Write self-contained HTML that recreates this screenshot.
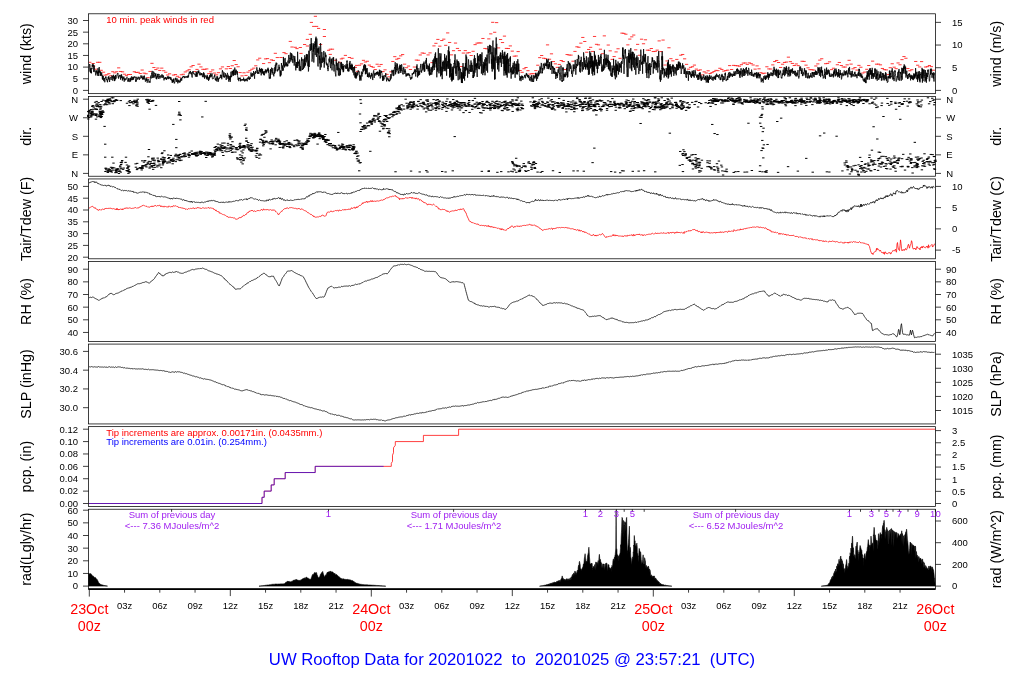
<!DOCTYPE html>
<html><head><meta charset="utf-8"><title>UW Rooftop Data</title><style>html,body{margin:0;padding:0;background:#fff;overflow:hidden}svg{display:block}text{white-space:pre}</style></head><body>
<svg width="1024" height="700" viewBox="0 0 1024 700" font-family="'Liberation Sans', Arial, Helvetica, sans-serif" style="white-space:pre">
<rect width="1024" height="700" fill="#fff"/>
<path d="M103.37,75.14H106.57M105.32,74.74H108.52M107.28,73.68H110.48M109.24,75.79H112.44M111.2,71.72H114.4M113.16,72.86H116.36M115.12,71.75H118.32M117.07,67.86H120.27M119.03,71.48H122.23M120.99,71.84H124.19M122.95,74.21H126.15M124.91,75.66H128.11M126.87,74.49H130.07M128.82,74.49H132.02M132.74,71.75H135.94M134.7,72.49H137.9M136.66,72.31H139.86M138.62,73.54H141.82M140.57,70.04H143.77M142.53,73.13H145.73M144.49,73.76H147.69M146.45,77.63H149.65M148.41,71.43H151.61M150.37,63.33H153.57M152.32,67.54H155.52M154.28,69.59H157.48M156.24,68.07H159.44M158.2,70.44H161.4M160.16,68.14H163.36M162.12,70.73H165.32M164.07,72.24H167.27M166.03,74.99H169.23M167.99,73.82H171.19M171.91,75.09H175.11M173.87,74.56H177.07M175.82,76.27H179.02M177.78,77.32H180.98M179.74,74.79H182.94M181.7,74.26H184.9M183.66,71.96H186.86M185.62,70.87H188.82M187.57,69.69H190.77M189.53,66.83H192.73M191.49,65.51H194.69M193.45,71.6H196.65M195.41,69.41H198.61M197.37,64.17H200.57M199.32,66.91H202.52M201.28,69.31H204.48M203.24,69.37H206.44M205.2,68.91H208.4M207.16,73.64H210.36M209.12,71.82H212.32M211.07,69.93H214.27M213.03,73.06H216.23M214.99,74.86H218.19M216.95,72.68H220.15M218.91,68.85H222.11M220.87,66.93H224.07M224.78,68.84H227.98M226.74,66.53H229.94M228.7,68.51H231.9M230.66,65.76H233.86M232.62,60.54H235.82M234.57,64.55H237.77M236.53,66.77H239.73M238.49,72.58H241.69M240.45,75.86H243.65M242.41,72.8H245.61M244.37,75.43H247.57M246.32,72.2H249.52M248.28,70.71H251.48M250.24,69.28H253.44M252.2,68.13H255.4M254.16,65.81H257.36M256.12,59.91H259.32M258.07,58.21H261.27M261.99,63.57H265.19M263.95,58.89H267.15M265.91,58.62H269.11M267.87,62.68H271.07M269.82,59.89H273.02M271.78,60.45H274.98M273.74,53.3H276.94M275.7,57.55H278.9M357.95,65.24H361.15M359.91,63.86H363.11M361.87,60.34H365.07M363.82,62H367.02M365.78,61.24H368.98M367.74,65.1H370.94M369.7,66.49H372.9M371.66,67.25H374.86M373.62,69.55H376.82M375.57,64.22H378.77M377.53,66.3H380.73M379.49,64.46H382.69M381.45,71.62H384.65M383.41,69.83H386.61M385.37,74.36H388.57M387.32,76.83H390.52M389.28,71.82H392.48M391.24,61.46H394.44M393.2,56.65H396.4M395.16,59.2H398.36M397.12,58.36H400.32M399.07,55.87H402.27M401.03,54.57H404.23M402.99,64.16H406.19M404.95,67.71H408.15M406.91,66.07H410.11M408.87,69.47H412.07M412.78,67.04H415.98M414.74,60.05H417.94M416.7,60.25H419.9M418.66,54.96H421.86M420.62,52.98H423.82M422.57,53.3H425.77M426.49,54.92H429.69M428.45,52.9H431.65M430.41,62.61H433.61M432.37,45.9H435.57M434.32,43.32H437.52M436.28,39.42H439.48M438.24,46.16H441.44M440.2,40.53H443.4M442.16,39.16H445.36M444.12,45.33H447.32M446.07,32.92H449.27M448.03,42.48H451.23M449.99,54.87H453.19M451.95,50.7H455.15M453.91,43.07H457.11M455.87,48.44H459.07M457.82,50.6H461.02M459.78,66.52H462.98M461.74,53.05H464.94M463.7,50.61H466.9M465.66,53.02H468.86M467.62,52.62H470.82M469.57,55.5H472.77M471.53,51.3H474.73M473.49,44.63H476.69M475.45,43.14H478.65M477.41,42.9H480.61M479.37,42.97H482.57M481.32,38.48H484.52M483.28,48.44H486.48M485.24,48.84H488.44M487.2,38.88H490.4M489.16,33.86H492.36M491.12,22.32H494.32M493.07,32.28H496.27M495.03,22.61H498.23M496.99,47.92H500.19M498.95,39.53H502.15M500.91,42.55H504.11M502.87,36.11H506.07M504.82,48.42H508.02M506.78,48.53H509.98M508.74,45.91H511.94M510.7,51.13H513.9M512.66,56.2H515.86M514.62,55.99H517.82M516.57,51.57H519.77M518.53,70.48H521.73M520.49,72.3H523.69M522.45,68.76H525.65M524.41,67.51H527.61M526.37,70.7H529.57M528.32,74.06H531.52M530.28,73.63H533.48M532.24,73.76H535.44M534.2,70.63H537.4M536.16,65.22H539.36M538.12,57.65H541.32M540.07,55.52H543.27M542.03,58.23H545.23M543.99,58.63H547.19M545.95,44.88H549.15M547.91,59.22H551.11M549.87,53.84H553.07M551.82,61.54H555.02M553.78,63.86H556.98M555.74,67.36H558.94M557.7,64.44H560.9M559.66,60.5H562.86M561.62,61.55H564.82M563.57,69.49H566.77M565.53,54.54H568.73M567.49,55.02H570.69M569.45,55.11H572.65M571.41,61.2H574.61M573.37,51.41H576.57M575.32,46.8H578.52M577.28,47.28H580.48M579.24,43.17H582.44M581.2,37.44H584.4M583.16,41.49H586.36M585.12,52.22H588.32M587.07,49.48H590.27M589.03,47.32H592.23M590.99,51.43H594.19M592.95,36.46H596.15M594.91,44.32H598.11M596.87,44.87H600.07M598.82,49.21H602.02M600.78,53.7H603.98M602.74,35.86H605.94M606.66,45.04H609.86M608.62,50.85H611.82M610.57,59.39H613.77M612.53,56.56H615.73M614.49,51.92H617.69M616.45,48.77H619.65M618.41,58.33H621.61M620.37,33.13H623.57M622.32,33.38H625.52M624.28,34.2H627.48M626.24,44.86H629.44M628.2,39.09H631.4M630.16,36.84H633.36M632.12,35.05H635.32M634.07,49.82H637.27M636.03,44.37H639.23M637.99,55.27H641.19M639.95,39.19H643.15M641.91,43.75H645.11M643.87,39.79H647.07M645.82,50.16H649.02M647.78,50.25H650.98M649.74,48.5H652.94M651.7,51.54H654.9M653.66,51.39H656.86M655.62,50.13H658.82M657.57,40.9H660.77M659.53,51.56H662.73M661.49,40.07H664.69M663.45,65.02H666.65M665.41,60.94H668.61M667.37,47.78H670.57M669.32,58.68H672.52M671.28,60.83H674.48M675.2,59.42H678.4M679.12,55.19H682.32M681.07,54.47H684.27M683.03,58.83H686.23M684.99,64.37H688.19M686.95,69.16H690.15M688.91,67.37H692.11M690.87,66.72H694.07M692.82,65.08H696.02M694.78,69.11H697.98M696.74,70.46H699.94M698.7,69.86H701.9M700.66,74.86H703.86M702.62,71.87H705.82M704.57,72.97H707.77M706.53,70.8H709.73M708.49,73.53H711.69M710.45,72.62H713.65M712.41,71.56H715.61M714.37,70.36H717.57M716.32,70.68H719.52M718.28,68.27H721.48M720.24,69.43H723.44M722.2,71.12H725.4M724.16,70.56H727.36M726.12,70.11H729.32M728.07,65.6H731.27M730.03,69.49H733.23M731.99,65.36H735.19M733.95,65.61H737.15M735.91,65.77H739.11M737.87,66.18H741.07M739.82,64.66H743.02M741.78,63.1H744.98M743.74,62.97H746.94M745.7,64.37H748.9M747.66,62.85H750.86M749.62,63.67H752.82M751.57,64.99H754.77M753.53,69.14H756.73M755.49,65.89H758.69M757.45,68.82H760.65M759.41,72.69H762.61M761.37,73.6H764.57M763.32,73.15H766.52M765.28,66.78H768.48M767.24,68.91H770.44M769.2,69.03H772.4M771.16,64.89H774.36M773.12,61.55H776.32M775.07,60.47H778.27M777.03,62.5H780.23M778.99,67.46H782.19M780.95,64.23H784.15M782.91,62.45H786.11M784.87,62.06H788.07M786.82,57.16H790.02M788.78,61.65H791.98M790.74,63.43H793.94M792.7,65.52H795.9M794.66,63.96H797.86M796.62,65.64H799.82M800.53,61.26H803.73M802.49,61.42H805.69M804.45,65.15H807.65M806.41,67.82H809.61M808.37,69.68H811.57M810.32,69.68H813.52M812.28,70.05H815.48M814.24,65.98H817.44M816.2,63.9H819.4M818.16,60.14H821.36M820.12,58.75H823.32M824.03,63.7H827.23M825.99,63.4H829.19M827.95,61.83H831.15M829.91,69.65H833.11M831.87,68.24H835.07M835.78,64.74H838.98M837.74,62.47H840.94M839.7,65.52H842.9M841.66,67.03H844.86M843.62,67.05H846.82M845.57,64.83H848.77M847.53,60.32H850.73M849.49,64.12H852.69M851.45,68.82H854.65M853.41,67.57H856.61M855.37,70.07H858.57M857.32,65.39H860.52M859.28,67.24H862.48M861.24,73.03H864.44M863.2,72.09H866.4M865.16,69.3H868.36M867.12,65.52H870.32M871.03,61.13H874.23M874.95,64.18H878.15M876.91,64.11H880.11M878.87,64.85H882.07M880.82,68.48H884.02M882.78,69.64H885.98M884.74,69.9H887.94M886.7,74.6H889.9M888.66,67.73H891.86M890.62,63.75H893.82M892.57,67.19H895.77M894.53,68.66H897.73M896.49,62.95H899.69M898.45,64.78H901.65M900.41,59.65H903.61M902.37,56.57H905.57M904.32,58.25H907.52M906.28,68.55H909.48M908.24,70.75H911.44M910.2,69.74H913.4M914.12,61.46H917.32M916.07,65.22H919.27M918.03,66.94H921.23M919.99,61.6H923.19M923.91,67.03H927.11M925.87,66.67H929.07M927.82,65.49H931.02M929.78,66.65H932.98M931.74,70.21H934.94M279.4,57.5H282.6M288.7,41.4H291.9M284.4,53.7H287.6M282.4,52.6H285.6M290.4,47H293.6M293.7,47.3H296.9M295.4,48.6H298.6M298.7,47.5H301.9M299.4,53.4H302.6M303,44.5H306.2M305.8,39.4H309M308.7,34.3H311.9M305.8,46H309M309.8,22.4H313M312.1,26.4H315.3M315,26.4H318.2M317,28.4H320.2M313.8,16.3H317M322.8,29.5H326M322.8,36.5H326M319,44.5H322.2M327,50.3H330.2M328.7,49.2H331.9M330.9,49.2H334.1M328.7,54.4H331.9M334.1,60.3H337.3M337.8,62.3H341M339.8,58.9H343M343.8,55.4H347M341.3,58.2H344.5M347.8,57.5H351M350.4,58.3H353.6M355,65.4H358.2M353.8,67.4H357M356.1,71.4H359.3M88.9,62.3H91.4M91.6,63.5H94.8M96,62.3H99.2M98.2,62.3H101.4M92,66.2H95.2M94.2,69.2H97.4M99.6,70.3H102.8M101.9,72.2H105.1" stroke="#ff2020" stroke-width="0.9" fill="none"/>
<polyline points="89,71.78 89.2,71.42 89.4,65.92 89.6,64.02 89.8,64.41 90,64.8 90.2,67.68 90.4,72.42 90.6,68.36 90.8,71.02 91,73.12 91.2,71.22 91.4,73.31 91.6,68.06 91.8,68.26 92,69.18 92.2,64.72 92.4,66.57 92.6,64.21 92.8,64.03 93,63.69 93.2,66.06 93.4,64.7 93.6,71.77 93.8,71.95 94,69.48 94.2,65.4 94.4,67.99 94.6,69.25 94.8,71.58 95,70.39 95.2,72.4 95.4,72.47 95.6,73.85 95.8,75.45 96,71.01 96.2,71.51 96.4,72.5 96.6,70.34 96.8,71.98 97,73.49 97.2,74.16 97.4,71.6 97.6,73.14 97.8,75.81 98,68.23 98.2,73.26 98.4,72.83 98.6,70.68 98.8,76.03 99,71.01 99.2,67.07 99.4,70.01 99.6,72.14 99.8,71.33 100,72.97 100.2,71.46 100.4,72.07 100.6,75.75 100.8,71.89 101,75.42 101.2,74.55 101.4,75.65 101.6,72.68 101.8,73.45 102,74.84 102.2,77.33 102.4,79.34 102.6,75.51 102.8,77.58 103,79.8 103.2,75.95 103.4,79.2 103.6,79.27 103.8,81.12 104,80.24 104.2,77.9 104.4,78.07 104.6,79.18 104.8,82.28 105,79.21 105.2,78.14 105.4,78.31 105.6,76.69 105.8,77.64 106,76.65 106.2,78.45 106.4,78.38 106.6,80.04 106.8,79.36 107,79.7 107.2,81.43 107.4,80.6 107.6,82.25 107.8,79.61 108,79.91 108.2,76.9 108.4,79.27 108.6,76.86 108.8,76.21 109,78.42 109.2,77.84 109.4,80.23 109.6,81.97 109.8,78.6 110,78.12 110.2,77.45 110.4,77.1 110.6,77.41 110.8,78.06 111,79.71 111.2,80.06 111.4,77.2 111.6,77.32 111.8,76.91 112,75.42 112.2,77.74 112.4,76.11 112.6,80.46 112.8,80.66 113,79.38 113.2,79.14 113.4,78.54 113.6,74.8 113.8,76.55 114,78.71 114.2,76.02 114.4,81.11 114.6,77.01 114.8,80.82 115,77.69 115.2,79.45 115.4,77.45 115.6,74.96 115.8,78.97 116,78.31 116.2,78.07 116.4,76.81 116.6,76.19 116.8,75.67 117,75.85 117.2,73.85 117.4,74 117.6,73.21 117.8,73.45 118,73.14 118.2,77.44 118.4,76.67 118.6,78.62 118.8,77.74 119,75.88 119.2,76.51 119.4,75.13 119.6,75.12 119.8,75.79 120,75.64 120.2,74.82 120.4,76.86 120.6,79.67 120.8,75.82 121,75.35 121.2,76.43 121.4,77.81 121.6,74.34 121.8,77.43 122,78.23 122.2,76.25 122.4,80.49 122.6,77.75 122.8,77.64 123,77.38 123.2,79.28 123.4,77.52 123.6,77.88 123.8,76.64 124,76.6 124.2,81.68 124.4,78.83 124.6,79.87 124.8,78.98 125,78.02 125.2,78.88 125.4,80.31 125.6,79.31 125.8,79.5 126,78.9 126.2,79.15 126.4,79.16 126.6,78.71 126.8,77.42 127,76.79 127.2,79.13 127.4,79.95 127.6,80.04 127.8,81.62 128,80.99 128.2,80.22 128.4,80.04 128.6,78.3 128.8,81.6 129,78.45 129.2,81.42 129.4,81.48 129.6,81.58 129.8,81.74 130,81.67 130.2,77.89 130.4,77.87 130.6,81.47 130.8,78.43 131,79.9 131.2,80.02 131.4,76.48 131.6,76.53 131.8,79.93 132,80.09 132.2,79.44 132.4,80.09 132.6,77.93 132.8,76.8 133,79.49 133.2,77.68 133.4,76.89 133.6,79.56 133.8,77.35 134,77.3 134.2,76.58 134.4,76.6 134.6,76.54 134.8,77.6 135,77.86 135.2,76.69 135.4,78.38 135.6,79.81 135.8,81.89 136,79.77 136.2,81.4 136.4,79.12 136.6,78.27 136.8,76.81 137,78.37 137.2,79.55 137.4,79.18 137.6,78.73 137.8,77.86 138,79.31 138.2,77.79 138.4,76.88 138.6,77.47 138.8,76.93 139,76.77 139.2,78.18 139.4,79.79 139.6,78.92 139.8,77.59 140,77.58 140.2,78.51 140.4,77.49 140.6,76.77 140.8,75.5 141,76.3 141.2,76.68 141.4,77.23 141.6,78.1 141.8,75.61 142,77.58 142.2,77.01 142.4,78.96 142.6,78.28 142.8,79.72 143,78.25 143.2,75.86 143.4,78.98 143.6,79.19 143.8,77.48 144,79.36 144.2,78.81 144.4,75.55 144.6,77.65 144.8,78.37 145,79.69 145.2,79.27 145.4,81.63 145.6,80.66 145.8,80.82 146,78.56 146.2,77.66 146.4,79.93 146.6,79.09 146.8,81.04 147,78.63 147.2,82.69 147.4,81.39 147.6,80.9 147.8,80.35 148,79.35 148.2,79.2 148.4,79.44 148.6,79.29 148.8,81.03 149,82.61 149.2,81.39 149.4,81.05 149.6,81.32 149.8,80.95 150,82.75 150.2,81.22 150.4,78.15 150.6,76.5 150.8,75.58 151,76.64 151.2,78.44 151.4,76.65 151.6,73.99 151.8,72.8 152,73.71 152.2,70.9 152.4,74.3 152.6,74.11 152.8,78.06 153,74.34 153.2,77.62 153.4,77.26 153.6,71.54 153.8,71.83 154,72.56 154.2,73.43 154.4,72.94 154.6,74.62 154.8,77.55 155,75.33 155.2,75.79 155.4,73.79 155.6,76.24 155.8,73.33 156,74.26 156.2,78.9 156.4,76.72 156.6,79.17 156.8,79.3 157,77.04 157.2,75.69 157.4,77.39 157.6,74 157.8,74.96 158,73.81 158.2,77.41 158.4,78.8 158.6,77.59 158.8,75.62 159,74 159.2,75.51 159.4,77.22 159.6,76.31 159.8,78.66 160,78.49 160.2,77.59 160.4,77.56 160.6,76 160.8,75.35 161,75.77 161.2,77.61 161.4,77.47 161.6,76.06 161.8,74.53 162,75.47 162.2,74.67 162.4,74.8 162.6,77.7 162.8,77.96 163,76.85 163.2,75.25 163.4,77.18 163.6,76.44 163.8,78.11 164,80.39 164.2,78.34 164.4,78.93 164.6,77.87 164.8,78.79 165,78.69 165.2,77.25 165.4,78.51 165.6,77.29 165.8,78.97 166,78.99 166.2,79.46 166.4,77.94 166.6,79.76 166.8,78.23 167,77.51 167.2,78.17 167.4,76.5 167.6,76.36 167.8,78.68 168,77.48 168.2,77.62 168.4,79.13 168.6,76.33 168.8,76.51 169,77.69 169.2,77.53 169.4,77.02 169.6,78.52 169.8,77.71 170,76.91 170.2,77.59 170.4,79.42 170.6,79.51 170.8,77.11 171,79.54 171.2,78.58 171.4,80.27 171.6,79.68 171.8,80.22 172,80.05 172.2,82.73 172.4,80.12 172.6,82.49 172.8,79.85 173,82.01 173.2,79.01 173.4,81.06 173.6,81.73 173.8,78.5 174,82.15 174.2,83.29 174.4,82.53 174.6,83.23 174.8,82.11 175,80.96 175.2,79.13 175.4,78.33 175.6,79.64 175.8,77.73 176,78.98 176.2,81.38 176.4,82.01 176.6,79.8 176.8,80.15 177,78.4 177.2,78.64 177.4,81.13 177.6,80.58 177.8,83.36 178,80.79 178.2,81.86 178.4,80.5 178.6,79.79 178.8,81.89 179,81.52 179.2,82.67 179.4,81.8 179.6,80.61 179.8,81.79 180,81.39 180.2,82.27 180.4,79.59 180.6,80.15 180.8,78.35 181,81.02 181.2,78.7 181.4,78.2 181.6,80 181.8,80.32 182,77.73 182.2,77.3 182.4,77.5 182.6,76.88 182.8,78.09 183,76.52 183.2,76.16 183.4,76.92 183.6,75.95 183.8,76.57 184,75.99 184.2,76.08 184.4,76.26 184.6,78.17 184.8,77 185,77.31 185.2,76.52 185.4,76.28 185.6,76.68 185.8,77.61 186,76.84 186.2,76.99 186.4,76.82 186.6,76.34 186.8,77.49 187,77.42 187.2,76.45 187.4,75.88 187.6,76.04 187.8,77.84 188,75.79 188.2,77.3 188.4,75.45 188.6,76.42 188.8,73.74 189,74.09 189.2,72.55 189.4,71.73 189.6,73.34 189.8,73.29 190,72.2 190.2,72.16 190.4,70.97 190.6,73.43 190.8,73.12 191,73.44 191.2,74.28 191.4,72.37 191.6,74.92 191.8,75.84 192,77.08 192.2,77.5 192.4,73.91 192.6,71.66 192.8,72.37 193,72.29 193.2,71.23 193.4,73.43 193.6,72.88 193.8,74.23 194,74.45 194.2,74.52 194.4,74.61 194.6,74.05 194.8,73.53 195,74.21 195.2,74.39 195.4,76.61 195.6,76.04 195.8,74.06 196,74.66 196.2,71.7 196.4,73.95 196.6,76.76 196.8,72.3 197,76.63 197.2,76.54 197.4,73.35 197.6,73.83 197.8,72.45 198,70.88 198.2,72.9 198.4,71.17 198.6,73.06 198.8,70.5 199,72.95 199.2,74.18 199.4,73.84 199.6,74.13 199.8,75.31 200,72.32 200.2,74 200.4,73.92 200.6,73.9 200.8,75.22 201,73.54 201.2,73.69 201.4,74.96 201.6,73.16 201.8,73.9 202,73.23 202.2,75.8 202.4,76.79 202.6,76.97 202.8,76.31 203,74.09 203.2,77.27 203.4,75.9 203.6,72.29 203.8,75.11 204,73.19 204.2,73.48 204.4,75.96 204.6,78.68 204.8,74.88 205,75.59 205.2,76.8 205.4,77.21 205.6,76.51 205.8,76.14 206,75.61 206.2,75.91 206.4,78.15 206.6,78.62 206.8,76.58 207,79.41 207.2,74.85 207.4,75.69 207.6,78.09 207.8,76.86 208,79.89 208.2,79.56 208.4,78.09 208.6,80.86 208.8,78.05 209,76.91 209.2,79.61 209.4,76.6 209.6,77.54 209.8,74.91 210,77.42 210.2,76.95 210.4,76.43 210.6,73.5 210.8,75.17 211,77.12 211.2,75.19 211.4,74.81 211.6,75.48 211.8,76.24 212,73.29 212.2,76.97 212.4,78.71 212.6,79.08 212.8,78.94 213,78.8 213.2,78.07 213.4,78.51 213.6,78.37 213.8,77.44 214,77.55 214.2,76.18 214.4,76.75 214.6,74.54 214.8,74.95 215,76.74 215.2,79.6 215.4,78.78 215.6,80.34 215.8,78.4 216,80.09 216.2,79.63 216.4,80.81 216.6,81.32 216.8,76.4 217,76.82 217.2,79.49 217.4,76.8 217.6,76.44 217.8,81.08 218,81.1 218.2,81.94 218.4,79.13 218.6,80.45 218.8,77.93 219,79 219.2,78.12 219.4,77.82 219.6,78.16 219.8,77.48 220,77.86 220.2,76.98 220.4,74.81 220.6,75.73 220.8,74.93 221,78.02 221.2,74.82 221.4,75.14 221.6,78.62 221.8,79.26 222,77.63 222.2,71.72 222.4,70.19 222.6,72.13 222.8,71.49 223,71.47 223.2,75.92 223.4,76.98 223.6,73.82 223.8,72.91 224,72.27 224.2,77.81 224.4,76.23 224.6,76.33 224.8,75.82 225,76.93 225.2,73.05 225.4,74.48 225.6,74.53 225.8,75.79 226,74.59 226.2,79.92 226.4,77.05 226.6,75.37 226.8,76.66 227,76.4 227.2,77.52 227.4,72.86 227.6,73.77 227.8,74.11 228,79.02 228.2,77.67 228.4,75.49 228.6,78.11 228.8,81.66 229,76.35 229.2,76.45 229.4,80.05 229.6,78.03 229.8,79.32 230,75.93 230.2,81.86 230.4,80.16 230.6,75.79 230.8,77.42 231,71.72 231.2,77.07 231.4,76.55 231.6,75.86 231.8,76.37 232,73.08 232.2,70.88 232.4,73.32 232.6,71.06 232.8,74.58 233,73.27 233.2,76 233.4,69.66 233.6,74.96 233.8,70.34 234,72.26 234.2,75.1 234.4,71.17 234.6,68.17 234.8,67.57 235,68.56 235.2,71.04 235.4,75.14 235.6,71.16 235.8,72.69 236,69.63 236.2,71.4 236.4,70.6 236.6,73.53 236.8,73.47 237,74.26 237.2,74.72 237.4,71.26 237.6,75.32 237.8,77.71 238,79.37 238.2,79.96 238.4,78.87 238.6,77.73 238.8,81.18 239,77.98 239.2,78.8 239.4,78.04 239.6,78.88 239.8,77.92 240,78.2 240.2,77.62 240.4,78.05 240.6,81.32 240.8,78.97 241,79.25 241.2,80.06 241.4,80.38 241.6,79.6 241.8,80.06 242,80.51 242.2,79.82 242.4,79.44 242.6,80.21 242.8,79.34 243,79.98 243.2,79.22 243.4,80.59 243.6,77.65 243.8,78.52 244,78.71 244.2,80.08 244.4,80.55 244.6,81.34 244.8,79.29 245,81.21 245.2,79.92 245.4,79.68 245.6,80.5 245.8,79.21 246,78.89 246.2,79.91 246.4,78.73 246.6,79.62 246.8,80.62 247,79.83 247.2,81.32 247.4,78.57 247.6,77.64 247.8,78.85 248,78.3 248.2,78.19 248.4,78.77 248.6,77.32 248.8,76.37 249,79.46 249.2,78.71 249.4,79.72 249.6,77.55 249.8,78.87 250,77.64 250.2,78.89 250.4,77.61 250.6,76.79 250.8,76.44 251,72.5 251.2,76.28 251.4,75.77 251.6,75.83 251.8,73.81 252,77.05 252.2,75.03 252.4,73.43 252.6,73.22 252.8,75.91 253,74.78 253.2,73.22 253.4,73.11 253.6,71.05 253.8,75.13 254,74 254.2,75.24 254.4,76.89 254.6,78.72 254.8,72.36 255,73.95 255.2,73.45 255.4,73.79 255.6,71.02 255.8,72.3 256,73.05 256.2,71.7 256.4,70.17 256.6,69.99 256.8,67.31 257,68.21 257.2,70.59 257.4,73.5 257.6,73.67 257.8,70.03 258,71.71 258.2,73.88 258.4,72.03 258.6,72.5 258.8,72.79 259,73.64 259.2,71.38 259.4,69.16 259.6,67.74 259.8,71.42 260,68.99 260.2,71.5 260.4,69 260.6,72.38 260.8,69.67 261,68.83 261.2,75.39 261.4,70.68 261.6,68.36 261.8,70.86 262,69.41 262.2,73.6 262.4,72.21 262.6,68.92 262.8,73.07 263,72.11 263.2,71.47 263.4,74.25 263.6,72.23 263.8,74.96 264,71.23 264.2,75.38 264.4,75.18 264.6,73.33 264.8,72.01 265,70.93 265.2,72.13 265.4,69.41 265.6,70.97 265.8,72.17 266,73.41 266.2,70.21 266.4,72.08 266.6,70.49 266.8,72.37 267,70.04 267.2,69.1 267.4,70.88 267.6,70.82 267.8,68.13 268,67.71 268.2,71.33 268.4,68.74 268.6,72.82 268.8,69.89 269,76.68 269.2,78.68 269.4,78.78 269.6,76.96 269.8,77.69 270,74.62 270.2,73.11 270.4,78.62 270.6,68.97 270.8,74.79 271,70.08 271.2,71.41 271.4,69.38 271.6,67.64 271.8,69.69 272,72.78 272.2,72.54 272.4,73.39 272.6,71.93 272.8,68.24 273,74.76 273.2,74.75 273.4,73.97 273.6,73.78 273.8,76.35 274,72.17 274.2,71.94 274.4,73.34 274.6,73.82 274.8,67.29 275,72.57 275.2,64.99 275.4,64.65 275.6,70.77 275.8,65.08 276,62.58 276.2,62.66 276.4,65.19 276.6,64.3 276.8,62.96 277,68.5 277.2,71.21 277.4,70.29 277.6,71.29 277.8,70.17 278,69.04 278.2,70.25 278.4,69.9 278.6,69.25 278.8,66.37 279,64.73 279.2,68.79 279.4,66.9 279.6,70.81 279.8,71.8 280,73.92 280.2,76.45 280.4,70.68 280.6,76.14 280.8,70.62 281,75.25 281.2,74.36 281.4,63.03 281.6,65.64 281.8,65.81 282,66.25 282.2,68.5 282.4,65.49 282.6,70.4 282.8,71.02 283,67.64 283.2,70.44 283.4,56.95 283.6,65.14 283.8,58.62 284,66.37 284.2,65.96 284.4,64.72 284.6,67.45 284.8,60.96 285,58.58 285.2,57.95 285.4,63.56 285.6,65.71 285.8,66.28 286,62.49 286.2,65.41 286.4,62.63 286.6,63.16 286.8,65.74 287,66.4 287.2,64.56 287.4,66.14 287.6,64.16 287.8,66.11 288,60.63 288.2,63.49 288.4,58.46 288.6,58.43 288.8,54.97 289,59.8 289.2,60.95 289.4,60.65 289.6,63.28 289.8,57.86 290,58.88 290.2,54.68 290.4,52.62 290.6,53.77 290.8,61.61 291,57.97 291.2,59.74 291.4,58.82 291.6,53.18 291.8,58.6 292,54.41 292.2,60.2 292.4,59.23 292.6,62.14 292.8,62.94 293,62.87 293.2,58.71 293.4,55.93 293.6,55.87 293.8,55.81 294,57.67 294.2,65.65 294.4,58.4 294.6,61.6 294.8,56.14 295,59.8 295.2,59.76 295.4,63.13 295.6,65.87 295.8,70.39 296,64.62 296.2,66.41 296.4,62.04 296.6,67.78 296.8,65.47 297,64.3 297.2,62.17 297.4,67.97 297.6,51.78 297.8,60.36 298,66.09 298.2,62.72 298.4,61.63 298.6,63.49 298.8,61.95 299,64.32 299.2,70.64 299.4,70.76 299.6,59.59 299.8,63.73 300,65.77 300.2,70.79 300.4,66.81 300.6,66.32 300.8,71.18 301,69.66 301.2,63.07 301.4,60.79 301.6,57.4 301.8,60.92 302,58.92 302.2,69.99 302.4,68.77 302.6,69.48 302.8,69.53 303,67.78 303.2,59.26 303.4,69.06 303.6,66.54 303.8,62.95 304,62.82 304.2,62.71 304.4,58.34 304.6,67.5 304.8,55.22 305,60 305.2,65.8 305.4,63.26 305.6,64.5 305.8,62.74 306,57.2 306.2,62.32 306.4,53.97 306.6,59.17 306.8,55.58 307,59.67 307.2,60.67 307.4,54.34 307.6,56.57 307.8,66.18 308,65.84 308.2,60.73 308.4,71.48 308.6,70.21 308.8,50.71 309,57.13 309.2,66.98 309.4,58.94 309.6,53.02 309.8,46.63 310,44.55 310.2,43.96 310.4,45.21 310.6,50.81 310.8,47.63 311,45.19 311.2,38.08 311.4,49.92 311.6,43.16 311.8,50.68 312,61.63 312.2,59.49 312.4,59 312.6,52.68 312.8,47.13 313,45.08 313.2,43.21 313.4,51.56 313.6,44.52 313.8,62.51 314,57.15 314.2,47.82 314.4,48.58 314.6,44.18 314.8,44.87 315,41.45 315.2,55.1 315.4,47.1 315.6,38.46 315.8,47.04 316,36.68 316.2,44.84 316.4,56.88 316.6,53.8 316.8,38.49 317,42.18 317.2,52.63 317.4,48.43 317.6,53.64 317.8,66.07 318,66.55 318.2,66.38 318.4,51.92 318.6,48.09 318.8,53.61 319,46.52 319.2,52.83 319.4,59.92 319.6,55.73 319.8,63.42 320,58.47 320.2,69.88 320.4,43.55 320.6,43.05 320.8,46.91 321,54.78 321.2,67.37 321.4,63.32 321.6,60.67 321.8,52.09 322,54.13 322.2,63.07 322.4,59.88 322.6,58.4 322.8,60.35 323,57.27 323.2,61.99 323.4,55.64 323.6,55.11 323.8,50.97 324,55.63 324.2,67.63 324.4,57.62 324.6,63.44 324.8,61.81 325,58.84 325.2,52.43 325.4,56.54 325.6,55.32 325.8,57.13 326,54.77 326.2,63.5 326.4,64.65 326.6,62.58 326.8,63.47 327,65.61 327.2,65.5 327.4,63.73 327.6,68.8 327.8,67.85 328,71.08 328.2,69.9 328.4,66.38 328.6,66.94 328.8,64.96 329,58.62 329.2,60.99 329.4,60.69 329.6,62.25 329.8,56.71 330,59.18 330.2,61.11 330.4,66.81 330.6,68.17 330.8,65.29 331,61.87 331.2,58.61 331.4,63.66 331.6,59.41 331.8,66.37 332,70.4 332.2,66.25 332.4,62.79 332.6,61.05 332.8,58.09 333,57.6 333.2,64.87 333.4,64.34 333.6,57.22 333.8,66.78 334,71.45 334.2,64.68 334.4,64.55 334.6,64.75 334.8,65.07 335,67.82 335.2,72.27 335.4,73.79 335.6,74.03 335.8,76.39 336,69.97 336.2,58.61 336.4,65.71 336.6,62.4 336.8,65.13 337,70.03 337.2,64.36 337.4,63.23 337.6,70.31 337.8,69.65 338,67.61 338.2,71.02 338.4,75.56 338.6,72.6 338.8,61.5 339,69.6 339.2,68.28 339.4,68.28 339.6,75.79 339.8,75.6 340,71.24 340.2,69.06 340.4,75.03 340.6,70.13 340.8,62.67 341,64.7 341.2,67.41 341.4,61.96 341.6,68.79 341.8,66.37 342,63.66 342.2,70.18 342.4,70.08 342.6,66.01 342.8,68.58 343,63.96 343.2,72.2 343.4,66.03 343.6,71.63 343.8,69.88 344,66.58 344.2,66.24 344.4,65.42 344.6,65.2 344.8,65.5 345,66.56 345.2,65.98 345.4,67.94 345.6,68.55 345.8,66.84 346,64.3 346.2,67.02 346.4,68.89 346.6,66.1 346.8,60.8 347,61.59 347.2,60.59 347.4,67.85 347.6,64.21 347.8,70.95 348,67.52 348.2,71.59 348.4,70.79 348.6,68.8 348.8,69.76 349,71.35 349.2,68.38 349.4,62.71 349.6,64.92 349.8,68.8 350,60.97 350.2,68.43 350.4,64.86 350.6,67.09 350.8,68.99 351,67.68 351.2,69.85 351.4,65.11 351.6,70.18 351.8,63.71 352,69.25 352.2,69.49 352.4,64.79 352.6,70.78 352.8,70.45 353,72.57 353.2,70.2 353.4,68.86 353.6,67.05 353.8,74.54 354,75.34 354.2,71.69 354.4,71.38 354.6,66.33 354.8,73.57 355,77.61 355.2,73.32 355.4,77.64 355.6,75.91 355.8,71.95 356,78.68 356.2,72.81 356.4,74.45 356.6,77.54 356.8,74.66 357,75.81 357.2,75.58 357.4,72.08 357.6,72.29 357.8,74.81 358,72.29 358.2,70.33 358.4,71.17 358.6,71.55 358.8,71.4 359,72.35 359.2,71.66 359.4,76.44 359.6,75.59 359.8,80.63 360,75.36 360.2,76.88 360.4,79.29 360.6,76.18 360.8,75.65 361,80.54 361.2,75.83 361.4,71.64 361.6,72.22 361.8,75.99 362,76.49 362.2,74.75 362.4,72.43 362.6,73.77 362.8,72.9 363,68.86 363.2,71.66 363.4,70.71 363.6,65.51 363.8,68.8 364,70.49 364.2,69.36 364.4,64.31 364.6,66.61 364.8,69.59 365,70.47 365.2,64.71 365.4,74.28 365.6,65.43 365.8,71.87 366,73.9 366.2,73.71 366.4,72.59 366.6,68.47 366.8,72.45 367,69.41 367.2,68.16 367.4,76.88 367.6,73.85 367.8,76.79 368,72.68 368.2,77.2 368.4,77.27 368.6,77.35 368.8,75.98 369,74.38 369.2,75.62 369.4,72.55 369.6,73.1 369.8,77.16 370,75.47 370.2,76.84 370.4,76.84 370.6,78.7 370.8,78.1 371,75.35 371.2,76.52 371.4,73.45 371.6,72.88 371.8,76.1 372,73.7 372.2,75.96 372.4,76.53 372.6,79.05 372.8,80.06 373,74.59 373.2,74.17 373.4,71.64 373.6,70.48 373.8,70.41 374,75.86 374.2,77.89 374.4,75.86 374.6,73.75 374.8,75.56 375,72.96 375.2,73.74 375.4,72.91 375.6,74.46 375.8,75.34 376,74.93 376.2,74.38 376.4,72.27 376.6,73.44 376.8,72.18 377,74.68 377.2,71.81 377.4,74.45 377.6,74.35 377.8,71.54 378,73.26 378.2,72.28 378.4,74.41 378.6,76.18 378.8,74.49 379,72.85 379.2,75.67 379.4,69.75 379.6,74.46 379.8,70.56 380,69.97 380.2,78.44 380.4,76.65 380.6,72.61 380.8,73.13 381,70.81 381.2,72.56 381.4,70.91 381.6,71.11 381.8,73.15 382,73.38 382.2,77.11 382.4,76.13 382.6,80.89 382.8,76.51 383,77.89 383.2,75.79 383.4,75.6 383.6,80.48 383.8,77.68 384,79.31 384.2,78 384.4,76.33 384.6,75.54 384.8,75.89 385,75.32 385.2,76.92 385.4,77 385.6,74.15 385.8,73.07 386,77.03 386.2,77.69 386.4,79.33 386.6,81.36 386.8,78.6 387,77.36 387.2,77.83 387.4,79.07 387.6,78.87 387.8,78.59 388,79.99 388.2,78.6 388.4,81.14 388.6,80.29 388.8,80.03 389,79.91 389.2,81.22 389.4,80.19 389.6,81.26 389.8,79.78 390,80.4 390.2,77.66 390.4,79.21 390.6,79.81 390.8,74.14 391,78.4 391.2,78.44 391.4,74.66 391.6,75.1 391.8,74.93 392,69.87 392.2,72.35 392.4,70.72 392.6,72.78 392.8,74.33 393,75.86 393.2,75.99 393.4,75.86 393.6,69.88 393.8,75.58 394,74.9 394.2,71.69 394.4,68.12 394.6,67.33 394.8,68.44 395,66.72 395.2,62.22 395.4,69.38 395.6,74.32 395.8,64.93 396,72.27 396.2,70.07 396.4,68.68 396.6,70.13 396.8,63.09 397,63.37 397.2,67.87 397.4,64.19 397.6,66.3 397.8,70.58 398,67.69 398.2,73.37 398.4,71.07 398.6,73.33 398.8,72.35 399,73.29 399.2,71.56 399.4,66.19 399.6,68.81 399.8,64.65 400,65.28 400.2,71.34 400.4,65.04 400.6,66.31 400.8,72.97 401,67.27 401.2,71.18 401.4,67.67 401.6,64.25 401.8,64.9 402,67.77 402.2,68.04 402.4,69.37 402.6,72.02 402.8,74.18 403,73.45 403.2,74.33 403.4,70.93 403.6,67.49 403.8,66.89 404,69.22 404.2,71.63 404.4,70.76 404.6,72.55 404.8,73.89 405,69.14 405.2,69.49 405.4,72.08 405.6,71.42 405.8,75.22 406,76.52 406.2,75.89 406.4,74.36 406.6,76.13 406.8,74.04 407,73.2 407.2,75.18 407.4,75.42 407.6,74.12 407.8,75.41 408,74.32 408.2,73.2 408.4,75 408.6,74.9 408.8,75.46 409,73.6 409.2,75 409.4,74.71 409.6,76.06 409.8,75.16 410,77.95 410.2,77.86 410.4,78.19 410.6,79.59 410.8,77.5 411,77.16 411.2,79.18 411.4,77.29 411.6,77.15 411.8,77.19 412,78.37 412.2,73.43 412.4,74.89 412.6,74.24 412.8,73.17 413,73.06 413.2,73.14 413.4,74.04 413.6,72.04 413.8,74.09 414,72.58 414.2,70.67 414.4,70.51 414.6,72.4 414.8,70.76 415,68.94 415.2,71.3 415.4,69.97 415.6,74.73 415.8,76.56 416,70.99 416.2,71.82 416.4,71.92 416.6,66.32 416.8,68.81 417,64.37 417.2,67.9 417.4,69.16 417.6,77.42 417.8,70.85 418,68.09 418.2,69.83 418.4,71.99 418.6,75.79 418.8,71.16 419,74.61 419.2,70.77 419.4,74.48 419.6,74.9 419.8,73.51 420,68.3 420.2,68.5 420.4,66.58 420.6,67.12 420.8,63.91 421,71.9 421.2,71.42 421.4,70.69 421.6,72.65 421.8,69.93 422,70.41 422.2,64.93 422.4,63.8 422.6,69.29 422.8,69.96 423,70.29 423.2,67.15 423.4,65.38 423.6,63.18 423.8,69.39 424,61.59 424.2,71.29 424.4,71.88 424.6,65.17 424.8,71.38 425,63.9 425.2,63.06 425.4,63.47 425.6,61.77 425.8,60.59 426,60.16 426.2,62.81 426.4,57.94 426.6,68.85 426.8,63.55 427,67.19 427.2,69.24 427.4,66.41 427.6,65.43 427.8,67.31 428,67.48 428.2,71.39 428.4,69.88 428.6,65.73 428.8,69.08 429,68.25 429.2,74.44 429.4,63.55 429.6,75.57 429.8,68.41 430,67.36 430.2,72.31 430.4,74.27 430.6,72.74 430.8,75.02 431,69.46 431.2,70.78 431.4,69.6 431.6,67.29 431.8,74.59 432,71.03 432.2,72.17 432.4,65.91 432.6,67.17 432.8,70.81 433,59.88 433.2,67.63 433.4,67.39 433.6,66.76 433.8,58.58 434,65.18 434.2,70.01 434.4,63.74 434.6,67.24 434.8,56.45 435,63.86 435.2,53.74 435.4,62.17 435.6,52.41 435.8,61.08 436,59.72 436.2,67.55 436.4,58.19 436.6,58.83 436.8,77.31 437,57.89 437.2,62.12 437.4,69.8 437.6,68.4 437.8,71.68 438,69.51 438.2,49.36 438.4,48.27 438.6,66.13 438.8,73.25 439,73.34 439.2,73.27 439.4,65.04 439.6,64.58 439.8,53.19 440,56.56 440.2,70.9 440.4,56.52 440.6,76.37 440.8,59.93 441,53.47 441.2,70.3 441.4,75.18 441.6,71.97 441.8,66.73 442,70.27 442.2,79.15 442.4,66.5 442.6,61.89 442.8,71.51 443,66.14 443.2,60.68 443.4,61.17 443.6,63.24 443.8,68.95 444,61.86 444.2,70.87 444.4,65.51 444.6,53.98 444.8,67.9 445,69 445.2,71.27 445.4,68.03 445.6,57.78 445.8,58.42 446,69.65 446.2,61.52 446.4,55.54 446.6,75.67 446.8,63.8 447,66.59 447.2,62.64 447.4,61.17 447.6,63.01 447.8,68.78 448,67.83 448.2,50.19 448.4,68.69 448.6,49.71 448.8,46.38 449,62.54 449.2,52.03 449.4,51.52 449.6,77.53 449.8,58.92 450,71.33 450.2,68.53 450.4,76.7 450.6,63.54 450.8,72.66 451,63.95 451.2,79.86 451.4,73.19 451.6,76.92 451.8,81.47 452,69.92 452.2,67 452.4,80.46 452.6,69.07 452.8,68.64 453,78.75 453.2,66.3 453.4,79.79 453.6,79.58 453.8,64.6 454,63.01 454.2,63.79 454.4,63.45 454.6,60.33 454.8,68.23 455,54.28 455.2,60.41 455.4,62.65 455.6,66.56 455.8,73.67 456,66.06 456.2,76.02 456.4,69.89 456.6,65.73 456.8,65.15 457,59.53 457.2,67.21 457.4,60.85 457.6,65.66 457.8,74.57 458,75.9 458.2,80.22 458.4,67.01 458.6,61.28 458.8,70.89 459,62.73 459.2,69.75 459.4,66.75 459.6,77.96 459.8,79.47 460,75.77 460.2,75.57 460.4,68.73 460.6,68.59 460.8,73.76 461,78.27 461.2,75.41 461.4,82.74 461.6,72.13 461.8,82.86 462,72.85 462.2,76.86 462.4,83.05 462.6,69.75 462.8,65.28 463,63.05 463.2,64.08 463.4,78.52 463.6,71.59 463.8,78.35 464,66.83 464.2,74.45 464.4,75.33 464.6,80.55 464.8,66.87 465,76.15 465.2,74.29 465.4,63.03 465.6,70.89 465.8,66.68 466,54.5 466.2,69.57 466.4,64.66 466.6,56.61 466.8,58.26 467,70.32 467.2,67.93 467.4,72.9 467.6,77.67 467.8,69.24 468,72.67 468.2,65.28 468.4,59.36 468.6,59.73 468.8,63.12 469,74.04 469.2,71.37 469.4,69.97 469.6,70.14 469.8,70.83 470,64.92 470.2,68.44 470.4,71.75 470.6,68.36 470.8,66.14 471,60.46 471.2,71.95 471.4,64.74 471.6,62.93 471.8,62.73 472,71.66 472.2,64.92 472.4,67.62 472.6,71.67 472.8,72.21 473,78.02 473.2,75.04 473.4,77.87 473.6,70.69 473.8,73.95 474,58.72 474.2,76.46 474.4,55.21 474.6,56.28 474.8,63.77 475,72.61 475.2,58.07 475.4,66.46 475.6,64.56 475.8,69.15 476,70.18 476.2,68.86 476.4,63.24 476.6,68.25 476.8,63.88 477,73.25 477.2,76.97 477.4,53.19 477.6,65.55 477.8,63.5 478,67.97 478.2,58.94 478.4,60.75 478.6,55.79 478.8,69.1 479,67.65 479.2,66.24 479.4,69.2 479.6,62.22 479.8,54.48 480,61.15 480.2,55.53 480.4,54.03 480.6,63.54 480.8,66.25 481,54.66 481.2,59.07 481.4,73.59 481.6,68.12 481.8,54.74 482,52.37 482.2,57.54 482.4,63.47 482.6,65.93 482.8,75.13 483,66.83 483.2,64.86 483.4,72.91 483.6,61.89 483.8,62.47 484,71.91 484.2,67.96 484.4,63.09 484.6,68.51 484.8,59.38 485,75.31 485.2,68.42 485.4,57.29 485.6,60.3 485.8,65.74 486,63.45 486.2,69.52 486.4,70.61 486.6,57.85 486.8,61.5 487,54.54 487.2,61.3 487.4,62.82 487.6,72.6 487.8,59.99 488,45.92 488.2,49.56 488.4,52.97 488.6,49.23 488.8,55.95 489,59.67 489.2,63.43 489.4,55.15 489.6,44.85 489.8,51.77 490,45.17 490.2,45.33 490.4,45.49 490.6,46.67 490.8,54.25 491,45.97 491.2,60.23 491.4,63.77 491.6,58.96 491.8,68.73 492,52.19 492.2,71.56 492.4,66.93 492.6,54.9 492.8,42.17 493,40.53 493.2,64.23 493.4,69.24 493.6,55.42 493.8,67.33 494,47.57 494.2,61.7 494.4,67.84 494.6,79.56 494.8,57.34 495,76.12 495.2,79.18 495.4,49.38 495.6,48.31 495.8,60.52 496,46.23 496.2,37.45 496.4,54.48 496.6,45.15 496.8,43.8 497,62.9 497.2,56.43 497.4,60.74 497.6,69.4 497.8,65.32 498,58.87 498.2,65.18 498.4,56.21 498.6,59.12 498.8,71.58 499,66.02 499.2,63.01 499.4,60.32 499.6,57.75 499.8,58.84 500,54.67 500.2,62.73 500.4,52.46 500.6,59.26 500.8,52.91 501,62.05 501.2,62.39 501.4,67 501.6,58.01 501.8,55.43 502,56.45 502.2,55.52 502.4,50.26 502.6,58.85 502.8,54.09 503,60.94 503.2,63.89 503.4,59.13 503.6,55.92 503.8,56.97 504,75.59 504.2,52.38 504.4,70.77 504.6,61.72 504.8,51.76 505,56.49 505.2,63.55 505.4,73.25 505.6,55.9 505.8,60.74 506,75.37 506.2,61.29 506.4,74.92 506.6,54.58 506.8,64.04 507,59.68 507.2,77.61 507.4,61.49 507.6,53.06 507.8,62.94 508,63.15 508.2,72.32 508.4,58.81 508.6,64.14 508.8,68.26 509,73.23 509.2,65.04 509.4,65.56 509.6,65.31 509.8,62.4 510,57.61 510.2,61.61 510.4,56.35 510.6,72.26 510.8,68.43 511,78.64 511.2,78.57 511.4,75.75 511.6,67.37 511.8,68.6 512,72.75 512.2,71.39 512.4,70.55 512.6,74.35 512.8,65.43 513,68.16 513.2,62.8 513.4,74.12 513.6,71.53 513.8,68.3 514,72.89 514.2,67.02 514.4,61.26 514.6,68.59 514.8,67.07 515,77.7 515.2,77.69 515.4,71.65 515.6,66.63 515.8,63.63 516,69.65 516.2,70.55 516.4,74.28 516.6,63.96 516.8,72.51 517,61.16 517.2,67.17 517.4,74.42 517.6,69.88 517.8,59.2 518,62.64 518.2,62.94 518.4,65.08 518.6,71.55 518.8,63.73 519,70.24 519.2,73.82 519.4,75.83 519.6,77.28 519.8,80.59 520,78.1 520.2,78.31 520.4,76.84 520.6,79.29 520.8,76.38 521,81.15 521.2,79.03 521.4,78.72 521.6,76.34 521.8,75.55 522,77.96 522.2,76.55 522.4,77.51 522.6,76.05 522.8,79.9 523,79.16 523.2,78.44 523.4,77.54 523.6,77.04 523.8,76.82 524,77.07 524.2,77.48 524.4,77.04 524.6,74.91 524.8,75.74 525,74.95 525.2,75.67 525.4,78.25 525.6,77.55 525.8,75.93 526,74.07 526.2,73.31 526.4,73.17 526.6,75.23 526.8,73.54 527,75.53 527.2,74.63 527.4,75.68 527.6,77.09 527.8,74.95 528,76.07 528.2,75.39 528.4,78.1 528.6,75.42 528.8,75.09 529,75.97 529.2,76.08 529.4,79.55 529.6,80.22 529.8,78.64 530,80.73 530.2,78.73 530.4,76.8 530.6,77.7 530.8,78.3 531,78.52 531.2,81.61 531.4,75.25 531.6,78.64 531.8,79.42 532,78.34 532.2,80.37 532.4,81.89 532.6,79.43 532.8,79.79 533,79.17 533.2,75.13 533.4,80.91 533.6,82.01 533.8,79.75 534,78.91 534.2,75.56 534.4,77.44 534.6,77.01 534.8,77.79 535,78.59 535.2,75.58 535.4,77.41 535.6,72.83 535.8,76.16 536,76.63 536.2,74.22 536.4,74.45 536.6,80.75 536.8,73.93 537,73.05 537.2,72.65 537.4,76.59 537.6,78.72 537.8,76.56 538,73.7 538.2,74.29 538.4,76.31 538.6,70.74 538.8,75.5 539,74.86 539.2,72.76 539.4,72.88 539.6,73.08 539.8,73.74 540,66.35 540.2,72.99 540.4,69.65 540.6,67.69 540.8,69.42 541,67.5 541.2,62.92 541.4,63.15 541.6,64.92 541.8,70.84 542,73.48 542.2,71.63 542.4,73.02 542.6,68.01 542.8,70.61 543,68.82 543.2,64.62 543.4,63.59 543.6,65.52 543.8,65.16 544,64.1 544.2,69.43 544.4,66.07 544.6,68.01 544.8,63.5 545,62.74 545.2,63.97 545.4,65.86 545.6,64.25 545.8,63.59 546,65.21 546.2,64.71 546.4,66.11 546.6,59.03 546.8,66.27 547,64.31 547.2,68.86 547.4,63.15 547.6,60.57 547.8,62.61 548,60.03 548.2,58.84 548.4,66.38 548.6,69.13 548.8,64.43 549,68.44 549.2,64.01 549.4,66.8 549.6,62.07 549.8,64.18 550,65.51 550.2,67.13 550.4,69.79 550.6,68.23 550.8,69.57 551,67.23 551.2,61.28 551.4,66.29 551.6,61.69 551.8,68.09 552,73.95 552.2,71.71 552.4,66.05 552.6,67.72 552.8,67.66 553,66.53 553.2,68.55 553.4,67.58 553.6,72.8 553.8,70.85 554,74.01 554.2,67.93 554.4,69.68 554.6,68.37 554.8,69.65 555,73.85 555.2,72.4 555.4,71.79 555.6,73.81 555.8,79.02 556,73.66 556.2,72.31 556.4,75.87 556.6,74.56 556.8,73.97 557,72.45 557.2,77.97 557.4,74.09 557.6,75.73 557.8,73.35 558,69.78 558.2,69.37 558.4,72.67 558.6,71.3 558.8,69.75 559,66.85 559.2,66.82 559.4,74.07 559.6,73.35 559.8,79.99 560,80.2 560.2,80.41 560.4,77.7 560.6,72.91 560.8,71.44 561,65.52 561.2,71.21 561.4,74.32 561.6,79.4 561.8,81.48 562,81.56 562.2,80.17 562.4,81.71 562.6,79.74 562.8,67.46 563,70.6 563.2,67.59 563.4,80.23 563.6,80.81 563.8,80.16 564,73.81 564.2,76.89 564.4,74.32 564.6,75.63 564.8,74.67 565,77.26 565.2,72.36 565.4,76.35 565.6,76.69 565.8,74.52 566,74.79 566.2,74.42 566.4,75.28 566.6,67.87 566.8,70.65 567,67.08 567.2,64.08 567.4,77.52 567.6,71.94 567.8,76.91 568,72.07 568.2,61.01 568.4,61.67 568.6,63.72 568.8,63.67 569,63.2 569.2,71.31 569.4,63.56 569.6,64.67 569.8,62.71 570,65.25 570.2,64.15 570.4,66.32 570.6,68.85 570.8,65.35 571,65.69 571.2,66.98 571.4,70.96 571.6,73.85 571.8,70.92 572,70.41 572.2,74.81 572.4,76.76 572.6,74.11 572.8,73.93 573,73.46 573.2,64.53 573.4,69.15 573.6,67.13 573.8,71.31 574,64.87 574.2,64.41 574.4,67.53 574.6,68.84 574.8,67.15 575,66.24 575.2,59.91 575.4,65.83 575.6,70.28 575.8,74.71 576,71.81 576.2,66.32 576.4,68.07 576.6,63.96 576.8,65.01 577,65.85 577.2,58.95 577.4,66.19 577.6,65.54 577.8,65.23 578,64.49 578.2,57.89 578.4,54.91 578.6,58.92 578.8,55.88 579,62.79 579.2,65.19 579.4,61.83 579.6,69.27 579.8,71.73 580,68.33 580.2,71.13 580.4,72.56 580.6,60.17 580.8,66.65 581,61.32 581.2,56.77 581.4,61.56 581.6,62.52 581.8,66.45 582,68.99 582.2,71.55 582.4,67.42 582.6,62.07 582.8,63.64 583,68.71 583.2,67.25 583.4,69.55 583.6,52.37 583.8,55.44 584,56.74 584.2,59.72 584.4,58.01 584.6,67.09 584.8,61.19 585,60.18 585.2,64.13 585.4,69.08 585.6,63.72 585.8,69.56 586,61.98 586.2,61.03 586.4,56.26 586.6,63.3 586.8,67.32 587,64.29 587.2,66.92 587.4,67.48 587.6,62.6 587.8,69.75 588,60.62 588.2,57.44 588.4,74.87 588.6,69.24 588.8,60.57 589,61.7 589.2,62.31 589.4,74.46 589.6,68.76 589.8,51.17 590,64.02 590.2,61.2 590.4,68.34 590.6,53.06 590.8,52.81 591,66.53 591.2,65.36 591.4,66.95 591.6,55.9 591.8,66.3 592,73.78 592.2,56.06 592.4,70.66 592.6,61 592.8,75.58 593,64.55 593.2,60.51 593.4,71.68 593.6,66.67 593.8,61.85 594,71.44 594.2,63.01 594.4,51.27 594.6,75.15 594.8,62.27 595,54.75 595.2,66.36 595.4,56.19 595.6,59.45 595.8,64.61 596,63.22 596.2,64.51 596.4,65.91 596.6,59.64 596.8,65.88 597,68.87 597.2,62.15 597.4,73.16 597.6,65.44 597.8,69 598,68.58 598.2,64.44 598.4,54.93 598.6,65.49 598.8,60.16 599,64.53 599.2,64.54 599.4,60.39 599.6,65.89 599.8,64.83 600,57.22 600.2,63.73 600.4,55.83 600.6,56.81 600.8,57.09 601,54.04 601.2,57.66 601.4,56.99 601.6,68.27 601.8,71.46 602,66.74 602.2,71.61 602.4,67.63 602.6,66.21 602.8,65.71 603,64.65 603.2,70.95 603.4,64.09 603.6,59 603.8,70.01 604,61.18 604.2,57.95 604.4,49.83 604.6,68.4 604.8,66.73 605,67.48 605.2,66.24 605.4,63.99 605.6,58.46 605.8,64.67 606,54.32 606.2,55.99 606.4,64.8 606.6,61.4 606.8,57.68 607,66.84 607.2,61.47 607.4,59.24 607.6,63.06 607.8,58.62 608,54.81 608.2,57.95 608.4,69.02 608.6,60.02 608.8,68.71 609,67.66 609.2,70.17 609.4,61.13 609.6,65.2 609.8,70.41 610,71.27 610.2,63.36 610.4,62.4 610.6,71 610.8,75.2 611,75.79 611.2,73.09 611.4,75.48 611.6,75.58 611.8,76.58 612,65.51 612.2,76.88 612.4,70.5 612.6,68.48 612.8,72.66 613,68.19 613.2,69.02 613.4,69.77 613.6,58.8 613.8,67.89 614,72.25 614.2,72.58 614.4,75.44 614.6,66.95 614.8,65.7 615,76.36 615.2,77.91 615.4,79.29 615.6,69.84 615.8,59.88 616,72.68 616.2,66.34 616.4,63.57 616.6,77.35 616.8,65.93 617,65.57 617.2,64.5 617.4,70.64 617.6,65.4 617.8,70.96 618,61.53 618.2,62.98 618.4,74.57 618.6,72.19 618.8,67.56 619,66.14 619.2,65.03 619.4,63.19 619.6,71.86 619.8,65.91 620,66.6 620.2,64.11 620.4,67.06 620.6,65.43 620.8,67.95 621,62.37 621.2,72.23 621.4,72.71 621.6,61.12 621.8,62.73 622,63.08 622.2,63.74 622.4,58.69 622.6,47.68 622.8,56.29 623,47.54 623.2,52.31 623.4,58.95 623.6,55.19 623.8,63.77 624,73.93 624.2,66.01 624.4,65.55 624.6,57.33 624.8,57.4 625,49.87 625.2,53.6 625.4,49 625.6,53.72 625.8,58.23 626,58.58 626.2,56.67 626.4,58.32 626.6,67.85 626.8,68.15 627,76.74 627.2,76.8 627.4,75.17 627.6,72.84 627.8,56.23 628,76.95 628.2,68.91 628.4,60.19 628.6,52.97 628.8,62.22 629,49.75 629.2,52.57 629.4,63 629.6,60.81 629.8,55.08 630,68.45 630.2,53.5 630.4,59.43 630.6,53.79 630.8,48.11 631,57.85 631.2,53.8 631.4,69.9 631.6,57.18 631.8,71.18 632,51.95 632.2,64.86 632.4,56.38 632.6,51.74 632.8,57.51 633,57.38 633.2,52.2 633.4,67.39 633.6,57.14 633.8,58.9 634,59.33 634.2,60.08 634.4,53.78 634.6,69.8 634.8,63.78 635,59.67 635.2,58.1 635.4,61.72 635.6,65.47 635.8,74.71 636,68.25 636.2,57.09 636.4,59.33 636.6,65.92 636.8,56.63 637,55.39 637.2,67.82 637.4,63.13 637.6,64.79 637.8,62.45 638,57.35 638.2,64.63 638.4,68.01 638.6,70.42 638.8,74.08 639,71.83 639.2,70.8 639.4,68.49 639.6,63.62 639.8,60.05 640,71 640.2,68.58 640.4,62.49 640.6,58.82 640.8,49.62 641,53.37 641.2,62.72 641.4,63.8 641.6,62.14 641.8,64.83 642,63.78 642.2,62.19 642.4,61.14 642.6,73.74 642.8,55.73 643,61.37 643.2,61.33 643.4,57.89 643.6,49.01 643.8,63.86 644,59.3 644.2,58.72 644.4,57.51 644.6,61.52 644.8,55.93 645,53.99 645.2,62.39 645.4,54.29 645.6,54.26 645.8,66.54 646,66.98 646.2,72.95 646.4,62.67 646.6,75.56 646.8,76.27 647,77.97 647.2,69.47 647.4,70.22 647.6,66.06 647.8,59.03 648,56.12 648.2,73.27 648.4,64.3 648.6,65.77 648.8,78.21 649,78.08 649.2,75.02 649.4,63.25 649.6,64.23 649.8,70.09 650,63.12 650.2,63.8 650.4,72.27 650.6,75.04 650.8,68.4 651,65.98 651.2,66.88 651.4,66.88 651.6,63.74 651.8,60.64 652,60.39 652.2,57.2 652.4,60.99 652.6,57.89 652.8,61.86 653,60.42 653.2,73.62 653.4,69.57 653.6,62.59 653.8,63.52 654,68.18 654.2,60.18 654.4,63.53 654.6,61.75 654.8,68.5 655,66.64 655.2,63.15 655.4,64.57 655.6,61.55 655.8,66.74 656,68.49 656.2,70.17 656.4,62.88 656.6,67.4 656.8,63.32 657,62.33 657.2,56.01 657.4,56.9 657.6,67.29 657.8,72.55 658,60.23 658.2,67.52 658.4,57.27 658.6,51.62 658.8,51.03 659,59.27 659.2,60.89 659.4,62.53 659.6,67.9 659.8,79.29 660,78.25 660.2,75.58 660.4,81.8 660.6,73.32 660.8,70.09 661,80.13 661.2,76.47 661.4,69.67 661.6,67.54 661.8,56.32 662,60.12 662.2,51.37 662.4,74.28 662.6,56.26 662.8,70.55 663,67.62 663.2,68.81 663.4,68.29 663.6,70.42 663.8,71.64 664,77.56 664.2,76.93 664.4,76.11 664.6,68.79 664.8,74.14 665,71.67 665.2,75.66 665.4,75.67 665.6,74.13 665.8,71.63 666,71.27 666.2,68.02 666.4,69.83 666.6,77.21 666.8,69.43 667,71 667.2,74.9 667.4,62.89 667.6,62.89 667.8,70.45 668,61.85 668.2,78.57 668.4,59.74 668.6,77.54 668.8,77.27 669,72.29 669.2,66.35 669.4,70.05 669.6,65.29 669.8,74.64 670,64.02 670.2,68.52 670.4,73.6 670.6,66.04 670.8,71.83 671,73.25 671.2,70.78 671.4,76.59 671.6,73.93 671.8,66.61 672,69.53 672.2,65.86 672.4,65.97 672.6,68.21 672.8,64.58 673,71.58 673.2,64.89 673.4,72.07 673.6,70.68 673.8,75.87 674,72.5 674.2,69.08 674.4,66.73 674.6,67.04 674.8,69.48 675,73.65 675.2,70.07 675.4,69.31 675.6,67.42 675.8,72.88 676,72.81 676.2,75.34 676.4,74.89 676.6,64.38 676.8,63.98 677,70.64 677.2,64.49 677.4,66.44 677.6,70.04 677.8,65.67 678,66.31 678.2,63.36 678.4,61.58 678.6,69.88 678.8,62.7 679,66.01 679.2,61.72 679.4,67.21 679.6,68.04 679.8,67.68 680,64.59 680.2,68.55 680.4,62.81 680.6,66.68 680.8,67.44 681,68.51 681.2,73.98 681.4,71.44 681.6,70.57 681.8,68.94 682,65.61 682.2,68.01 682.4,68.53 682.6,63.33 682.8,67.76 683,68.07 683.2,68.44 683.4,68.17 683.6,65.21 683.8,65.63 684,73.97 684.2,72.85 684.4,69.17 684.6,74.06 684.8,73.46 685,67.59 685.2,67.82 685.4,69.27 685.6,75.26 685.8,75.21 686,77.14 686.2,76.52 686.4,77.96 686.6,71.3 686.8,73.87 687,74.15 687.2,70.81 687.4,73.17 687.6,74.17 687.8,73.43 688,73.6 688.2,75.73 688.4,80.75 688.6,74.18 688.8,71.04 689,73.66 689.2,73.85 689.4,73.6 689.6,71.09 689.8,74.94 690,72.19 690.2,71.89 690.4,72.55 690.6,74.16 690.8,76.62 691,74.95 691.2,74.14 691.4,77.97 691.6,73.93 691.8,76.6 692,72.12 692.2,70.7 692.4,76.03 692.6,71.6 692.8,72.22 693,72.51 693.2,72.84 693.4,72.62 693.6,76.38 693.8,70.22 694,74.52 694.2,77.68 694.4,74.18 694.6,74.54 694.8,74.86 695,74.63 695.2,70.22 695.4,73.11 695.6,72.52 695.8,75.54 696,74.62 696.2,75.26 696.4,75.04 696.6,77.56 696.8,76.06 697,75.74 697.2,76.6 697.4,75.33 697.6,74.55 697.8,79.84 698,77.27 698.2,75.12 698.4,79.63 698.6,75 698.8,76.93 699,74.28 699.2,73.23 699.4,74.62 699.6,72.68 699.8,76.14 700,79.4 700.2,72.39 700.4,77.48 700.6,77.96 700.8,76.84 701,75.31 701.2,80.83 701.4,77.72 701.6,80.33 701.8,77.31 702,76.43 702.2,77.25 702.4,78.13 702.6,79.43 702.8,77.6 703,77.4 703.2,76.89 703.4,77.85 703.6,77.62 703.8,74.6 704,76.59 704.2,80.06 704.4,78.22 704.6,79.08 704.8,77.84 705,77.4 705.2,78.59 705.4,78.35 705.6,75.85 705.8,80.35 706,77.03 706.2,82.56 706.4,82.07 706.6,80.47 706.8,79.45 707,75.4 707.2,78.82 707.4,80.11 707.6,81.77 707.8,75.75 708,82.75 708.2,79.47 708.4,82.67 708.6,76.91 708.8,80.06 709,79.12 709.2,79.91 709.4,78.38 709.6,74.86 709.8,78.97 710,77.16 710.2,77.15 710.4,79.03 710.6,78.63 710.8,77.54 711,75.69 711.2,75.75 711.4,79.46 711.6,79.33 711.8,79.19 712,79.42 712.2,79.88 712.4,78.73 712.6,78.38 712.8,76.83 713,80.77 713.2,78.39 713.4,77.8 713.6,76.73 713.8,77.32 714,79.35 714.2,78.9 714.4,77.24 714.6,78.33 714.8,78.35 715,75.88 715.2,79.35 715.4,76.33 715.6,79.76 715.8,74.9 716,75.44 716.2,77.19 716.4,75.04 716.6,73.7 716.8,73.91 717,75.47 717.2,75.45 717.4,75.23 717.6,76.92 717.8,75.65 718,75.06 718.2,75.33 718.4,75.27 718.6,77.55 718.8,78.26 719,76.47 719.2,76.18 719.4,75.37 719.6,74.27 719.8,75.52 720,79.42 720.2,78.84 720.4,80.13 720.6,77.53 720.8,78.76 721,79.71 721.2,78.51 721.4,75.11 721.6,76.46 721.8,76.67 722,73.91 722.2,77.07 722.4,76.14 722.6,75.49 722.8,81.59 723,78.6 723.2,79.93 723.4,77.9 723.6,76.41 723.8,77.53 724,76.66 724.2,80.02 724.4,78.81 724.6,78.98 724.8,77.35 725,73.38 725.2,74.98 725.4,72.7 725.6,76.71 725.8,77.84 726,81.03 726.2,80.91 726.4,80.79 726.6,80.35 726.8,79.08 727,79.69 727.2,79.84 727.4,76.09 727.6,77.52 727.8,79.95 728,75.13 728.2,74.12 728.4,73.92 728.6,72.62 728.8,77.51 729,76.64 729.2,75.27 729.4,77.76 729.6,77.48 729.8,71.94 730,76.44 730.2,74.6 730.4,75.14 730.6,73.94 730.8,73.08 731,76.28 731.2,74.17 731.4,74.52 731.6,75.19 731.8,74.88 732,73.64 732.2,73.75 732.4,76.95 732.6,75.22 732.8,74.75 733,75.13 733.2,75.45 733.4,74.07 733.6,75.65 733.8,74.87 734,71.32 734.2,74.89 734.4,75.71 734.6,74.3 734.8,72.63 735,75.78 735.2,73.06 735.4,71.26 735.6,71.87 735.8,71.96 736,72.98 736.2,74.31 736.4,70.81 736.6,69.61 736.8,70.8 737,68.87 737.2,71.8 737.4,68.56 737.6,72.08 737.8,73.83 738,72.67 738.2,74.13 738.4,71.52 738.6,69.71 738.8,69.82 739,72.76 739.2,73.22 739.4,70.84 739.6,76.32 739.8,74.47 740,77.98 740.2,74.25 740.4,71.03 740.6,74.67 740.8,68.69 741,68.9 741.2,68.39 741.4,70.65 741.6,74.5 741.8,75.39 742,74.91 742.2,77.13 742.4,72.06 742.6,69.85 742.8,73.83 743,75.33 743.2,71.93 743.4,68.28 743.6,72.38 743.8,75.77 744,75 744.2,75.82 744.4,69.24 744.6,73.36 744.8,70.36 745,75.25 745.2,72.14 745.4,72.63 745.6,70.37 745.8,68.58 746,67.98 746.2,69.61 746.4,67.17 746.6,72.15 746.8,73.59 747,70.68 747.2,70.19 747.4,71.5 747.6,70.54 747.8,75.71 748,72.63 748.2,73.04 748.4,69.75 748.6,67.85 748.8,68.27 749,69.37 749.2,74.25 749.4,73.3 749.6,72.93 749.8,72.66 750,75.23 750.2,72.09 750.4,72.22 750.6,72.94 750.8,72.23 751,72.56 751.2,73.03 751.4,75.87 751.6,69.66 751.8,72.3 752,72.59 752.2,72.52 752.4,73.13 752.6,73.69 752.8,76.21 753,73.93 753.2,74.07 753.4,74.57 753.6,76.39 753.8,74.68 754,76.65 754.2,73.96 754.4,72.8 754.6,74.68 754.8,73.83 755,73.32 755.2,73.98 755.4,74.36 755.6,72.93 755.8,73.77 756,75.7 756.2,76.76 756.4,72.19 756.6,78.21 756.8,75.33 757,74.93 757.2,77.02 757.4,74.57 757.6,73.66 757.8,78.24 758,72.37 758.2,75.2 758.4,75.86 758.6,72.8 758.8,74.1 759,74.76 759.2,78.36 759.4,73.99 759.6,76.32 759.8,76.31 760,76.28 760.2,73.96 760.4,76.39 760.6,77.19 760.8,78.28 761,80.8 761.2,82.23 761.4,81.86 761.6,81.06 761.8,77.89 762,79.07 762.2,80.73 762.4,80.16 762.6,80.91 762.8,78.99 763,81.95 763.2,82.65 763.4,78.33 763.6,77.69 763.8,76.17 764,79.09 764.2,78.4 764.4,77.97 764.6,77.68 764.8,76.18 765,75.37 765.2,79.49 765.4,76.25 765.6,80.01 765.8,77.23 766,79.02 766.2,77.83 766.4,78.08 766.6,75.49 766.8,76.73 767,76.11 767.2,77.64 767.4,76.07 767.6,77.1 767.8,72.2 768,76.97 768.2,73.73 768.4,79.68 768.6,74.14 768.8,74.47 769,74.09 769.2,77.77 769.4,74.07 769.6,76.21 769.8,74.02 770,73.45 770.2,75.1 770.4,75.65 770.6,75.16 770.8,74.82 771,72.22 771.2,73.52 771.4,73.15 771.6,74.25 771.8,75.86 772,73.71 772.2,73.1 772.4,73.45 772.6,73.01 772.8,76.16 773,72.02 773.2,69.97 773.4,72.69 773.6,71.38 773.8,74.82 774,66.8 774.2,71.49 774.4,70.85 774.6,68.8 774.8,70.4 775,71.32 775.2,74.74 775.4,71.22 775.6,69.94 775.8,75.46 776,75.7 776.2,74.01 776.4,68.74 776.6,76.42 776.8,71.4 777,72.79 777.2,69.96 777.4,70.48 777.6,70.83 777.8,75.75 778,78.1 778.2,69.49 778.4,72.01 778.6,77.95 778.8,71.85 779,70.25 779.2,73.82 779.4,73.39 779.6,74.92 779.8,73.66 780,73.57 780.2,72.19 780.4,72.6 780.6,70.55 780.8,72.49 781,74.45 781.2,77.75 781.4,78.13 781.6,77.34 781.8,78.4 782,77.52 782.2,76.09 782.4,73.49 782.6,75.38 782.8,74.42 783,72.3 783.2,69.72 783.4,74.75 783.6,73.33 783.8,71.32 784,70.11 784.2,67.07 784.4,73.46 784.6,76.18 784.8,75.24 785,70.43 785.2,74.77 785.4,67.7 785.6,71.79 785.8,72.99 786,69.53 786.2,71 786.4,66.27 786.6,70.69 786.8,67.75 787,73.86 787.2,70.23 787.4,71.5 787.6,71.56 787.8,72.07 788,76.64 788.2,73.27 788.4,75.02 788.6,72.47 788.8,66.81 789,71.15 789.2,72.48 789.4,69.98 789.6,74.04 789.8,76.44 790,72.9 790.2,73.02 790.4,70.03 790.6,75.57 790.8,72.55 791,69.14 791.2,72.75 791.4,71.81 791.6,69.82 791.8,70.47 792,69.84 792.2,71.9 792.4,68.29 792.6,68.82 792.8,73.75 793,71.36 793.2,72.45 793.4,72.63 793.6,70.98 793.8,72.68 794,73.55 794.2,71.41 794.4,73.39 794.6,74.72 794.8,75.15 795,70.64 795.2,72.14 795.4,71.09 795.6,76.22 795.8,75.9 796,74.56 796.2,73.23 796.4,72.76 796.6,73.8 796.8,76.51 797,72.71 797.2,73.22 797.4,75.3 797.6,73.16 797.8,71.85 798,70.07 798.2,75.79 798.4,76.31 798.6,76.04 798.8,78.48 799,76.59 799.2,76.83 799.4,72.96 799.6,69.17 799.8,66.57 800,69.75 800.2,70.75 800.4,67.63 800.6,66.62 800.8,68.63 801,70.93 801.2,70.67 801.4,74 801.6,70.35 801.8,72.84 802,68.28 802.2,70.08 802.4,75.68 802.6,73.86 802.8,76.13 803,75.77 803.2,72.42 803.4,72.35 803.6,73.21 803.8,74.35 804,72.79 804.2,71.03 804.4,68.33 804.6,68.1 804.8,71.31 805,70.22 805.2,75.52 805.4,70.81 805.6,75.35 805.8,77.8 806,74.95 806.2,70.61 806.4,70.49 806.6,74.11 806.8,73.64 807,77.17 807.2,77.68 807.4,76.57 807.6,78.37 807.8,75.54 808,73.65 808.2,72.84 808.4,75.46 808.6,75.12 808.8,77.77 809,78.29 809.2,75.82 809.4,78.23 809.6,76.38 809.8,77.37 810,75.41 810.2,76.95 810.4,77.08 810.6,76.76 810.8,73.18 811,76.14 811.2,76.6 811.4,75.59 811.6,76.27 811.8,75.99 812,77.96 812.2,71.99 812.4,74.15 812.6,72.14 812.8,73.93 813,76.28 813.2,74.43 813.4,73.77 813.6,72.25 813.8,76.39 814,76.17 814.2,77.14 814.4,72.84 814.6,72.05 814.8,74.69 815,72.03 815.2,71.61 815.4,72.46 815.6,70.53 815.8,74.94 816,72.66 816.2,75.02 816.4,71.19 816.6,72.89 816.8,72.02 817,74.61 817.2,74.11 817.4,74.23 817.6,73.63 817.8,74.08 818,67.05 818.2,73 818.4,69.28 818.6,68.17 818.8,70.9 819,68.26 819.2,71.68 819.4,75.75 819.6,74.61 819.8,69.23 820,67.09 820.2,72.35 820.4,69.74 820.6,77.13 820.8,74.11 821,70.43 821.2,70.63 821.4,72.15 821.6,66.69 821.8,72.77 822,70.69 822.2,75.68 822.4,72.93 822.6,70.45 822.8,75.77 823,75.52 823.2,78.47 823.4,77.74 823.6,76.79 823.8,76.87 824,75.28 824.2,74.95 824.4,74.07 824.6,75.13 824.8,68.78 825,77.82 825.2,75.5 825.4,79.04 825.6,75.12 825.8,71.85 826,74.13 826.2,70.46 826.4,71.27 826.6,67.62 826.8,75.01 827,72.66 827.2,70.09 827.4,72.27 827.6,74.33 827.8,71.67 828,72.23 828.2,69.52 828.4,69.91 828.6,72.26 828.8,73.69 829,70.25 829.2,70.33 829.4,76.12 829.6,72.85 829.8,76.72 830,76.72 830.2,76.03 830.4,76.72 830.6,75.39 830.8,75.73 831,74.26 831.2,73.68 831.4,74.74 831.6,76.57 831.8,76.73 832,76.84 832.2,75.12 832.4,74.27 832.6,75.54 832.8,74.82 833,74.9 833.2,73.69 833.4,77.4 833.6,72.23 833.8,75.24 834,70.41 834.2,73.8 834.4,71.32 834.6,73.25 834.8,68.86 835,74.08 835.2,76.46 835.4,74.28 835.6,75.69 835.8,73.42 836,68.52 836.2,73.88 836.4,73.78 836.6,70.43 836.8,75.37 837,72.78 837.2,72.4 837.4,74.49 837.6,74.24 837.8,77.22 838,72.01 838.2,76.52 838.4,76.18 838.6,69 838.8,69.64 839,75.71 839.2,73.22 839.4,76.4 839.6,77.79 839.8,73.05 840,72.39 840.2,70.04 840.4,74.97 840.6,72.7 840.8,75.04 841,73.71 841.2,73.09 841.4,79.39 841.6,78.64 841.8,78.49 842,74.64 842.2,75.26 842.4,74.27 842.6,74.66 842.8,72.65 843,76.2 843.2,75.53 843.4,75.57 843.6,74.07 843.8,74.9 844,74.97 844.2,70.43 844.4,73.3 844.6,74.11 844.8,74.53 845,75.52 845.2,72.63 845.4,71.72 845.6,75.04 845.8,71.16 846,72.05 846.2,72.79 846.4,73.27 846.6,71 846.8,70.38 847,74.53 847.2,72.76 847.4,75.77 847.6,76.18 847.8,77.24 848,77.18 848.2,72.3 848.4,70.61 848.6,68.24 848.8,73.68 849,69.92 849.2,70.83 849.4,66.98 849.6,67.03 849.8,74.55 850,72.97 850.2,73.66 850.4,74.06 850.6,74.91 850.8,75.13 851,71.13 851.2,77.49 851.4,73.53 851.6,73.43 851.8,76.36 852,73.76 852.2,71.6 852.4,70.83 852.6,75.54 852.8,76.52 853,76.35 853.2,74.14 853.4,74.22 853.6,74.02 853.8,75.83 854,75.58 854.2,76.64 854.4,72.43 854.6,73.77 854.8,72.78 855,71.74 855.2,72.66 855.4,75.74 855.6,74.38 855.8,76.57 856,74.83 856.2,75.98 856.4,74.44 856.6,75.01 856.8,76.7 857,78.21 857.2,75.18 857.4,75.48 857.6,74.93 857.8,73.55 858,74.48 858.2,75.46 858.4,71.76 858.6,75.91 858.8,71.33 859,68.82 859.2,70.86 859.4,68.94 859.6,70.49 859.8,76.43 860,72.84 860.2,74.2 860.4,75.44 860.6,75.77 860.8,73.21 861,77.34 861.2,75.22 861.4,75.93 861.6,77.54 861.8,74.31 862,77.13 862.2,77.58 862.4,78.05 862.6,76.31 862.8,78.23 863,80.52 863.2,80.7 863.4,80.87 863.6,81.05 863.8,78.8 864,78.52 864.2,81.57 864.4,80.94 864.6,78.86 864.8,82.1 865,80.19 865.2,77.41 865.4,79.91 865.6,82.8 865.8,80.38 866,83.15 866.2,80.84 866.4,76.62 866.6,75.5 866.8,75.79 867,79.5 867.2,71.12 867.4,79.33 867.6,72.68 867.8,73.9 868,76.74 868.2,75.24 868.4,73.7 868.6,70.21 868.8,76.42 869,72.95 869.2,79.73 869.4,73.48 869.6,72.22 869.8,68.67 870,71.65 870.2,68.1 870.4,74.51 870.6,70.03 870.8,74.48 871,71.34 871.2,72.46 871.4,78.86 871.6,70.91 871.8,70.05 872,74.97 872.2,67.84 872.4,73.65 872.6,76.36 872.8,73.17 873,78.99 873.2,73.18 873.4,77.31 873.6,77.58 873.8,73.46 874,73.76 874.2,73.71 874.4,75.3 874.6,76.7 874.8,68.61 875,73.92 875.2,68.57 875.4,69.24 875.6,71.25 875.8,79.26 876,76.51 876.2,77.23 876.4,73.94 876.6,78.84 876.8,69.64 877,76.82 877.2,80.72 877.4,73.48 877.6,74.77 877.8,75.62 878,71.23 878.2,75.57 878.4,79.03 878.6,78.9 878.8,79.86 879,78.13 879.2,77.33 879.4,74.33 879.6,78.34 879.8,76.54 880,76.03 880.2,71.6 880.4,77.87 880.6,77.09 880.8,73.7 881,71.88 881.2,74.86 881.4,80.67 881.6,77.08 881.8,76.12 882,76.45 882.2,77.49 882.4,72.99 882.6,75.42 882.8,75.56 883,80.31 883.2,79.73 883.4,77.33 883.6,73.38 883.8,74.54 884,78.4 884.2,74.94 884.4,80.26 884.6,79.88 884.8,79.71 885,79.68 885.2,77.27 885.4,74.08 885.6,72.19 885.8,79.04 886,73.21 886.2,75.03 886.4,80.81 886.6,78.9 886.8,76.65 887,76.52 887.2,82.64 887.4,82.54 887.6,82.43 887.8,81.62 888,81.88 888.2,76.3 888.4,78.12 888.6,76.48 888.8,76.41 889,77.11 889.2,78.42 889.4,70.6 889.6,78.16 889.8,72.73 890,70.7 890.2,74.92 890.4,72.93 890.6,78.5 890.8,78.01 891,75.87 891.2,77.05 891.4,75.73 891.6,74.91 891.8,70.57 892,72.06 892.2,68.23 892.4,73.16 892.6,74.57 892.8,79.49 893,72.87 893.2,71.59 893.4,75.79 893.6,79.09 893.8,78.02 894,81.09 894.2,80.04 894.4,77.1 894.6,74.76 894.8,70.38 895,71.82 895.2,70.72 895.4,73.4 895.6,75.86 895.8,76.75 896,78.99 896.2,81.55 896.4,79.23 896.6,79 896.8,78.99 897,77.66 897.2,75.97 897.4,77.51 897.6,76.33 897.8,72.3 898,72.14 898.2,80.15 898.4,71.63 898.6,70.81 898.8,72.89 899,68.94 899.2,73.58 899.4,80.66 899.6,79.41 899.8,78.19 900,76.56 900.2,72.14 900.4,73.67 900.6,71.92 900.8,72.66 901,78.69 901.2,80.77 901.4,76.08 901.6,77.24 901.8,67.77 902,76.04 902.2,79.66 902.4,75.64 902.6,70.03 902.8,68.32 903,73.41 903.2,68.08 903.4,70.81 903.6,66.44 903.8,71.72 904,73.47 904.2,64.38 904.4,68.89 904.6,68.16 904.8,65.51 905,68.87 905.2,72.07 905.4,74.1 905.6,66.63 905.8,73.99 906,77.6 906.2,74.67 906.4,75.07 906.6,73.16 906.8,70.71 907,75.68 907.2,75.12 907.4,76.7 907.6,79.04 907.8,75.1 908,76.34 908.2,78.44 908.4,73.96 908.6,74.44 908.8,75.01 909,74.35 909.2,75.45 909.4,73.24 909.6,77 909.8,76.7 910,77.32 910.2,75.92 910.4,78.85 910.6,80.4 910.8,74.66 911,77.42 911.2,77.74 911.4,75.71 911.6,78.94 911.8,78.22 912,75.11 912.2,77.71 912.4,76.69 912.6,79.41 912.8,76.19 913,80.18 913.2,80.06 913.4,79.94 913.6,77.74 913.8,73.35 914,79.11 914.2,74.24 914.4,78.06 914.6,75.08 914.8,74.69 915,78.26 915.2,73.48 915.4,76.55 915.6,68.1 915.8,74.45 916,72.19 916.2,72.59 916.4,75.96 916.6,76.27 916.8,79.27 917,71.73 917.2,76.24 917.4,74.97 917.6,81.89 917.8,75.85 918,79.53 918.2,74.22 918.4,76.6 918.6,78.13 918.8,71.7 919,76.21 919.2,71.02 919.4,76.04 919.6,81.24 919.8,74.73 920,82.38 920.2,75.92 920.4,74.07 920.6,74.97 920.8,72.7 921,72.05 921.2,72.57 921.4,74.12 921.6,78.53 921.8,71.88 922,67.87 922.2,69.1 922.4,82.64 922.6,69.04 922.8,77.73 923,81.13 923.2,76.19 923.4,69.6 923.6,74.04 923.8,76.35 924,77.77 924.2,69.64 924.4,74.33 924.6,75.57 924.8,75.14 925,81.67 925.2,76.4 925.4,70.13 925.6,76.8 925.8,80.55 926,76.92 926.2,77.24 926.4,82.66 926.6,72.72 926.8,79.06 927,73.01 927.2,76.16 927.4,75.25 927.6,77.03 927.8,69.97 928,71.56 928.2,69.51 928.4,73.91 928.6,73.73 928.8,74.73 929,75.14 929.2,80.13 929.4,81.4 929.6,80.92 929.8,78.53 930,75.25 930.2,71.91 930.4,68.85 930.6,74.73 930.8,72.54 931,73.97 931.2,68.58 931.4,70.44 931.6,69.78 931.8,73.62 932,77.74 932.2,75.39 932.4,74.02 932.6,72.94 932.8,75.04 933,74.22 933.2,76.75 933.4,78.57 933.6,72.4 933.8,78.24 934,81.54 934.2,76.24 934.4,75.43 934.6,72.87 934.8,72.96" fill="none" stroke="#000" stroke-width="0.8" stroke-linejoin="round" />
<text x="106.2" y="22.8" font-size="9.5" fill="#ff0000">10 min. peak winds in red</text>
<path d="M93.03,114.97h2.4M95.38,114.04h2.4M99.51,112.22h2.4M99.61,117.58h2.4M89.97,116.1h2.4M87,116.59h2.4M99.33,114.65h2.4M91.11,113.13h2.4M89.32,112.03h2.4M90.84,112.78h2.4M89.66,113.41h2.4M98.68,112.84h2.4M90.88,111.75h2.4M100.13,114.42h2.4M91.43,112.04h2.4M87.13,115.65h2.4M100.69,114.34h2.4M101.59,112.57h2.4M87.05,111.4h2.4M91.13,111.11h2.4M98.4,116.45h2.4M91.91,109.28h2.4M88.18,112.02h2.4M94.78,119.17h2.4M94.84,115.49h2.4M99.88,117.11h2.4M94.91,114.82h2.4M88.41,113.93h2.4M90.65,114.63h2.4M95.69,109.56h2.4M101.36,110.96h2.4M102.38,112.09h2.4M99.29,111.55h2.4M98.48,111.2h2.4M87.11,118.98h2.4M87.5,111.81h2.4M90.28,115.63h2.4M89.71,109.57h2.4M99.12,109.24h2.4M100.2,113.74h2.4M97.5,114.98h2.4M101.45,111.17h2.4M100.71,113.1h2.4M100.49,116.47h2.4M97.95,116.18h2.4M99.29,111.77h2.4M87.92,117.42h2.4M96.02,116.89h2.4M99.47,115.7h2.4M88.34,110.54h2.4M100.33,112.12h2.4M100.99,114.54h2.4M99.1,113.47h2.4M92.96,113.79h2.4M91.72,114.63h2.4M94.81,114.14h2.4M87.02,115.25h2.4M89.85,116.99h2.4M90.84,114.17h2.4M100.64,112.9h2.4M105.05,102.93h2.4M105.35,100.5h2.4M107.41,102.5h2.4M99.99,106.87h2.4M110.63,97.8h2.4M101.92,100.16h2.4M98.23,106.96h2.4M91.58,105.6h2.4M94.48,105.84h2.4M95.75,106.6h2.4M99.59,108.17h2.4M108.39,103.91h2.4M105.92,104.67h2.4M97.92,106.47h2.4M95.25,104.15h2.4M108.2,102.92h2.4M94.46,109.17h2.4M112.03,97.8h2.4M93.92,102.22h2.4M102.66,104.85h2.4M104.12,100.82h2.4M91.12,106.45h2.4M104.04,103.84h2.4M95.61,109.18h2.4M96.68,105.37h2.4M92.55,107.11h2.4M111.6,103.7h2.4M96.35,104.06h2.4M100.35,101.51h2.4M93.89,108.92h2.4M95.46,101.4h2.4M106.6,99.24h2.4M97.47,102.64h2.4M104.37,104.67h2.4M99.35,106.24h2.4M113.44,101.1h2.4M110.7,101.61h2.4M108.92,99.79h2.4M115.74,100.34h2.4M107.26,99.98h2.4M119.55,100.6h2.4M114.53,100.57h2.4M106.65,99.42h2.4M106.71,100.9h2.4M112.21,101.15h2.4M106.48,101.27h2.4M107.2,100.39h2.4M108.63,100.77h2.4M115.98,100.27h2.4M108.63,98.79h2.4M104.97,101.73h2.4M112.95,101.76h2.4M114.66,99.65h2.4M105.72,100.29h2.4M113.1,100.79h2.4M105.77,101h2.4M109.64,100.69h2.4M135.95,102.09h2.4M128.93,102.67h2.4M136.59,99.18h2.4M130.48,102.62h2.4M130.84,101.71h2.4M136.45,106.25h2.4M128.21,105.59h2.4M136.16,103.01h2.4M132.81,101.41h2.4M132.19,103.8h2.4M135.59,100.36h2.4M135.21,104.98h2.4M133.27,101.58h2.4M134.33,102.34h2.4M133.31,100.25h2.4M128.7,100.61h2.4M135.22,105.78h2.4M125.8,103.26h2.4M135.3,101.58h2.4M136.12,104.26h2.4M127.74,101.77h2.4M133.59,102.65h2.4M147.67,101.42h2.4M151.95,100.39h2.4M151.73,101.07h2.4M146.78,101.91h2.4M150.04,101.51h2.4M145.07,99.74h2.4M150.96,100.77h2.4M147.63,103.39h2.4M146.23,100.16h2.4M147.59,100.46h2.4M146.37,101.14h2.4M148.49,99.84h2.4M146.44,99.32h2.4M146.49,102.36h2.4M109.83,167.29h2.4M110.58,172.09h2.4M114.96,170.51h2.4M106.55,170.74h2.4M117.7,173.52h2.4M125.96,168.21h2.4M111.31,167.45h2.4M119.61,172.1h2.4M115.66,172.15h2.4M115.43,170.83h2.4M111.01,168.66h2.4M126.61,167.91h2.4M127.67,169.71h2.4M126.92,170.83h2.4M122.49,168.05h2.4M106.84,172.04h2.4M115.79,169.02h2.4M115.99,169.56h2.4M128.66,172.05h2.4M121.87,169.37h2.4M128.16,171.93h2.4M126.11,170.53h2.4M120.18,168.81h2.4M107.4,169.01h2.4M126.38,170.99h2.4M127.63,171.45h2.4M104.27,171.51h2.4M106.61,172.36h2.4M117.87,171.41h2.4M107.17,171.17h2.4M104.94,169.73h2.4M118.19,170.08h2.4M104.99,168.3h2.4M114.9,169.15h2.4M111.99,170.13h2.4M116,169.49h2.4M118.9,166.82h2.4M119.73,168.06h2.4M114.31,172.71h2.4M113,167.89h2.4M114.81,172.34h2.4M107.56,170.74h2.4M114.92,171.18h2.4M118.56,171.25h2.4M108.8,169.33h2.4M116.89,168.73h2.4M107.41,169.24h2.4M109.55,171.39h2.4M104.3,168.24h2.4M114.5,170.23h2.4M125.44,170.62h2.4M109.43,171.04h2.4M109.96,170.84h2.4M126.92,167.77h2.4M127.21,173.33h2.4M120.73,161.89h2.4M119.93,164.51h2.4M119.71,162.5h2.4M120.44,162.74h2.4M125.75,165h2.4M119.06,165.9h2.4M127,166.24h2.4M120.98,160.52h2.4M124.37,162.39h2.4M127.83,166.13h2.4M150.63,166.38h2.4M146.7,162.84h2.4M144.62,164.77h2.4M148.7,167.02h2.4M145.3,166.96h2.4M135.82,169.61h2.4M136.18,168.68h2.4M149.83,163.4h2.4M141.34,166.11h2.4M138.96,167.6h2.4M152.08,163.46h2.4M145.53,164.67h2.4M153.43,160.79h2.4M142.79,162.17h2.4M146.64,163.31h2.4M147.67,161.34h2.4M151.03,158.24h2.4M141.4,168.32h2.4M134.41,163.86h2.4M140.12,168.53h2.4M140.24,167.54h2.4M149.47,163.32h2.4M153.52,167.35h2.4M152.55,158.13h2.4M134.73,167.21h2.4M151.32,167.21h2.4M148.47,164.63h2.4M153.15,160h2.4M143.39,160.77h2.4M141.48,165.6h2.4M141,160.84h2.4M150.54,165.63h2.4M137.74,168.2h2.4M147.21,156.79h2.4M149.47,161.68h2.4M140.52,169.94h2.4M141.2,167.7h2.4M136,163.37h2.4M144.03,160.7h2.4M151.19,159.04h2.4M151.55,160.16h2.4M144.36,166.09h2.4M143.21,165.61h2.4M148.43,168.12h2.4M141.2,166.78h2.4M158.23,165.85h2.4M160.74,153.62h2.4M162.94,159.93h2.4M153.16,163.1h2.4M160.16,159.39h2.4M161.69,157.18h2.4M163.21,150.77h2.4M160.06,167.71h2.4M159.98,158.92h2.4M156.03,166.89h2.4M161.46,159.84h2.4M158.42,164.13h2.4M161.96,162.93h2.4M151.97,169.35h2.4M157.23,160.87h2.4M152.61,165.52h2.4M152.35,163.66h2.4M156.37,165.32h2.4M161.62,164.93h2.4M156.86,160.22h2.4M161.76,163.72h2.4M158.09,161.47h2.4M156.54,158.11h2.4M161.17,152.81h2.4M162.58,157.8h2.4M161.97,162.44h2.4M153.82,164.91h2.4M163.65,157.8h2.4M157.18,161.81h2.4M161.98,161.21h2.4M171.11,161.17h2.4M162.87,159.22h2.4M179.16,154.27h2.4M166.06,163.12h2.4M172.21,158.23h2.4M167.99,157.5h2.4M168.57,162.75h2.4M169.95,160.45h2.4M177.22,155.86h2.4M163.67,161.1h2.4M179.89,156.82h2.4M176.81,155.06h2.4M176.52,155.56h2.4M174.58,161.63h2.4M162.19,162.53h2.4M163.03,161.81h2.4M178.08,157.53h2.4M161.54,161.23h2.4M171.48,163.79h2.4M181.3,156.29h2.4M171.79,161.38h2.4M176.27,156.95h2.4M176.5,159.18h2.4M169.62,155.44h2.4M163.67,161.15h2.4M178.39,158.78h2.4M164.09,161.79h2.4M167.24,158.53h2.4M168.49,161.13h2.4M180.23,160.22h2.4M166.95,154.96h2.4M171.25,159.54h2.4M177.63,157.57h2.4M180.67,156.92h2.4M178.58,154.5h2.4M178.39,160.24h2.4M174.43,155.82h2.4M169.77,159.43h2.4M166.53,162.04h2.4M172.4,160.78h2.4M178.78,160.63h2.4M173.92,155.91h2.4M177.55,155.66h2.4M175.25,159.84h2.4M172.57,160.1h2.4M193.75,154.16h2.4M190.52,151.02h2.4M192.98,154.24h2.4M191.3,154.22h2.4M188.04,154.29h2.4M188.42,152.36h2.4M183.07,156.8h2.4M183.42,152.91h2.4M187.72,155.32h2.4M191.12,153.53h2.4M195.53,155.88h2.4M183.18,153.86h2.4M193.06,153.22h2.4M196.75,155.36h2.4M182.02,153.59h2.4M188.25,155.57h2.4M191.74,153.73h2.4M191.12,154.31h2.4M184.53,156.37h2.4M184.31,156.12h2.4M186.86,154h2.4M194.47,154.88h2.4M183,155.72h2.4M188.43,155.66h2.4M184.07,154.11h2.4M187.77,157.19h2.4M193.52,153.25h2.4M195.51,152.27h2.4M191.51,153.94h2.4M187.25,154.83h2.4M205.04,157.49h2.4M199.21,152.78h2.4M206.92,153.9h2.4M208.99,153.13h2.4M197.31,154.14h2.4M213.25,153.68h2.4M211.57,155.8h2.4M213.53,152.83h2.4M209.89,153.12h2.4M204.14,154.74h2.4M203.76,154.04h2.4M195.23,155.55h2.4M206.84,153.25h2.4M205.6,155.35h2.4M210.6,153.31h2.4M194.15,152.91h2.4M213.69,155.23h2.4M213.03,154.4h2.4M199.63,154.35h2.4M203.05,152.47h2.4M200.66,153.19h2.4M207.87,154.42h2.4M208.51,153.11h2.4M208.76,152.58h2.4M199.08,153.09h2.4M213.44,153.93h2.4M207.09,152.27h2.4M206.66,155.26h2.4M205.11,152.05h2.4M195.77,153.66h2.4M209.97,154.21h2.4M194.71,153.16h2.4M209.49,153.89h2.4M199.27,151.47h2.4M203.36,153.24h2.4M207.16,154.82h2.4M210.62,154.29h2.4M203.23,153.53h2.4M212.54,154.53h2.4M201.07,153.47h2.4M201.69,153.4h2.4M210.08,155.06h2.4M204.01,153.42h2.4M205.5,153h2.4M195.09,155.13h2.4M210.99,157.04h2.4M198.98,151.21h2.4M195.23,155.88h2.4M211.51,156.33h2.4M198.78,153.02h2.4M197.5,152.15h2.4M208.73,152.65h2.4M212.64,154.91h2.4M200.39,152.87h2.4M200.44,151.61h2.4M216.63,144.1h2.4M215.56,149.06h2.4M226.36,147.96h2.4M222.45,147.98h2.4M224.25,147.27h2.4M219.17,150.71h2.4M217.18,147.25h2.4M217.86,148.09h2.4M216.26,150.61h2.4M219.02,149.14h2.4M219.17,144.8h2.4M225.37,151.74h2.4M220.12,146h2.4M226.86,145.21h2.4M219.25,149.02h2.4M229.45,144.62h2.4M214.74,146.56h2.4M213.61,150.17h2.4M225.31,149.04h2.4M223.69,147.98h2.4M223.81,150.96h2.4M223.33,146.79h2.4M221.2,145.62h2.4M220.76,150.71h2.4M227.46,151.35h2.4M216.28,148.19h2.4M218.69,149.1h2.4M216.17,149.45h2.4M220.47,147.64h2.4M221.16,143.11h2.4M215.07,149.42h2.4M229.54,147.14h2.4M221.4,148.63h2.4M222.74,147.83h2.4M229.61,150.67h2.4M228.16,148.94h2.4M229.03,147.98h2.4M223.26,143.05h2.4M219.84,146.93h2.4M214.16,151.55h2.4M221.36,152.41h2.4M215.84,149.88h2.4M222.57,148.31h2.4M213.46,147.48h2.4M226.77,143.35h2.4M230.6,137.11h2.4M231.29,141.73h2.4M228.79,133.85h2.4M228.49,135.41h2.4M228.97,136.29h2.4M229.14,138.99h2.4M228.58,137.12h2.4M229.5,137.83h2.4M236.92,149.67h2.4M240.3,151.13h2.4M235.67,149.68h2.4M231.47,146.28h2.4M231.4,148.18h2.4M230.95,149.18h2.4M231.88,152.15h2.4M235.49,148.12h2.4M239.05,143.31h2.4M243.07,145.55h2.4M234.25,152.1h2.4M238.56,144.1h2.4M229.92,148.43h2.4M243.01,147.27h2.4M234.54,147.65h2.4M230.85,152.36h2.4M242.68,146.39h2.4M229.86,144.95h2.4M235.53,147.67h2.4M239.05,147.38h2.4M234.6,149.07h2.4M240.08,146.94h2.4M232.46,146.4h2.4M238.71,147.93h2.4M241.09,147.56h2.4M242.55,145.89h2.4M238.96,145.72h2.4M243.64,147.95h2.4M242.18,149.94h2.4M238.78,148.22h2.4M242.1,146.22h2.4M243.67,146.28h2.4M237.95,146.46h2.4M239.26,146.9h2.4M241.49,152.87h2.4M236.32,158.9h2.4M240.5,157.5h2.4M240.77,155.92h2.4M239.3,159.92h2.4M241.92,158.36h2.4M242.28,160.61h2.4M242.55,159.9h2.4M239.15,157.56h2.4M236.82,159.03h2.4M238.82,154.88h2.4M235.98,157.79h2.4M243.69,157.93h2.4M240.19,162.08h2.4M239.05,159.46h2.4M241.47,163.86h2.4M239.65,159.55h2.4M244.99,138.23h2.4M245.29,127.94h2.4M245.34,130.36h2.4M245.52,146.92h2.4M245.01,129.61h2.4M245.37,140.87h2.4M245.43,141.25h2.4M244.35,124.15h2.4M254.35,150.81h2.4M247.03,142.55h2.4M250.68,149.84h2.4M258.02,158.2h2.4M247.81,148.23h2.4M256.01,148.74h2.4M255.51,157.44h2.4M246.19,144.96h2.4M248.06,149.2h2.4M252.14,149.8h2.4M258.53,154.01h2.4M248.48,150.13h2.4M254.77,155.87h2.4M252.12,150.82h2.4M250.4,151.45h2.4M249.66,145.59h2.4M250.58,148.03h2.4M254.86,150.86h2.4M248.66,145.23h2.4M246.85,147.8h2.4M246.89,144.88h2.4M255.84,150.79h2.4M247.42,146.31h2.4M255,150.12h2.4M250.35,143.69h2.4M254.62,150.62h2.4M255.96,148.24h2.4M249.56,150.98h2.4M257.79,155.18h2.4M255.75,153.39h2.4M259.75,154.96h2.4M251.3,147.23h2.4M248.04,149.38h2.4M249.61,147.38h2.4M250.26,150.21h2.4M266.01,142.11h2.4M267.57,142.89h2.4M262.91,142.56h2.4M261.18,140.22h2.4M277.24,140.22h2.4M258.89,142.17h2.4M274.69,139.82h2.4M271.42,141.21h2.4M264.76,141.52h2.4M262.49,142.42h2.4M277.87,141.69h2.4M270.96,143.75h2.4M275.95,141.95h2.4M259.61,139.4h2.4M273.68,141h2.4M259.27,139.28h2.4M261.64,142.57h2.4M274.45,144.79h2.4M264.9,141.34h2.4M271.48,143.09h2.4M262.58,144.39h2.4M270.12,141.6h2.4M269.41,148.86h2.4M278.54,143.7h2.4M268.74,143.77h2.4M271.73,143.27h2.4M278.6,143.3h2.4M263.55,142.77h2.4M277.2,139.2h2.4M270.45,139.94h2.4M277.79,141.06h2.4M261.91,140.83h2.4M278.75,143.88h2.4M270.82,143.43h2.4M261.96,142.3h2.4M261.64,143.12h2.4M269.02,141.76h2.4M269.91,141.48h2.4M265.15,141.18h2.4M272.04,141.78h2.4M277.33,140.41h2.4M275.83,141.51h2.4M271.87,144.06h2.4M274.98,138.35h2.4M262,141.22h2.4M263.23,137.27h2.4M263.96,133.26h2.4M265.08,132.3h2.4M264.29,130.8h2.4M265.12,131.1h2.4M260.54,135.25h2.4M261.29,134.44h2.4M262.38,134.26h2.4M285.89,146.52h2.4M282.47,143.97h2.4M282.32,144.89h2.4M283.35,141.76h2.4M298.34,143.76h2.4M295.89,139.91h2.4M287.4,143.31h2.4M278.79,141.22h2.4M285.58,140.8h2.4M297.61,145.32h2.4M281.39,147.35h2.4M292.97,146.69h2.4M297.48,141.85h2.4M298.26,140.97h2.4M290.3,144.19h2.4M282.63,144.98h2.4M281.61,143.42h2.4M284.08,145.21h2.4M296.37,140.63h2.4M297.71,143.05h2.4M291.12,145.05h2.4M288.15,146.9h2.4M294.61,144.92h2.4M288.5,144.64h2.4M280.6,144.06h2.4M288.55,146.64h2.4M288.97,143.12h2.4M279.28,144.5h2.4M280.85,143.52h2.4M286.89,143.87h2.4M285.51,144.22h2.4M277.72,141.05h2.4M292.68,145.78h2.4M278.54,147.41h2.4M288.98,147.62h2.4M282.02,148h2.4M293.47,140.35h2.4M284.49,143.96h2.4M284.02,144.14h2.4M295.85,145.79h2.4M296.81,144.03h2.4M287.61,144.66h2.4M278.71,142.63h2.4M282.32,146.78h2.4M287.67,142.45h2.4M302.75,144.59h2.4M301.59,149.32h2.4M299.64,147.67h2.4M302.68,144.01h2.4M304.98,144.49h2.4M301.43,147.2h2.4M304,143.13h2.4M299.9,147.08h2.4M305.02,143.19h2.4M301.38,148.55h2.4M306.32,140.51h2.4M307.69,140.97h2.4M308.07,138.53h2.4M300.16,143.15h2.4M308.7,136.23h2.4M305.99,142.28h2.4M300.39,144.92h2.4M301.07,145.65h2.4M305.09,144.08h2.4M302.17,143.34h2.4M302.89,144.07h2.4M305.22,141.77h2.4M306.32,139.01h2.4M301.84,145.28h2.4M307.18,141.43h2.4M313.43,133.34h2.4M308.99,134.9h2.4M312.62,136.01h2.4M316.83,136.35h2.4M309.37,135.94h2.4M318.55,138.69h2.4M315.45,136.59h2.4M309.4,136.73h2.4M318.74,134.98h2.4M314.31,136.25h2.4M319.33,136.78h2.4M321.46,135.66h2.4M314.05,135.03h2.4M313.74,137.31h2.4M311.42,134.86h2.4M316.89,134.39h2.4M320.51,135.89h2.4M321.48,136.27h2.4M316.48,135.38h2.4M311.06,134.65h2.4M321.02,136.14h2.4M319.24,134.95h2.4M311.17,134.87h2.4M314.23,135.09h2.4M309.26,133.32h2.4M317.53,134.35h2.4M311.15,133.86h2.4M317.88,136.53h2.4M308.51,136.29h2.4M317.89,133.11h2.4M314.17,134.14h2.4M315.1,135.39h2.4M312.24,138.06h2.4M319.29,135.67h2.4M312.48,135.17h2.4M318.91,136.76h2.4M310.97,135.63h2.4M317.65,135.04h2.4M318,133.15h2.4M321.05,136.75h2.4M312.1,137.56h2.4M314.24,135.61h2.4M320.04,136.04h2.4M313.41,134.3h2.4M313,136.57h2.4M321.49,137.8h2.4M332.09,145.36h2.4M326.42,144.63h2.4M324.08,141.07h2.4M323.7,141.73h2.4M335.71,150.01h2.4M326.65,140.13h2.4M323.37,136.52h2.4M322.27,137.35h2.4M330.38,146h2.4M335.91,148.83h2.4M329.2,143.77h2.4M321.79,138.68h2.4M329.56,143.63h2.4M331.87,145.32h2.4M322.43,138.19h2.4M334.63,147.96h2.4M326.92,140.3h2.4M321.99,139.44h2.4M331.44,145.63h2.4M325.02,141.07h2.4M334.08,146.94h2.4M325.13,142.54h2.4M327.67,140.09h2.4M329.59,143.65h2.4M331.74,147.76h2.4M328.03,143.65h2.4M334.2,148.34h2.4M325.48,139.42h2.4M333.86,145.53h2.4M328.25,143.62h2.4M336.13,149.53h2.4M324.17,134.47h2.4M328.39,145.62h2.4M335.93,148.11h2.4M321.54,137.56h2.4M334.01,146.99h2.4M325.42,140.27h2.4M323.74,139.54h2.4M323.95,140.15h2.4M344.38,149.6h2.4M353.01,146.91h2.4M345.58,147.78h2.4M341.45,149.28h2.4M352.86,146.93h2.4M347.4,146.18h2.4M352.35,149.32h2.4M339.78,146.21h2.4M345.32,146.67h2.4M351.52,146.68h2.4M348.67,147.29h2.4M347.86,149.46h2.4M351.87,149.95h2.4M342.15,148.22h2.4M351.99,146.52h2.4M344.7,149.88h2.4M345.68,145.66h2.4M342.93,147.18h2.4M348.75,150h2.4M339.93,147.48h2.4M341.81,144.73h2.4M339.01,147.3h2.4M339.91,147.49h2.4M338.51,148.62h2.4M352.45,144.77h2.4M351.52,149.75h2.4M349.77,145.23h2.4M352.5,148.53h2.4M348.22,145.14h2.4M349.3,145.68h2.4M347.6,147.58h2.4M340.98,145.84h2.4M340.52,146.76h2.4M343.32,148.98h2.4M341.05,146.68h2.4M337.82,145.23h2.4M338.18,148.84h2.4M342.71,146.72h2.4M341.01,144.04h2.4M347.33,147.54h2.4M341.86,147.28h2.4M348.31,145.57h2.4M338.89,147.27h2.4M342.65,147.05h2.4M342.22,146.85h2.4M351.18,148.62h2.4M355.22,151.17h2.4M354.84,153.68h2.4M357.18,155.83h2.4M351.59,147.92h2.4M354.25,152.91h2.4M353.39,153.53h2.4M355.15,151.75h2.4M351.01,149.33h2.4M352.83,147.74h2.4M351.79,149.51h2.4M356.07,156.33h2.4M356.28,153.07h2.4M351.97,148.17h2.4M354.76,153.44h2.4M357.67,161.16h2.4M357.64,160.15h2.4M358.57,162.92h2.4M359.41,162.6h2.4M355.84,158.75h2.4M356.65,161.06h2.4M374.76,115.88h2.4M376.82,118.15h2.4M367.81,125.82h2.4M376.2,116h2.4M364.83,128h2.4M363.15,126.74h2.4M363.66,128.01h2.4M373.63,122h2.4M370.63,121.97h2.4M369.72,122.82h2.4M372.34,118.34h2.4M377.44,113.34h2.4M359.97,129.34h2.4M368.22,122.38h2.4M365.43,126.12h2.4M373.24,115.46h2.4M359.37,131.47h2.4M363.28,125.66h2.4M368.5,121.49h2.4M370.51,124.26h2.4M368.7,121.26h2.4M363.19,125.36h2.4M376.45,119.41h2.4M361.42,126.51h2.4M373.69,120.02h2.4M367.01,125.54h2.4M377.28,114.42h2.4M364.24,127.95h2.4M368.9,121.01h2.4M361.76,127.81h2.4M373.15,120.81h2.4M362.87,129.07h2.4M360.73,129.46h2.4M370.7,121.11h2.4M373.17,116.08h2.4M371.85,120.1h2.4M370.77,121.56h2.4M371.55,119.36h2.4M365.94,123.07h2.4M370.67,123.77h2.4M387.22,132.71h2.4M379.76,123.1h2.4M387.9,128.76h2.4M380.52,126.26h2.4M387.02,132.31h2.4M383.06,125.79h2.4M388.06,130.87h2.4M378.09,120.71h2.4M387.73,132.15h2.4M377.86,121.46h2.4M386.81,132.85h2.4M382.33,128.26h2.4M381.57,124.34h2.4M382.04,128.84h2.4M383.2,124.53h2.4M388.49,133.66h2.4M383.67,125.87h2.4M377.39,117.94h2.4M381.23,123.71h2.4M388.06,136.75h2.4M378.88,116.54h2.4M383.21,124.7h2.4M385.61,128.55h2.4M379.11,121.74h2.4M382.08,121.02h2.4M397.35,111.77h2.4M392.23,114.87h2.4M392.82,112.34h2.4M392.05,112.28h2.4M397.53,107.88h2.4M395.1,114.33h2.4M391.19,116.75h2.4M398.55,107.42h2.4M385.97,121.48h2.4M383.01,121.7h2.4M398.55,109.41h2.4M394.2,112.18h2.4M398.69,109.43h2.4M395.86,113.7h2.4M395.4,108.04h2.4M392.81,115.03h2.4M391.93,114.97h2.4M395.75,111.34h2.4M389.55,114.12h2.4M383.77,119.92h2.4M388.53,114.78h2.4M390.65,114.22h2.4M385.28,115.49h2.4M386.42,117.57h2.4M383.53,115.5h2.4M384.39,119.03h2.4M395.6,108.78h2.4M392.77,112.64h2.4M398.16,109.17h2.4M385.05,119.82h2.4M393.38,111.45h2.4M384.9,116.48h2.4M382.9,119.43h2.4M387.39,118.48h2.4M388.6,117.72h2.4M396.97,111.51h2.4M400.46,110.01h2.4M407.72,106.86h2.4M400.44,104.73h2.4M398.53,113.08h2.4M397.59,109.78h2.4M402.33,105.93h2.4M405.43,103.23h2.4M407.38,105.1h2.4M398.35,105.4h2.4M408.09,104.14h2.4M406.54,107.47h2.4M399.98,108.84h2.4M408.88,106.83h2.4M404.46,99.18h2.4M399.42,109.26h2.4M406.26,108.69h2.4M406.16,105.92h2.4M398.14,109.29h2.4M397.29,107.62h2.4M406.36,106.1h2.4M406.56,107.17h2.4M398.04,106.56h2.4M397.2,108.99h2.4M409.28,104.84h2.4M407.99,103.82h2.4M410.44,102.42h2.4M409.45,109.21h2.4M408.74,104.83h2.4M409.49,101.89h2.4M499.68,105.5h2.4M449.81,106.17h2.4M421.52,106.97h2.4M489.54,108.34h2.4M513.56,104.91h2.4M434.68,108.51h2.4M516.91,108.04h2.4M453.27,107.21h2.4M435.29,104.52h2.4M519.19,109.97h2.4M505.31,103.73h2.4M482.02,104.29h2.4M448.33,104.47h2.4M492.88,105.58h2.4M438.08,108.26h2.4M438.07,106.08h2.4M427,103.91h2.4M460.78,107.85h2.4M480.63,103.32h2.4M483.09,103.81h2.4M419.25,105.72h2.4M465.19,106.44h2.4M517.25,104.22h2.4M478.47,103.23h2.4M463.01,102.66h2.4M489.2,104.31h2.4M455.85,104.69h2.4M477.37,103.81h2.4M449.34,104.62h2.4M426.77,104.03h2.4M480.79,105.93h2.4M445.28,111.39h2.4M423.07,104.48h2.4M485.88,101.22h2.4M436.05,106.91h2.4M505.86,109.05h2.4M473.25,104.15h2.4M492.42,105.09h2.4M493.71,108.25h2.4M496.79,103.92h2.4M437.55,104.21h2.4M515.74,100.07h2.4M422.67,103.06h2.4M411.35,107.89h2.4M450.77,109.95h2.4M482.33,110.42h2.4M452.35,103.49h2.4M449.02,101.94h2.4M440.9,104.25h2.4M490.43,103.3h2.4M455.77,103.84h2.4M446.22,105.69h2.4M412.56,101.68h2.4M459.58,102.73h2.4M459,106.34h2.4M411.77,106.43h2.4M455.73,106.39h2.4M504.38,101.18h2.4M460.55,105.62h2.4M423.9,108.06h2.4M450.26,104.38h2.4M503.52,102.25h2.4M412.8,103.84h2.4M446.99,108.25h2.4M459.38,107.9h2.4M467.95,102.31h2.4M435.81,102.9h2.4M415.17,105.79h2.4M492.94,108.59h2.4M426.78,109.02h2.4M473.74,98.35h2.4M483.72,104.54h2.4M454.45,103.53h2.4M494.19,105.45h2.4M434.71,110.22h2.4M489.23,105.78h2.4M459.89,102.77h2.4M507.87,109.73h2.4M483.91,108.04h2.4M449.73,106.02h2.4M410.84,107.1h2.4M511.4,104.43h2.4M430.73,105.79h2.4M417.13,101.59h2.4M493.73,108.53h2.4M443.23,106.03h2.4M432.02,103.28h2.4M516.07,109.12h2.4M437.57,108.8h2.4M486.74,108.5h2.4M501.08,105.58h2.4M431.28,106.94h2.4M457.22,102.31h2.4M418.67,103.77h2.4M421.82,102.38h2.4M489.1,107.29h2.4M444.67,103.77h2.4M508.99,105.66h2.4M499.22,104.24h2.4M457.92,105.71h2.4M494.43,103.4h2.4M518.17,103.28h2.4M437.76,102.07h2.4M470.44,105.32h2.4M496.31,106.58h2.4M437.76,101.07h2.4M503.58,107.91h2.4M471.08,109.3h2.4M508.03,102.84h2.4M488.39,104.26h2.4M409.12,102.37h2.4M477.06,108.19h2.4M427.68,110.17h2.4M455.62,105.76h2.4M436.53,99.51h2.4M416.43,109.14h2.4M435.03,100.16h2.4M427.67,106.25h2.4M467.37,105.89h2.4M456.03,104.58h2.4M477.52,104.03h2.4M458.78,102.79h2.4M495.42,103.8h2.4M493.8,107.68h2.4M426.39,106.17h2.4M460.98,103.99h2.4M487.43,102.56h2.4M485.13,102.24h2.4M435.18,103.73h2.4M511.38,106.81h2.4M443.71,106.45h2.4M446.85,105.64h2.4M510.4,103.76h2.4M513.26,103.31h2.4M412.77,104.7h2.4M410.89,106.77h2.4M495.8,101.09h2.4M498.33,101.8h2.4M493.38,105.32h2.4M445.27,101.33h2.4M491.34,107.53h2.4M481.77,107.89h2.4M479.72,103.77h2.4M498.13,106.74h2.4M509.29,102.04h2.4M503.62,101.62h2.4M411.16,105.28h2.4M515.58,109.08h2.4M474.14,107.76h2.4M480.42,112.99h2.4M462.34,112.63h2.4M499.92,106.2h2.4M521.66,105.55h2.4M441.51,102.17h2.4M515.36,105.4h2.4M448.96,104.37h2.4M416.92,106.45h2.4M417.31,101.32h2.4M444.62,104.14h2.4M425.07,100.11h2.4M433.91,107.91h2.4M426.43,99.79h2.4M501.48,110.71h2.4M489.5,108.33h2.4M422.88,103.71h2.4M447.66,105.67h2.4M516.4,110.7h2.4M446.17,98.94h2.4M493.44,106.38h2.4M516.71,109.49h2.4M413.01,106.77h2.4M462.38,106.05h2.4M463.41,104.54h2.4M500.71,102.68h2.4M468.07,104.5h2.4M515.77,104.91h2.4M474.75,106.51h2.4M467.59,106.11h2.4M481.49,107.14h2.4M424.47,104.94h2.4M429.49,105.39h2.4M478.99,112.65h2.4M514.76,105.26h2.4M511.99,103.57h2.4M444.68,103.5h2.4M511.48,101h2.4M485.89,101.6h2.4M520.1,101.12h2.4M501.37,105.52h2.4M514.75,100.08h2.4M489.19,105.32h2.4M455.58,100.88h2.4M448.83,102.19h2.4M441.62,104.83h2.4M457.49,104.64h2.4M451.67,106.72h2.4M452.66,105.63h2.4M442.99,103.22h2.4M497.11,104.26h2.4M498.55,106.84h2.4M496.79,104.92h2.4M441.97,107.53h2.4M461.71,102.57h2.4M506.18,102.69h2.4M491.25,101.3h2.4M441.4,107.38h2.4M440.89,109.2h2.4M434.51,103.56h2.4M434.17,103.17h2.4M495.17,101.55h2.4M445.13,107.84h2.4M511.72,104.03h2.4M451.27,105.51h2.4M434.65,105.12h2.4M471.64,100.6h2.4M511.24,99.76h2.4M422.64,108.94h2.4M456.74,108.12h2.4M520.23,107.62h2.4M516.72,104.32h2.4M462.09,102.57h2.4M505.47,104.89h2.4M453.78,102.24h2.4M453.68,105.71h2.4M502.86,104.39h2.4M436.92,103.64h2.4M428.29,105.65h2.4M506.85,104.12h2.4M509.48,102.1h2.4M453.48,102.59h2.4M453.16,104.58h2.4M474.27,103.97h2.4M472.34,106.96h2.4M510.74,105.45h2.4M464.76,105.75h2.4M438.6,101.18h2.4M478.18,104.21h2.4M426.37,101.11h2.4M420.39,103.26h2.4M420.63,106.3h2.4M463.84,103.06h2.4M450.42,103.76h2.4M507.51,105.37h2.4M452.61,103.66h2.4M451.59,107.88h2.4M434.64,103.38h2.4M458.79,104.2h2.4M488.34,108.58h2.4M482.25,105.29h2.4M482,104.42h2.4M489.18,110h2.4M485.94,105.64h2.4M521.01,108.58h2.4M426.59,106.57h2.4M458.07,106.74h2.4M424.96,111.89h2.4M521.75,108.76h2.4M470.3,106.37h2.4M412.4,103.92h2.4M430.28,104.64h2.4M467.23,104.88h2.4M477.98,108.33h2.4M435.67,107.71h2.4M492.18,105.66h2.4M464.01,105.13h2.4M517.6,105.62h2.4M426.52,108.11h2.4M506.3,110.2h2.4M476.07,105.82h2.4M412.27,102.36h2.4M481.32,101.53h2.4M493.17,102.28h2.4M429.85,110.26h2.4M456.05,101.52h2.4M422.09,103.87h2.4M441.99,105.31h2.4M435.26,102.69h2.4M517.13,105.37h2.4M516.67,97.8h2.4M471.77,106.34h2.4M412.22,105.89h2.4M485.97,107.97h2.4M500.72,110.39h2.4M452.02,99.57h2.4M464.71,110.57h2.4M426.04,107.95h2.4M429.42,103.08h2.4M521.09,108.44h2.4M471.2,105.98h2.4M422.41,102.27h2.4M514.95,103.77h2.4M426.71,101.26h2.4M495.6,107.13h2.4M412.43,104.35h2.4M503.74,108.93h2.4M512.68,104.44h2.4M504.72,104.24h2.4M475.57,102.22h2.4M458.76,110.04h2.4M488.71,104.25h2.4M503,108.67h2.4M431.61,109.04h2.4M503.87,106.2h2.4M504.58,105.47h2.4M521.02,104.12h2.4M519.96,105.12h2.4M456.31,106.63h2.4M497.64,107.33h2.4M497.13,108.69h2.4M506.11,107.51h2.4M515.82,105.3h2.4M434.37,102.6h2.4M509.82,103.02h2.4M476.57,104.32h2.4M410.77,107.15h2.4M483.33,107.9h2.4M466.87,103.35h2.4M434.93,103.92h2.4M419.46,99.65h2.4M432.41,99.58h2.4M411.97,106.55h2.4M468.35,112.46h2.4M408.82,102.7h2.4M478.46,102.61h2.4M502.66,102.01h2.4M415.48,105.07h2.4M467.96,100.5h2.4M511.46,111.45h2.4M455.14,104.55h2.4M476.85,108.45h2.4M534.41,101.63h2.4M607.46,104.37h2.4M638.35,107.64h2.4M547.15,98.11h2.4M606.86,100.82h2.4M661.77,105.63h2.4M592.21,110.16h2.4M604.68,104.79h2.4M624.52,101.83h2.4M667.24,104.53h2.4M646.79,99.7h2.4M655,106.95h2.4M654.5,104.93h2.4M533.39,104.67h2.4M632.88,102.09h2.4M686.6,106.98h2.4M642.15,98.68h2.4M601.64,106.46h2.4M674.44,102.42h2.4M657.56,100.51h2.4M532.51,102.32h2.4M535.66,105.84h2.4M686.87,107.73h2.4M648.2,111.77h2.4M622.22,106.14h2.4M618.11,104.42h2.4M559.75,104.12h2.4M547.29,105.44h2.4M541.75,102.82h2.4M646.07,102.67h2.4M533.44,105.32h2.4M636.78,106.07h2.4M575.91,98.57h2.4M625.23,104.58h2.4M616.54,103.42h2.4M610.78,104.61h2.4M564.85,108.89h2.4M605.85,110.26h2.4M638.01,105.96h2.4M675.4,108.25h2.4M548.98,107.32h2.4M584.11,98.36h2.4M560.82,105.39h2.4M657.2,98.82h2.4M654.22,97.8h2.4M629.69,103.96h2.4M625.15,103.5h2.4M681.67,107.89h2.4M620.95,103.73h2.4M625.46,99.99h2.4M643.93,103.66h2.4M648.73,102.12h2.4M549.29,100.89h2.4M675.75,106.54h2.4M616.82,104.01h2.4M681.18,108.55h2.4M626.62,105.08h2.4M550.95,109.39h2.4M636.55,102.5h2.4M640.76,102.74h2.4M625.53,102.73h2.4M587.97,104.48h2.4M550.59,108.39h2.4M555.67,105.6h2.4M601.02,100.81h2.4M618.34,105.14h2.4M540.47,98.69h2.4M535.08,104h2.4M532.38,102.68h2.4M587.75,109.18h2.4M579.5,106.05h2.4M640.63,107.83h2.4M674.87,104.52h2.4M637.69,107.17h2.4M620.32,103.17h2.4M573.15,105.61h2.4M577.74,105.1h2.4M540.3,105.09h2.4M680.81,104.62h2.4M679.23,101.7h2.4M650.88,106.08h2.4M646.34,104.23h2.4M655.14,102.99h2.4M666.74,104.81h2.4M534.67,106.68h2.4M643.62,104.84h2.4M589.88,104.1h2.4M625.88,107.4h2.4M627.33,100.59h2.4M630.52,106.4h2.4M587.37,103.27h2.4M643.04,104.49h2.4M663.25,104.7h2.4M653.35,109.74h2.4M584.67,98.1h2.4M558.32,106.79h2.4M643.03,106.03h2.4M551.3,105.14h2.4M685.8,103.16h2.4M675.51,104.65h2.4M651.72,109.47h2.4M647.89,99.85h2.4M575.72,108.73h2.4M551.74,107.71h2.4M589.62,106.58h2.4M581.75,106.82h2.4M660.6,108.32h2.4M588.07,98.25h2.4M642.7,103.99h2.4M530.02,105.76h2.4M529.29,101.89h2.4M592.8,105.53h2.4M594.84,110.37h2.4M608.62,104.5h2.4M591.22,106.15h2.4M596.04,100.96h2.4M533.69,107.64h2.4M552.62,106.31h2.4M574.8,105.82h2.4M655.07,102.01h2.4M570.87,104.65h2.4M667.09,99.7h2.4M573.34,109.26h2.4M619.32,103.37h2.4M657.67,103.04h2.4M532.89,105.06h2.4M592.58,106.27h2.4M596.91,101.17h2.4M663.45,100.53h2.4M632.39,105.42h2.4M627.81,106.08h2.4M668.97,108.69h2.4M637.69,105.5h2.4M547.81,106.82h2.4M613.88,103.47h2.4M585.1,104.05h2.4M593.73,106.53h2.4M530.64,106.16h2.4M688.6,107.37h2.4M643.76,99.89h2.4M560.04,102.65h2.4M567.4,106.61h2.4M562.4,104.76h2.4M591.77,99.87h2.4M557.94,98.48h2.4M576.05,97.8h2.4M579.38,101.74h2.4M625.22,102.07h2.4M665.4,103.47h2.4M594.13,106.73h2.4M584.31,106.51h2.4M656.78,101.26h2.4M643.06,103.11h2.4M669.1,104.25h2.4M637.47,104.2h2.4M686.08,107.54h2.4M662.64,107.04h2.4M605.87,108.56h2.4M542.46,105.67h2.4M565.19,111.93h2.4M670.88,104.08h2.4M642.56,103.93h2.4M536.59,106.44h2.4M659.42,106.69h2.4M671.38,107.82h2.4M561.6,108.17h2.4M666.69,101.82h2.4M546.47,102.58h2.4M647.72,106.57h2.4M580.43,102.36h2.4M565.72,106.47h2.4M599.78,101.09h2.4M660.25,108.81h2.4M570.46,107.26h2.4M593.14,104.84h2.4M675.28,103.29h2.4M621.81,105.01h2.4M562.49,100.42h2.4M674.01,102.51h2.4M677.46,107.55h2.4M640.44,103.91h2.4M617.68,107.89h2.4M575.93,105.44h2.4M594.77,101.18h2.4M666.47,98.82h2.4M534.96,104.8h2.4M686.57,102.61h2.4M574.08,103.44h2.4M629.56,111h2.4M602.48,104.92h2.4M636.07,102.65h2.4M582.3,103.82h2.4M674.51,105.53h2.4M532.99,101.87h2.4M668.5,101.06h2.4M592.38,110.88h2.4M679.91,108.4h2.4M587.94,105.49h2.4M623.62,108.68h2.4M669.34,102.89h2.4M665.48,102.36h2.4M562.12,102.88h2.4M540.94,101.33h2.4M533.15,101.8h2.4M637,105.05h2.4M612.52,105.05h2.4M659.94,104.16h2.4M566.61,103.65h2.4M649.8,107.49h2.4M539.02,107.29h2.4M677.6,106.4h2.4M561.56,108.3h2.4M602.94,105.99h2.4M541.38,104.66h2.4M682.54,106.16h2.4M561.77,107.36h2.4M632.14,110.45h2.4M569.11,104.22h2.4M532.25,104.61h2.4M631,101.25h2.4M603.2,102.83h2.4M533.28,101.01h2.4M646.95,103.66h2.4M633.19,103.94h2.4M639.97,107.36h2.4M628.57,104.43h2.4M575.1,103.31h2.4M602.74,102.49h2.4M613.25,101.3h2.4M641.56,108.72h2.4M572.95,107.21h2.4M682.03,101.42h2.4M615.31,104.53h2.4M553.3,101.96h2.4M567.52,105.36h2.4M638.05,106.5h2.4M651.39,103.82h2.4M578.35,99.68h2.4M640.18,101.79h2.4M683.33,102.12h2.4M684.88,110.36h2.4M533.81,108.64h2.4M665.73,106.17h2.4M674.68,102.38h2.4M651.83,102.72h2.4M629.42,102.44h2.4M645,106.75h2.4M550.53,99.59h2.4M666.19,107.1h2.4M589.61,100.79h2.4M618.32,107.59h2.4M545.13,106.16h2.4M568.44,104.73h2.4M567.12,104.77h2.4M538.2,103.56h2.4M628.87,111.4h2.4M645.48,103.58h2.4M592.39,104.55h2.4M680.24,105.11h2.4M655.01,103.43h2.4M663.1,108.39h2.4M590,102.2h2.4M635.55,102.53h2.4M657.76,99.98h2.4M643.74,105.62h2.4M544.16,103.49h2.4M594.15,104.99h2.4M664.04,106.89h2.4M613.13,102.6h2.4M541.66,102.16h2.4M537.28,102.92h2.4M680.42,109.37h2.4M611.2,98.59h2.4M679.42,100.57h2.4M633.72,107.62h2.4M641.98,106.31h2.4M653.67,107.87h2.4M563.2,105.41h2.4M578.93,104.49h2.4M596.13,101.1h2.4M611.62,104.29h2.4M617.73,104.28h2.4M533.16,101.47h2.4M655.02,107.84h2.4M633.03,108.58h2.4M645.5,100.54h2.4M631.34,106.77h2.4M597.91,106.33h2.4M678.88,107.63h2.4M590.12,104.35h2.4M664.4,104.57h2.4M573.17,108.62h2.4M583,102.03h2.4M546.48,107.12h2.4M587.35,101.34h2.4M568.26,106.41h2.4M622.63,104.33h2.4M636.75,106.1h2.4M651.57,102.19h2.4M597.27,104.48h2.4M606.63,105.66h2.4M573.2,108.7h2.4M556.32,105.75h2.4M580.8,103.83h2.4M652.85,102.58h2.4M599.17,108.31h2.4M585.52,108.68h2.4M630.45,108.74h2.4M659.07,109.73h2.4M588.49,106.86h2.4M581.24,108.81h2.4M636.02,107.86h2.4M614.69,107.15h2.4M632.07,99.04h2.4M668.42,103.8h2.4M589.14,98h2.4M628.64,102.38h2.4M533.2,105.14h2.4M598.6,100.1h2.4M655.03,103.54h2.4M680.89,102.97h2.4M546.16,101.92h2.4M614.57,104.76h2.4M578.57,101.79h2.4M569.82,102.04h2.4M632.58,106.31h2.4M585.25,104.6h2.4M663.52,104.83h2.4M660.76,105.84h2.4M576.34,105.53h2.4M681.16,108.5h2.4M566.01,105.37h2.4M670.55,98.11h2.4M644.9,103.17h2.4M619.36,104.88h2.4M643.65,106.67h2.4M557.16,105.53h2.4M675.34,104.52h2.4M657.5,107.83h2.4M581.71,110.28h2.4M552.15,108.71h2.4M562.73,104.02h2.4M680.06,106.03h2.4M570.14,106.31h2.4M547.3,104.35h2.4M557.15,107.12h2.4M609.29,102.93h2.4M662.09,105.97h2.4M556.84,106.92h2.4M646.28,105.8h2.4M665.05,103.18h2.4M555.97,102.73h2.4M593.69,109.54h2.4M551.43,101.73h2.4M634.61,105.14h2.4M548.78,104.31h2.4M599.09,100.56h2.4M595.18,104.3h2.4M587.17,107.8h2.4M648.5,102.12h2.4M603.89,102.63h2.4M546.8,106.26h2.4M544.26,106.26h2.4M606.47,105.39h2.4M586.66,103.07h2.4M594.08,102.95h2.4M574.34,102.19h2.4M627.85,106.25h2.4M578.99,106.71h2.4M646.38,104.4h2.4M567.14,101.48h2.4M584.46,104.53h2.4M593.25,105.44h2.4M661.44,107.03h2.4M536.83,104.81h2.4M583.36,101.53h2.4M643.27,102.85h2.4M573.09,111.72h2.4M656.13,107.5h2.4M581.02,110.61h2.4M610.48,106.41h2.4M551.05,102.03h2.4M641.63,102.26h2.4M543.74,105.35h2.4M671.17,104.58h2.4M581.82,104.43h2.4M609.02,106.41h2.4M538.36,99.81h2.4M550.94,108.49h2.4M560.86,103.81h2.4M653.8,107.7h2.4M604.76,103.9h2.4M658.6,107.52h2.4M553.84,109.89h2.4M633.6,101.5h2.4M654.35,104.14h2.4M657.29,106.32h2.4M598.56,109.48h2.4M567.46,108.82h2.4M681.15,103.3h2.4M659.42,104.8h2.4M622.88,105.26h2.4M600.55,109.45h2.4M578.4,100.06h2.4M635.92,104.61h2.4M562.88,104.34h2.4M662.9,106.94h2.4M572.82,108.01h2.4M654.62,107.43h2.4M618.52,107.09h2.4M639.01,107.51h2.4M571.88,100.96h2.4M556.75,103.58h2.4M654,106.53h2.4M660.56,106.65h2.4M609.27,101.52h2.4M583.32,102.37h2.4M608.01,106.74h2.4M586.73,102.67h2.4M581.91,107.45h2.4M614.53,110.31h2.4M629.28,105.22h2.4M587.44,106.4h2.4M637.52,105.84h2.4M619.23,107.9h2.4M586.34,110.01h2.4M625.74,106.27h2.4M653.71,97.8h2.4M613.93,104.34h2.4M646.06,102.19h2.4M531.92,104.43h2.4M596.38,103.45h2.4M683.11,107.4h2.4M661.13,107.83h2.4M557.8,103.82h2.4M659.99,104.89h2.4M536.52,106.88h2.4M572.07,103.07h2.4M601.11,106.58h2.4M628.21,105.65h2.4M671.15,107.09h2.4M589.26,100.7h2.4M532.69,106.09h2.4M537.5,102.08h2.4M676.48,105.6h2.4M536.68,104.46h2.4M681.84,105.78h2.4M587.73,105.49h2.4M664.56,107.72h2.4M548,104.73h2.4M589.8,108.44h2.4M553.98,103.37h2.4M671.77,105.78h2.4M559.19,105.44h2.4M551.45,104.64h2.4M654.31,104.18h2.4M622.99,106.13h2.4M573.52,104.96h2.4M582.7,107h2.4M580.2,104.36h2.4M595.56,110.53h2.4M570.45,109.58h2.4M535.57,103.55h2.4M563.54,106.6h2.4M556.82,102.76h2.4M687.75,108.18h2.4M552.2,104.86h2.4M613.92,105.49h2.4M533.83,106.27h2.4M531.64,97.8h2.4M601.87,106.01h2.4M570.08,109.34h2.4M660.57,97.8h2.4M563.18,105.99h2.4M660.3,103.64h2.4M648.78,108.35h2.4M579.32,101.33h2.4M599.95,110.86h2.4M688.23,104.71h2.4M653.51,102.09h2.4M707.96,102.55h2.4M708.15,100.54h2.4M707.16,103.38h2.4M690.97,102.37h2.4M709.37,106.43h2.4M699.98,103.6h2.4M697.97,102.52h2.4M695.28,101.27h2.4M694.31,101.67h2.4M704.53,102.74h2.4M693.43,104.56h2.4M696.87,106.99h2.4M776.68,101.24h2.4M800.33,102.6h2.4M847.37,98.69h2.4M839.8,104.22h2.4M772.78,101.54h2.4M736.51,98.82h2.4M818.81,99.25h2.4M735.9,100.75h2.4M721.81,102.96h2.4M845.62,105.62h2.4M816.23,101.32h2.4M814.05,100.04h2.4M789.81,102h2.4M774.54,102.1h2.4M861.35,99.58h2.4M748.71,101.48h2.4M777.66,101.62h2.4M846.05,100.88h2.4M771.41,103.14h2.4M757.1,100.78h2.4M822.51,97.8h2.4M866.39,100.08h2.4M850.53,100.26h2.4M713.44,98.79h2.4M840.82,98.58h2.4M805.5,98.16h2.4M764.04,99.86h2.4M754.35,101.66h2.4M816.01,103.16h2.4M854.04,99.72h2.4M734.23,100.02h2.4M738.34,101.06h2.4M749.53,101.9h2.4M777.86,102.97h2.4M845.82,101.59h2.4M758.5,100h2.4M756.64,102.65h2.4M814.06,98.16h2.4M803.49,102.81h2.4M827.28,103.29h2.4M739.42,100.89h2.4M713.57,99.89h2.4M735.05,100.09h2.4M814.65,99.16h2.4M801.58,102.23h2.4M790.06,101.28h2.4M727.53,97.82h2.4M723.62,99.79h2.4M832.26,101.41h2.4M732.3,104.4h2.4M733.52,102.12h2.4M831.51,102.43h2.4M853.26,102.25h2.4M752.76,102.18h2.4M725.46,99.92h2.4M786.24,102.49h2.4M855.2,100.81h2.4M852.49,105.56h2.4M812.42,99.24h2.4M831.62,101.98h2.4M843.83,100.56h2.4M751.27,100.49h2.4M809.45,101.11h2.4M835.92,101.29h2.4M856.38,102.66h2.4M716.5,100.79h2.4M844.88,100.46h2.4M825.72,103.54h2.4M791,102h2.4M825.16,99.2h2.4M738.45,99.01h2.4M865.42,100.53h2.4M732.26,101.65h2.4M829.99,102.39h2.4M755.48,101.74h2.4M844.41,101.5h2.4M790.25,100.64h2.4M808.6,102.23h2.4M712.1,98.5h2.4M789.9,100.92h2.4M756.29,101.22h2.4M838.18,99.26h2.4M744.34,102.19h2.4M838.47,101.67h2.4M730.27,98.06h2.4M818.27,103.32h2.4M712.04,98.95h2.4M861.6,99.52h2.4M750.62,101.81h2.4M784.48,98.49h2.4M734.22,101.09h2.4M738.03,99.93h2.4M746.25,101.01h2.4M765.53,100.22h2.4M828.87,101.3h2.4M731.83,98.97h2.4M796.23,100.17h2.4M769.12,102.96h2.4M806.29,102.15h2.4M848.73,100.64h2.4M752.6,100.4h2.4M716.36,99.83h2.4M750.15,101.02h2.4M745.23,102.01h2.4M792.47,102.35h2.4M777.19,102.72h2.4M794.26,105.65h2.4M760.52,101.03h2.4M809.48,101.61h2.4M823.03,99.63h2.4M853.49,101.61h2.4M800.52,99.4h2.4M781.21,102.92h2.4M762.88,102.83h2.4M815.97,100.84h2.4M833.18,101.83h2.4M769.9,101.07h2.4M859.92,100.47h2.4M714.56,100.48h2.4M775.13,101.35h2.4M730.61,100.47h2.4M799.12,101.61h2.4M803.51,103.09h2.4M854.94,101.14h2.4M848.09,100.26h2.4M802.72,101.27h2.4M862.71,100.55h2.4M831.16,101.57h2.4M771.78,104.74h2.4M736.21,100.93h2.4M854.42,101.14h2.4M823.32,100.69h2.4M728.8,99.45h2.4M776.01,101.91h2.4M814.59,102.1h2.4M713.78,100.17h2.4M825.85,102.23h2.4M735.37,100.41h2.4M855.69,101.54h2.4M827.94,98.99h2.4M745.6,100.05h2.4M715.36,100.59h2.4M839.27,102.12h2.4M802.5,101.25h2.4M748.48,100.9h2.4M734.37,101.02h2.4M715.22,101.3h2.4M763.42,97.8h2.4M753.1,100.35h2.4M755.35,100.68h2.4M754.13,103.22h2.4M764.22,101.12h2.4M745.52,101.25h2.4M734.15,102.13h2.4M848.46,99.04h2.4M755.54,102.49h2.4M784.18,104.39h2.4M837.32,99.59h2.4M780.91,101.27h2.4M719.23,99.4h2.4M818.57,102.13h2.4M840.73,102.06h2.4M843.41,101.13h2.4M844.61,101.5h2.4M787.23,101.94h2.4M723.84,100.52h2.4M862.24,103.53h2.4M818.87,100.4h2.4M821.89,101.19h2.4M765.46,104.53h2.4M745.69,101.24h2.4M786.92,102.71h2.4M758.6,103.57h2.4M852.21,102.78h2.4M770.23,102.93h2.4M788.7,97.8h2.4M758.97,98.77h2.4M840.88,101.96h2.4M847.81,101.83h2.4M790.87,100.27h2.4M823.28,101.5h2.4M715.35,98.91h2.4M781.05,101.16h2.4M851.82,100.42h2.4M770.2,99.43h2.4M769.74,98.79h2.4M855.61,100.02h2.4M784.61,101.88h2.4M808.19,99.39h2.4M793.12,102.36h2.4M762.85,98.9h2.4M798.44,101.3h2.4M816.52,101.15h2.4M818.72,98.94h2.4M766.34,99.4h2.4M847.76,101.94h2.4M857.58,102.52h2.4M856.75,103.09h2.4M850.16,102.29h2.4M866.09,100h2.4M827.37,99.62h2.4M765.57,103.05h2.4M716.9,101.53h2.4M796.34,102.76h2.4M726.85,100.31h2.4M712.85,101.65h2.4M828.19,100.68h2.4M783.42,97.8h2.4M747.13,102.42h2.4M800.21,100.16h2.4M772.79,104.3h2.4M818.36,101.28h2.4M826.39,101.42h2.4M752.48,102.47h2.4M865.33,100.88h2.4M732.89,100.46h2.4M743.16,99.43h2.4M768.13,100.64h2.4M781.78,100.71h2.4M758.84,102.4h2.4M833.53,100.37h2.4M752.44,100.81h2.4M775.78,101.39h2.4M858.28,100.44h2.4M772.46,101.74h2.4M836.8,99.9h2.4M852.55,101.64h2.4M839.31,101.56h2.4M727.47,101.21h2.4M841.54,100.67h2.4M735.16,101.33h2.4M755.59,101.67h2.4M730.95,100.66h2.4M843.93,100.71h2.4M816.78,102.63h2.4M827.21,101.13h2.4M780.41,102.83h2.4M767.22,101.76h2.4M819.4,100.49h2.4M710.9,101.98h2.4M784.63,99.96h2.4M814.23,99.13h2.4M730.49,98.9h2.4M755.28,101.21h2.4M714.28,99.73h2.4M738.46,97.8h2.4M834.29,101.35h2.4M798.59,100.39h2.4M711.83,103.3h2.4M720.81,100.42h2.4M720.05,102.97h2.4M814.53,99.66h2.4M748.06,102.06h2.4M802.13,100.9h2.4M767.14,104.08h2.4M824.64,100.25h2.4M819.71,102.67h2.4M794.33,101.15h2.4M717.74,100.2h2.4M737.65,100.6h2.4M863.11,99.4h2.4M805.73,101.4h2.4M837.16,100.41h2.4M828.22,99.6h2.4M835.75,103.32h2.4M862.76,99.63h2.4M763.96,100.33h2.4M743.54,101.08h2.4M850.3,104.6h2.4M761.97,99.64h2.4M775.18,99.28h2.4M790.94,102.95h2.4M822.38,100.37h2.4M857.44,99.54h2.4M778.9,101.53h2.4M852.29,99.86h2.4M842.26,100.27h2.4M793.93,100.54h2.4M793.95,99.06h2.4M780.65,100.51h2.4M799.01,99.38h2.4M852.37,101.9h2.4M851.32,100.16h2.4M731.61,99.17h2.4M749.36,97.8h2.4M794.2,103.26h2.4M816.82,102.48h2.4M811.95,101.92h2.4M733.22,101.03h2.4M737.39,97.8h2.4M762.11,101.87h2.4M739.06,99.7h2.4M795.01,101.91h2.4M726.99,98.45h2.4M827.83,100.15h2.4M811.19,104.61h2.4M740.58,103.47h2.4M767.62,99.07h2.4M755.8,99.07h2.4M774.57,101.12h2.4M866.07,101.73h2.4M785.39,102.86h2.4M804.73,102.92h2.4M828.91,103.92h2.4M741.54,104.06h2.4M809.59,97.94h2.4M766.33,101.45h2.4M720.79,100.86h2.4M757.03,99.41h2.4M739.42,102.7h2.4M769.81,101.33h2.4M825.35,102.87h2.4M824.31,101.5h2.4M780.51,101.17h2.4M735.59,98.52h2.4M766.52,104.27h2.4M793.38,102.62h2.4M803.42,100.93h2.4M837.77,101.79h2.4M720.61,99.81h2.4M737.43,102.85h2.4M828.66,102.72h2.4M858.57,99.23h2.4M805.09,105.4h2.4M866.76,99.92h2.4M812.85,100.9h2.4M766.8,99.5h2.4M753.58,98.99h2.4M852.2,101.58h2.4M752.65,100.2h2.4M844.97,99.93h2.4M725.45,100.66h2.4M840.97,99.87h2.4M730.23,100.5h2.4M790.4,102.39h2.4M786.2,102.34h2.4M721.65,101.21h2.4M730.98,100.86h2.4M802.19,101.29h2.4M800.64,101.44h2.4M819,101.77h2.4M788.61,101.52h2.4M773.16,100.49h2.4M841.79,100.92h2.4M818.73,100.6h2.4M835.77,102.58h2.4M714.77,101.42h2.4M823.21,102.28h2.4M749.86,99.93h2.4M743.46,101.29h2.4M857.98,101.49h2.4M843.3,99.03h2.4M860.15,101h2.4M748.48,102.23h2.4M769.9,103.13h2.4M800.63,100.67h2.4M795.7,100.42h2.4M739.5,99.05h2.4M809.85,97.95h2.4M837.26,97.8h2.4M723.64,101.61h2.4M832.91,100.53h2.4M818.39,100.49h2.4M864.7,101.7h2.4M778.6,102.37h2.4M710.05,103.07h2.4M778.59,102.67h2.4M791.92,101.26h2.4M858.78,97.8h2.4M735.39,101.03h2.4M800.38,98.18h2.4M865.11,99.76h2.4M709.82,99.86h2.4M773.84,101.16h2.4M786.28,101.43h2.4M792.05,103.15h2.4M713.75,101h2.4M817.32,101.04h2.4M796.34,100.72h2.4M818.24,97.8h2.4M806.06,99.45h2.4M823.78,103.96h2.4M817.88,102.55h2.4M711.61,101.9h2.4M745.42,101.26h2.4M848.62,103.39h2.4M785.12,101.69h2.4M714.5,104.59h2.4M847.92,101.13h2.4M752.84,101.92h2.4M744.66,100.34h2.4M769.69,104.08h2.4M762.24,101.9h2.4M751.16,100.87h2.4M782.78,100.44h2.4M712.81,100.53h2.4M838.46,101.28h2.4M729.68,100.34h2.4M808.58,101.33h2.4M717.68,100.23h2.4M790.01,102.29h2.4M798.12,101.51h2.4M848.99,101.18h2.4M741.3,102.62h2.4M742.97,101.15h2.4M832.42,100.67h2.4M726.07,101.27h2.4M722.48,100.33h2.4M782.61,102.75h2.4M852.73,99.65h2.4M794.69,98.36h2.4M737.59,100.82h2.4M845.83,102.38h2.4M710.68,100.42h2.4M787.9,102.31h2.4M732.35,104.04h2.4M842.11,100.15h2.4M731.6,100.56h2.4M800.08,104.12h2.4M825.79,99.29h2.4M870.34,98.05h2.4M907.99,102.9h2.4M876.63,106.9h2.4M909.43,102.27h2.4M871.77,102.13h2.4M897.47,103.07h2.4M920.23,104.98h2.4M916.39,99.98h2.4M898.63,102.57h2.4M905.87,101.23h2.4M894.22,102.26h2.4M916.9,101.75h2.4M931.04,98.26h2.4M868.4,103.75h2.4M926.77,97.8h2.4M920.67,100.1h2.4M933.53,102.48h2.4M874.99,105.1h2.4M929.07,101.59h2.4M901.28,104.46h2.4M906.56,106.12h2.4M907.85,102.27h2.4M900.66,104.46h2.4M875.17,107.59h2.4M873.42,104.05h2.4M894.34,103.53h2.4M889.99,101.75h2.4M887.99,105.3h2.4M927.89,103.79h2.4M902.97,101.53h2.4M909.03,101.72h2.4M898.11,106.36h2.4M900.39,103.84h2.4M880.39,105.58h2.4M915.56,103.86h2.4M933.03,99.84h2.4M901.49,103.64h2.4M890.09,104.16h2.4M873.16,99.34h2.4M889.93,101.55h2.4M907.86,98.91h2.4M917,102.82h2.4M874.96,98h2.4M903.53,98.84h2.4M916.61,105.2h2.4M871.02,102.9h2.4M886.43,103.48h2.4M931.72,100.3h2.4M880.75,103.08h2.4M917.66,105.76h2.4M932.96,104.81h2.4M919.69,106.83h2.4M886.16,98.37h2.4M917.65,106.56h2.4M919.25,101.76h2.4M524.46,166.82h2.4M511.09,161.59h2.4M527.21,170.57h2.4M515.72,166.61h2.4M511.66,171.79h2.4M527.24,162.92h2.4M530.35,169.47h2.4M515.94,165.33h2.4M518.06,165.88h2.4M530.9,167.94h2.4M511.78,163.59h2.4M524.11,165.9h2.4M513.59,170.03h2.4M523.3,166.31h2.4M529.96,167.12h2.4M511.46,162.46h2.4M533.55,167.43h2.4M532.74,161.83h2.4M532.89,162.54h2.4M517.92,171.64h2.4M513.13,165.84h2.4M530.69,165.05h2.4M532.21,164.7h2.4M514.98,158.25h2.4M512.8,164.28h2.4M518.6,171.28h2.4M532.15,162.37h2.4M522.57,163.59h2.4M520.6,167.63h2.4M532.71,164.31h2.4M515.08,172.27h2.4M522.04,166.07h2.4M518.38,166.3h2.4M515.4,165.52h2.4M534.72,163.54h2.4M533.62,168.36h2.4M512.33,169h2.4M518.79,170.51h2.4M527.61,161.81h2.4M518.81,169.06h2.4M531.2,164.05h2.4M533.9,168.32h2.4M524.98,171.47h2.4M528.64,163.47h2.4M514.37,164.91h2.4M681.81,153.46h2.4M691.9,163.41h2.4M691.38,163.19h2.4M695.23,161.25h2.4M697.95,167.11h2.4M696.78,167.65h2.4M693.79,164.58h2.4M695.27,164.76h2.4M679.03,151.46h2.4M684.2,154.92h2.4M685.69,157.61h2.4M689.03,161.32h2.4M691.14,163.88h2.4M698.23,165.54h2.4M696.46,158.54h2.4M692.88,164.72h2.4M694.74,168.12h2.4M698.17,162.2h2.4M691.77,168.96h2.4M690.12,161.04h2.4M687.36,157.38h2.4M684.11,155.72h2.4M684.52,153.86h2.4M684.56,154.16h2.4M689.18,160.17h2.4M681.22,154.12h2.4M697.54,162.87h2.4M690.21,155.09h2.4M687.57,160.11h2.4M694.88,166.26h2.4M683.22,151.63h2.4M681.91,155.49h2.4M685.72,158.45h2.4M688.65,156.98h2.4M688.63,160.02h2.4M682.24,149.78h2.4M691.75,154.64h2.4M694.24,166.94h2.4M695.87,165.24h2.4M692,160.17h2.4M707.9,166.44h2.4M697.81,158.88h2.4M708.42,163.3h2.4M708.66,160.92h2.4M698.79,162.67h2.4M716.87,170.7h2.4M721.91,175h2.4M725.41,169.16h2.4M706.3,160.83h2.4M708.79,167.22h2.4M706.37,162.73h2.4M710.11,167.27h2.4M715.99,166.99h2.4M694.22,160.51h2.4M717.71,161.05h2.4M724.8,171.23h2.4M710.2,169.03h2.4M700.46,168.33h2.4M723.43,171.24h2.4M710.17,168.22h2.4M706.25,166.73h2.4M713.06,166.6h2.4M695.45,159.77h2.4M715.78,163.71h2.4M716.91,168.22h2.4M720.08,165.17h2.4M700.72,160.21h2.4M695.55,163.1h2.4M713.64,170.1h2.4M721.12,170.9h2.4M694.42,157.88h2.4M720.75,166.93h2.4M716.84,169.12h2.4M698.36,164.19h2.4M712.9,169.73h2.4M847.24,166.36h2.4M843.51,162.95h2.4M850.25,171.73h2.4M851.03,169.43h2.4M852.42,165.85h2.4M849.89,166.98h2.4M865.1,171.3h2.4M845.26,162.29h2.4M856.99,174.2h2.4M863.72,164.4h2.4M868.29,165.3h2.4M856.39,171.17h2.4M846.45,169.8h2.4M867.19,166h2.4M859.02,168.62h2.4M862.39,170.59h2.4M867.02,163.12h2.4M866.42,169.01h2.4M857.69,174.96h2.4M862.28,170.93h2.4M851.04,170.29h2.4M847.13,167.64h2.4M857.38,164.82h2.4M850.73,168.83h2.4M845.13,160.89h2.4M848.68,173.98h2.4M843.73,164.98h2.4M857.57,175h2.4M858.92,166.36h2.4M846.27,165.49h2.4M854.33,165.38h2.4M845.7,166.77h2.4M847.03,166.92h2.4M854.27,170.23h2.4M862.91,167.36h2.4M922.04,163.48h2.4M860.6,161.53h2.4M899.48,166.68h2.4M928.51,162h2.4M921.47,161.36h2.4M921.15,165.82h2.4M926.39,161.71h2.4M872.64,163.02h2.4M912.22,162.63h2.4M897.39,158.17h2.4M871.82,161.16h2.4M886.53,159.99h2.4M886.03,168.82h2.4M860.24,165.48h2.4M873.2,160.56h2.4M934.33,161.43h2.4M932.76,162.57h2.4M885.7,158.36h2.4M878.39,163.76h2.4M922.48,160.29h2.4M868,165.47h2.4M870.74,150.19h2.4M874.12,164.31h2.4M880.08,164.03h2.4M909.91,162.49h2.4M902.05,154.34h2.4M933.6,160.78h2.4M884.93,168.53h2.4M901.28,166.25h2.4M889.87,163.28h2.4M914.8,157.16h2.4M908.73,161.01h2.4M910.06,159.04h2.4M923.25,163.91h2.4M879.78,167.03h2.4M906.87,159.16h2.4M914.05,162.42h2.4M869.23,170.72h2.4M932.98,168.84h2.4M893.09,156.04h2.4M927.24,158.2h2.4M923.36,162.55h2.4M869.89,161.98h2.4M920.38,157.98h2.4M882.34,156.34h2.4M917.32,159.2h2.4M930.99,162.71h2.4M914.89,165h2.4M880.29,156.34h2.4M896.39,162.81h2.4M934.28,160.2h2.4M909.34,158.77h2.4M922.61,166.05h2.4M869.88,159.9h2.4M927.32,161.84h2.4M868.41,155.07h2.4M909.1,153.96h2.4M915.99,164.94h2.4M881.76,162.74h2.4M910.31,159.03h2.4M913.48,165.86h2.4M910.13,160.15h2.4M870.78,161.2h2.4M898.33,158.15h2.4M897.09,160.32h2.4M933.72,169.31h2.4M918.75,158.62h2.4M877.4,158.89h2.4M905.58,159.4h2.4M877.72,158.45h2.4M878.35,163.8h2.4M894.57,162.01h2.4M868.16,157.52h2.4M889.86,159.06h2.4M871.66,165.04h2.4M917.78,159.23h2.4M903.82,170.08h2.4M929.18,161.35h2.4M894.1,168.28h2.4M920.7,169.82h2.4M917.08,166.74h2.4M893.89,162.31h2.4M892.77,162.13h2.4M892.47,158.13h2.4M872.11,164.37h2.4M870.04,170.83h2.4M911.45,173.01h2.4M891.7,166.24h2.4M933.03,164.32h2.4M895.82,160.56h2.4M916.44,164.47h2.4M913.49,166.9h2.4M894.04,157.87h2.4M929.67,154.43h2.4M907.41,157.35h2.4M884.55,166.01h2.4M915.94,166.32h2.4M884.7,156.7h2.4M916.13,159.11h2.4M897.26,159.29h2.4M927.7,157.02h2.4M876.77,160.62h2.4M932.05,164.97h2.4M891.01,162.95h2.4M917.02,160.29h2.4M878.81,152.35h2.4M933.14,156.64h2.4M860.37,167.34h2.4M870.38,160.84h2.4M886.74,160.42h2.4M880.54,163.89h2.4M896.58,163.38h2.4M916.95,156.99h2.4M932.72,156.44h2.4M894.47,171.24h2.4M861.25,168.87h2.4M864.2,168.16h2.4M867.83,169.07h2.4M901.07,166.76h2.4M907.14,166.72h2.4M880.81,162.07h2.4M927.61,164.09h2.4M906.82,166.88h2.4M864.46,163.83h2.4M897.32,160.69h2.4M915.84,165.3h2.4M888.27,163.29h2.4M925.52,161.68h2.4M923.3,153.79h2.4M889.64,164.47h2.4M876.83,170.39h2.4M882.76,166.39h2.4M909.69,163.4h2.4M877.71,166.06h2.4M858.95,157.37h2.4M881.14,162.85h2.4M893.09,165.87h2.4M915.89,163.47h2.4M873.57,169.56h2.4M928.67,165.2h2.4M900.93,158.69h2.4M915.71,167.58h2.4M889.12,161.1h2.4M906.69,166.33h2.4M889.32,169.07h2.4M926.23,158.58h2.4M887.77,157.9h2.4M892.34,167.4h2.4M867.14,164.79h2.4M879.01,158.03h2.4M884.48,163.65h2.4M925.84,159.48h2.4M861.17,168.87h2.4M893.21,162.26h2.4M911.08,167.63h2.4M890.18,163.07h2.4M931.43,154.61h2.4M877.54,152.13h2.4M915.85,163.47h2.4M885.45,163.96h2.4M681.33,164.56h2.4M913.62,142.34h2.4M786.87,166.67h2.4M262.01,145.83h2.4M805.05,158.36h2.4M713.42,133.55h2.4M818.87,135.84h2.4M337.08,132.43h2.4M784.7,105.77h2.4M99.11,104.62h2.4M201.09,116.94h2.4M204.51,101.34h2.4M316.39,144.09h2.4M716.22,134.54h2.4M870.91,103.16h2.4M831.43,103.51h2.4M595.14,114.95h2.4M694.31,154.54h2.4M776.05,121.52h2.4M222.14,155.5h2.4M668.65,133.18h2.4M453.52,136.6h2.4M894.89,109.24h2.4M591.4,162.65h2.4M174.72,154.24h2.4M779.96,118.15h2.4M378.75,131.22h2.4M923.8,166.27h2.4M872.42,126.76h2.4M835.41,136.21h2.4M593.14,148.13h2.4M711.04,124.45h2.4M402.95,109.11h2.4M823.01,133.06h2.4M899.05,119.31h2.4M618.97,172.78h2.4M678.61,165.37h2.4M876.1,139.01h2.4M242.52,145.92h2.4M639.41,123.47h2.4M243.63,125.42h2.4M747.23,123.23h2.4M759.94,126.47h2.4M766.35,144.48h2.4M882.27,116.52h2.4M758.63,171.4h2.4M487.63,170.83h2.4M507.29,171.86h2.4M796.68,171.11h2.4M551.81,170.74h2.4M642.91,170.72h2.4M539.5,172.31h2.4M637.47,171.12h2.4M750.66,170.5h2.4M743.42,172.11h2.4M622.46,170.93h2.4M496.18,172.3h2.4M732.54,172.45h2.4M480.65,171.34h2.4M764.17,171.67h2.4M620.92,170.77h2.4M841.22,170.92h2.4M734.37,171.71h2.4M764.31,172.04h2.4M609.94,171.58h2.4M426.31,172h2.4M524.1,170.74h2.4M409.85,171.08h2.4M451.58,170.84h2.4M582.62,171.19h2.4M517.78,170.86h2.4M681.75,171.58h2.4M576.49,170.89h2.4M765.4,170.7h2.4M572.34,170.91h2.4M737.13,171.57h2.4M825.68,171.83h2.4M698.2,170.66h2.4M394.34,171.78h2.4M765.37,172.22h2.4M863.52,172.25h2.4M654.04,171.87h2.4M558.59,172.46h2.4M856.58,171.91h2.4M500.03,171.63h2.4M717.27,172.13h2.4M698.11,172.1h2.4M761.21,171.81h2.4M444.41,171.97h2.4M613.94,172.1h2.4M440.97,171.48h2.4M541.15,171.47h2.4M860.17,172.04h2.4M811.54,172.18h2.4M418.52,171.94h2.4M745.88,172.02h2.4M510.07,171.25h2.4M699.72,171.04h2.4M631.58,171.32h2.4M425.13,170.64h2.4M487.5,171.41h2.4M828.14,172.03h2.4M536.38,172.07h2.4M776.89,172.36h2.4M725.7,171.73h2.4M761.48,108.95h2.4M761.18,106.78h2.4M761.34,147.99h2.4M760.31,115.47h2.4M760.86,114.34h2.4M760.33,150.59h2.4M758.93,165.75h2.4M762.35,128.16h2.4M762.09,157.9h2.4M761.64,131.66h2.4M760.25,117.42h2.4M762.01,148.33h2.4M762.67,144.83h2.4M758.82,117.23h2.4M758.98,123.15h2.4M761.1,140.41h2.4M178.62,114.25h2.4M179.54,115.43h2.4M177.51,115.02h2.4M103.4,126.4h2.4M104,144.2h2.4M104,157.2h2.4M111.1,157.2h2.4M112.3,163.1h2.4M124.8,157.2h2.4M148.4,109.2h2.4M154.8,105.4h2.4M178,101.5h2.4M178,112.2h2.4M178,114h2.4M179.2,119.9h2.4M172.1,124.4h2.4M175.1,139.4h2.4M175.1,147.7h2.4M147.8,149.5h2.4M359.3,99.7h2.4M359.8,103.3h2.4M358.8,114h2.4M359.3,122.8h2.4M369.1,151.3h2.4M358,170.8h2.4" stroke="#000" stroke-width="1" fill="none"/>
<polyline points="89,207.74 89.5,207.98 90,207.73 90.5,207.04 91,207.01 91.5,206.67 92,206.56 92.5,206.36 93,206.44 93.5,207.21 94,207.96 94.5,208.17 95,207.54 95.5,208.41 96,208.54 96.5,209.14 97,208.94 97.5,209.93 98,209.82 98.5,210.26 99,210.27 99.5,209.18 100,209.68 100.5,210.19 101,209.57 101.5,209.82 102,209.51 102.5,209.09 103,209.26 103.5,209.43 104,209.41 104.5,209.37 105,208.37 105.5,208.95 106,208.08 106.5,208.41 107,208.29 107.5,208.48 108,208.27 108.5,208.5 109,207.85 109.5,208.43 110,208.34 110.5,208.27 111,207.92 111.5,208.61 112,208.59 112.5,208.83 113,208.61 113.5,208.6 114,208.9 114.5,208.99 115,209.14 115.5,209.63 116,208.82 116.5,209.81 117,208.15 117.5,209.59 118,209.03 118.5,210.09 119,209.15 119.5,209.78 120,208.99 120.5,208.87 121,209.48 121.5,209.43 122,208.81 122.5,209.83 123,208.8 123.5,209.39 124,208.42 124.5,208.37 125,208.67 125.5,208.21 126,208.66 126.5,207.68 127,208.42 127.5,208.09 128,207.88 128.5,208.22 129,208 129.5,207.86 130,208.3 130.5,208.12 131,208.15 131.5,208.48 132,207.99 132.5,208.31 133,207.87 133.5,208.23 134,208.2 134.5,207.83 135,207.49 135.5,207.57 136,207.69 136.5,208.21 137,207.97 137.5,207.92 138,208.04 138.5,207.89 139,207.88 139.5,206.94 140,207.1 140.5,206.92 141,206.1 141.5,206.23 142,205.63 142.5,205.63 143,205.72 143.5,205.12 144,205.55 144.5,205.71 145,206.17 145.5,206.02 146,206.54 146.5,206.25 147,206.51 147.5,207.04 148,207.08 148.5,206.97 149,206.84 149.5,207.13 150,207.19 150.5,206.51 151,206.32 151.5,206.14 152,207.03 152.5,206.05 153,205.83 153.5,206.31 154,206.52 154.5,205.65 155,205.97 155.5,205.44 156,205.63 156.5,206.37 157,205.79 157.5,205.57 158,205.62 158.5,205.65 159,205.61 159.5,205.32 160,205.41 160.5,206.6 161,205.73 161.5,206.5 162,205.92 162.5,206.71 163,206.58 163.5,206.36 164,207.22 164.5,206.28 165,206.61 165.5,206.48 166,206.6 166.5,206.83 167,206.61 167.5,206.77 168,207.37 168.5,206.15 169,206.26 169.5,206.3 170,206.41 170.5,206.86 171,206.69 171.5,206.55 172,206.39 172.5,207.09 173,205.8 173.5,205.73 174,206.06 174.5,206.08 175,205.88 175.5,205.82 176,205.81 176.5,206.32 177,206.32 177.5,206.55 178,206.49 178.5,207.48 179,207.32 179.5,207.96 180,207.28 180.5,207.63 181,207.68 181.5,207.92 182,207.97 182.5,208.16 183,207.68 183.5,208.42 184,208.9 184.5,208.14 185,208.84 185.5,209.24 186,209.43 186.5,208.91 187,209.04 187.5,209.45 188,209.24 188.5,208.58 189,208.48 189.5,208.99 190,208.66 190.5,208.35 191,208.41 191.5,208.55 192,208.32 192.5,208.25 193,208.2 193.5,207.72 194,208.79 194.5,208.56 195,208.61 195.5,207.99 196,208.06 196.5,208.22 197,208.31 197.5,207.39 198,208.14 198.5,207.67 199,208 199.5,207.79 200,208.61 200.5,208.21 201,208.01 201.5,208.5 202,208 202.5,207.77 203,207.96 203.5,207.89 204,208.04 204.5,208.31 205,207.98 205.5,208 206,208.37 206.5,208.12 207,208.35 207.5,208.07 208,207.57 208.5,207.63 209,207.44 209.5,208.42 210,208.16 210.5,207.86 211,207.68 211.5,208.15 212,207.97 212.5,208.32 213,208.25 213.5,208.49 214,209.75 214.5,209.21 215,209.86 215.5,210.67 216,209.9 216.5,211.11 217,211.23 217.5,211.49 218,211.97 218.5,211.78 219,211.65 219.5,213.31 220,212.78 220.5,213.42 221,213.73 221.5,213.67 222,213.96 222.5,214.28 223,214.81 223.5,214.66 224,215.16 224.5,214.85 225,215.03 225.5,215.44 226,215.78 226.5,216.06 227,216.78 227.5,216.62 228,216.58 228.5,217.48 229,217.09 229.5,217.23 230,217.4 230.5,217.24 231,217.1 231.5,217.65 232,217.62 232.5,217.55 233,218.02 233.5,218.03 234,218.02 234.5,217.74 235,218.42 235.5,219.21 236,219.03 236.5,219.23 237,218.97 237.5,219.17 238,218.36 238.5,218.22 239,218.34 239.5,217.45 240,217.74 240.5,217.61 241,217.87 241.5,216.83 242,217 242.5,216.42 243,216.24 243.5,215.19 244,215.38 244.5,215.68 245,215.05 245.5,214.51 246,214.89 246.5,213.81 247,212.77 247.5,212.72 248,212.35 248.5,212.51 249,211.23 249.5,211.27 250,211.44 250.5,210.8 251,211.08 251.5,210.33 252,211.04 252.5,210.21 253,210.82 253.5,211.52 254,211.04 254.5,210.9 255,210.9 255.5,211.57 256,210.99 256.5,211.14 257,210.6 257.5,210.58 258,210.32 258.5,210.56 259,210.32 259.5,210.84 260,210.66 260.5,210.33 261,210.12 261.5,209.25 262,209.98 262.5,210.23 263,210.29 263.5,208.93 264,209.1 264.5,209.93 265,209.45 265.5,209.67 266,209.52 266.5,209.9 267,209.08 267.5,209.55 268,210.1 268.5,209.87 269,209.54 269.5,210.01 270,209.97 270.5,209.59 271,210.17 271.5,210.18 272,209.93 272.5,210.33 273,209.62 273.5,210.32 274,210.01 274.5,209.93 275,210.55 275.5,211.66 276,211.57 276.5,212.14 277,212.53 277.5,212.98 278,214.09 278.5,214.98 279,214.23 279.5,213.49 280,213.12 280.5,212.29 281,211.79 281.5,211.11 282,211.56 282.5,210.5 283,209.91 283.5,209.49 284,209.33 284.5,208.62 285,208.6 285.5,208.57 286,208.89 286.5,207.91 287,208.36 287.5,207.93 288,207.94 288.5,208.57 289,208.14 289.5,207.71 290,207.93 290.5,207.67 291,208.01 291.5,207.56 292,208 292.5,207.86 293,208.04 293.5,208.09 294,208.03 294.5,208.38 295,208.78 295.5,208.3 296,208.44 296.5,208.76 297,208.44 297.5,209.06 298,209.07 298.5,208.09 299,208.72 299.5,208.64 300,209.36 300.5,209.46 301,208.78 301.5,209.02 302,209.29 302.5,209.26 303,209.69 303.5,209.9 304,210.1 304.5,210.61 305,210.89 305.5,210.87 306,211.08 306.5,211.31 307,212.18 307.5,212.54 308,212.92 308.5,212.78 309,213.1 309.5,213.66 310,214.31 310.5,214.3 311,214.56 311.5,214.49 312,215.23 312.5,215.56 313,215.35 313.5,216.58 314,215.96 314.5,216.9 315,216.81 315.5,217.23 316,217.2 316.5,217.11 317,217.38 317.5,216.91 318,216.69 318.5,216.95 319,216.72 319.5,216.36 320,216.22 320.5,216.57 321,215.75 321.5,215.78 322,215.62 322.5,214.96 323,214.95 323.5,215.82 324,216.24 324.5,216.18 325,216.09 325.5,216.08 326,215.54 326.5,214.1 327,212.6 327.5,212.34 328,212.03 328.5,212 329,212.15 329.5,212.17 330,211.83 330.5,211.5 331,210.75 331.5,211.5 332,211.27 332.5,211.7 333,211.61 333.5,211.25 334,211.48 334.5,210.91 335,210.84 335.5,210.49 336,210.59 336.5,210.7 337,210.91 337.5,210.24 338,210.72 338.5,211.2 339,209.88 339.5,210.21 340,210.25 340.5,210.54 341,210.83 341.5,210.52 342,210.03 342.5,209.7 343,209.93 343.5,209.88 344,209.93 344.5,209.49 345,210.27 345.5,209.45 346,209.88 346.5,209.67 347,209.17 347.5,209.52 348,209.38 348.5,209.19 349,209.41 349.5,208.85 350,209.77 350.5,209.16 351,208.34 351.5,207.67 352,208.85 352.5,208.38 353,208.2 353.5,207.72 354,207.44 354.5,207.17 355,208.58 355.5,208.13 356,207.26 356.5,207.98 357,206.57 357.5,207.33 358,207.21 358.5,206.27 359,206.01 359.5,205.4 360,205.38 360.5,205.42 361,204.91 361.5,204.31 362,204.15 362.5,202.75 363,203.66 363.5,202.7 364,202.15 364.5,202.35 365,202.15 365.5,202.29 366,202.25 366.5,201.22 367,202.35 367.5,202.4 368,201.33 368.5,202.08 369,201.89 369.5,201.7 370,201.8 370.5,200.63 371,201.35 371.5,200.74 372,201.92 372.5,200.76 373,200.67 373.5,201.49 374,201.31 374.5,201.11 375,201.14 375.5,201.31 376,201.7 376.5,200.85 377,200.9 377.5,200.89 378,201.07 378.5,201.1 379,200.64 379.5,200.99 380,200.25 380.5,200.38 381,200.2 381.5,200 382,200.41 382.5,200.26 383,199.86 383.5,199.84 384,198.99 384.5,199.38 385,198.67 385.5,198.59 386,198.46 386.5,197.76 387,197.87 387.5,197.88 388,197.92 388.5,197.6 389,197.2 389.5,196.95 390,197.22 390.5,196.65 391,196.51 391.5,196.74 392,196.7 392.5,196.2 393,195.72 393.5,196.3 394,196.34 394.5,195.77 395,195.88 395.5,195.5 396,196.93 396.5,196.53 397,197.46 397.5,197.3 398,197.76 398.5,198.04 399,197.78 399.5,199.67 400,198.44 400.5,198.96 401,198.57 401.5,198.7 402,199.19 402.5,197.99 403,198.52 403.5,198.67 404,198.47 404.5,198.5 405,198.03 405.5,197.65 406,197.69 406.5,197.94 407,198.27 407.5,197.97 408,198.43 408.5,197.84 409,197.8 409.5,197.73 410,196.99 410.5,197.73 411,197.23 411.5,197.57 412,198.61 412.5,197.45 413,198.01 413.5,198.16 414,198.19 414.5,198.23 415,198.12 415.5,199.1 416,197.79 416.5,198.22 417,199.19 417.5,198.95 418,198.57 418.5,198.62 419,198.99 419.5,200.31 420,199.87 420.5,199.65 421,200.41 421.5,200.42 422,201.47 422.5,201.37 423,202.02 423.5,201.94 424,202.91 424.5,202.66 425,202.92 425.5,202.78 426,203.3 426.5,203.9 427,203.9 427.5,205.13 428,204.29 428.5,204.06 429,204.71 429.5,204.21 430,204.57 430.5,204.43 431,204.24 431.5,205.01 432,204.59 432.5,204.97 433,204.51 433.5,204.16 434,204.53 434.5,205.13 435,205.6 435.5,206.04 436,206.55 436.5,206.28 437,207.15 437.5,206.99 438,207.53 438.5,209.01 439,208.91 439.5,208.69 440,209.71 440.5,209.63 441,209.5 441.5,209.75 442,209.2 442.5,209.29 443,209.09 443.5,209.64 444,209.05 444.5,209.52 445,210.1 445.5,210 446,210.54 446.5,211.3 447,210.56 447.5,211.63 448,211.14 448.5,211.29 449,211.94 449.5,212.32 450,211.57 450.5,211.42 451,211.38 451.5,211.14 452,211.31 452.5,210.85 453,210.87 453.5,210.94 454,210.53 454.5,210.93 455,210.15 455.5,209.97 456,210.82 456.5,210.49 457,209.9 457.5,210.1 458,209.87 458.5,209.51 459,209.87 459.5,209.68 460,209.96 460.5,208.8 461,209.67 461.5,209.38 462,209.03 462.5,209.06 463,209 463.5,208.62 464,209.62 464.5,211.01 465,211.12 465.5,212.44 466,212.66 466.5,214.4 467,215.9 467.5,216.92 468,218.12 468.5,218.88 469,220.63 469.5,220.83 470,221.67 470.5,221.64 471,221.65 471.5,222.51 472,222.07 472.5,222.78 473,222.67 473.5,222.84 474,223.41 474.5,223.42 475,223.48 475.5,223.65 476,223.98 476.5,224.15 477,224.22 477.5,224.18 478,223.75 478.5,224.7 479,224.73 479.5,225.31 480,225.12 480.5,225.44 481,225.72 481.5,225.15 482,224.97 482.5,225.62 483,225.2 483.5,225.4 484,226.06 484.5,225.83 485,226.1 485.5,225.31 486,225.87 486.5,226.34 487,225.59 487.5,226.19 488,226.35 488.5,225.49 489,226.94 489.5,226.22 490,226.51 490.5,227.24 491,226.11 491.5,226.99 492,226.75 492.5,227.01 493,226.8 493.5,227.65 494,226.87 494.5,227.48 495,227.67 495.5,227.58 496,227.65 496.5,227.78 497,228.36 497.5,228.29 498,228.23 498.5,228.01 499,228.58 499.5,228.84 500,228.77 500.5,229.41 501,228.37 501.5,230.04 502,229.24 502.5,229.03 503,228.95 503.5,230 504,230.02 504.5,229.88 505,230.47 505.5,230.25 506,229.74 506.5,229.99 507,229.51 507.5,228.95 508,228.12 508.5,228.87 509,227.92 509.5,227.43 510,227.94 510.5,227.36 511,226.18 511.5,226.11 512,226.52 512.5,226.17 513,226.52 513.5,227.45 514,227.54 514.5,226.44 515,226.7 515.5,226.69 516,226.29 516.5,225.78 517,226.63 517.5,226.15 518,226.33 518.5,226.38 519,225.81 519.5,226.65 520,226.04 520.5,226.05 521,225.78 521.5,226.14 522,226.2 522.5,225.57 523,225.9 523.5,225.46 524,225.11 524.5,225.35 525,225.61 525.5,225.51 526,225.62 526.5,224.93 527,224.99 527.5,225.04 528,225.16 528.5,224.83 529,224.46 529.5,224.17 530,225.06 530.5,225.05 531,224.54 531.5,225.39 532,224.95 532.5,225.23 533,225.62 533.5,225.11 534,225.1 534.5,224.87 535,225.68 535.5,225.83 536,226.08 536.5,226.09 537,226.25 537.5,226.95 538,226.52 538.5,227.35 539,227.73 539.5,227.84 540,228.82 540.5,228.7 541,229.35 541.5,229.53 542,229.48 542.5,230.56 543,230.43 543.5,229.97 544,229.84 544.5,229.44 545,229.67 545.5,229.56 546,229.63 546.5,229.33 547,229.6 547.5,229.29 548,228.68 548.5,228.98 549,228.76 549.5,228.55 550,228.83 550.5,229.16 551,228.37 551.5,227.98 552,228.54 552.5,229.57 553,228.23 553.5,228.47 554,228.19 554.5,228.6 555,228.76 555.5,228.15 556,228.58 556.5,227.75 557,228.16 557.5,227.6 558,228.07 558.5,227.75 559,228 559.5,227.48 560,227.92 560.5,227.83 561,227.55 561.5,227.43 562,227.25 562.5,227.49 563,227.73 563.5,227.5 564,227.56 564.5,227.91 565,227.31 565.5,227.48 566,227.66 566.5,227.65 567,227.71 567.5,227.7 568,228.45 568.5,227.84 569,227.83 569.5,228.28 570,228.74 570.5,228.77 571,228.38 571.5,228.76 572,228.75 572.5,228.7 573,229 573.5,229.09 574,229.02 574.5,229.68 575,229.04 575.5,229.76 576,230.11 576.5,230.23 577,229.74 577.5,229.75 578,229.41 578.5,230.11 579,231.16 579.5,229.91 580,230.08 580.5,231.08 581,231.16 581.5,230.47 582,231.25 582.5,231.55 583,231.07 583.5,232.1 584,231.46 584.5,232.48 585,232.35 585.5,232.27 586,232.18 586.5,232.86 587,233.18 587.5,233.4 588,233.47 588.5,233.84 589,234.45 589.5,234.06 590,234.54 590.5,235.01 591,235.07 591.5,235.46 592,235.75 592.5,235.13 593,235.38 593.5,234.33 594,235.29 594.5,235.69 595,235.11 595.5,236.02 596,234.95 596.5,236.13 597,235.53 597.5,235.34 598,235.33 598.5,235.2 599,234.74 599.5,234.41 600,234.51 600.5,234.83 601,234.44 601.5,234.57 602,233.68 602.5,233.57 603,233.95 603.5,234.68 604,235.36 604.5,236.38 605,236.58 605.5,236.96 606,237.63 606.5,236.76 607,236.45 607.5,237.02 608,236.71 608.5,236.57 609,236.73 609.5,236.16 610,236.12 610.5,236.16 611,236.13 611.5,236.13 612,235.7 612.5,235.62 613,234.56 613.5,235.71 614,234.6 614.5,235.14 615,236.13 615.5,235.2 616,234.83 616.5,236.03 617,235.34 617.5,235.55 618,235.63 618.5,236.02 619,236.11 619.5,235.87 620,236.37 620.5,235.74 621,236.37 621.5,235.99 622,236.53 622.5,236.12 623,236.15 623.5,236.75 624,235.76 624.5,235.67 625,236.21 625.5,235.84 626,235.7 626.5,235.73 627,236.45 627.5,235.27 628,235.46 628.5,235.54 629,235.08 629.5,235.32 630,235.42 630.5,234.86 631,235.5 631.5,234.68 632,235.01 632.5,235.15 633,236.12 633.5,234.37 634,235.06 634.5,235.82 635,234.7 635.5,235.26 636,234.93 636.5,234.33 637,234.95 637.5,234.47 638,234.79 638.5,234.21 639,234.96 639.5,233.85 640,234.67 640.5,235.21 641,234.98 641.5,234.71 642,234.78 642.5,234.75 643,235.88 643.5,234.94 644,234.99 644.5,234.77 645,234.9 645.5,235.31 646,234.82 646.5,234.63 647,234.6 647.5,234.56 648,234.62 648.5,234.28 649,234.26 649.5,233.95 650,234.53 650.5,234.01 651,233.75 651.5,233.85 652,233.62 652.5,233.06 653,233.52 653.5,234.14 654,233.71 654.5,233.92 655,233.25 655.5,232.94 656,233.19 656.5,233.88 657,233.04 657.5,233.08 658,233.72 658.5,233.22 659,233.22 659.5,233.39 660,233.27 660.5,233.1 661,233.27 661.5,232.91 662,233.12 662.5,233.34 663,232.71 663.5,232.99 664,232.64 664.5,233.27 665,233.2 665.5,233.29 666,233.3 666.5,233.27 667,233.14 667.5,232.59 668,233.16 668.5,232.49 669,233.6 669.5,232.86 670,232.94 670.5,232.28 671,233.06 671.5,233.07 672,232.09 672.5,232.42 673,232.42 673.5,232.36 674,233.07 674.5,233.35 675,232.21 675.5,232.95 676,232.5 676.5,233.07 677,231.73 677.5,232.44 678,233.01 678.5,232.32 679,233 679.5,232.41 680,232.99 680.5,232.79 681,232.44 681.5,232.32 682,232.53 682.5,232.99 683,232.58 683.5,232.34 684,233.59 684.5,231.72 685,232.04 685.5,232.16 686,231.46 686.5,231.67 687,231.38 687.5,230.86 688,231.38 688.5,230.68 689,230.66 689.5,231.21 690,230.23 690.5,230.69 691,230.74 691.5,230.52 692,230.19 692.5,229.79 693,229.23 693.5,229.62 694,229.61 694.5,229.49 695,229.54 695.5,230.41 696,229.95 696.5,230.69 697,230.59 697.5,230.38 698,231.75 698.5,231.62 699,231.81 699.5,231.34 700,232.01 700.5,232.28 701,231.96 701.5,232.84 702,231.59 702.5,232.59 703,231.72 703.5,231.87 704,232.01 704.5,232.7 705,232.29 705.5,232.34 706,232.3 706.5,232.14 707,232.38 707.5,232.39 708,232.66 708.5,232.68 709,232.01 709.5,232.67 710,233.36 710.5,232.8 711,232.96 711.5,232.72 712,232.72 712.5,232.93 713,232.47 713.5,232.88 714,232.34 714.5,233.03 715,232.36 715.5,233.09 716,233.16 716.5,232.19 717,232.94 717.5,232.51 718,233.01 718.5,232.37 719,232.4 719.5,232.35 720,232.84 720.5,231.67 721,232.57 721.5,232.28 722,232.03 722.5,232.07 723,232.43 723.5,232.34 724,232.59 724.5,231.72 725,231.24 725.5,231.65 726,231.73 726.5,231.57 727,232.08 727.5,232.38 728,231.65 728.5,230.82 729,231.74 729.5,231.08 730,231.25 730.5,231.46 731,231.22 731.5,231 732,231.06 732.5,231.15 733,231.04 733.5,231.47 734,229.63 734.5,230.33 735,230.33 735.5,230.75 736,230.47 736.5,230.62 737,229.75 737.5,230.08 738,230.28 738.5,229.94 739,229.71 739.5,229.85 740,230.23 740.5,228.82 741,230.01 741.5,229.45 742,228.95 742.5,229.38 743,229.07 743.5,229.38 744,228.57 744.5,229.09 745,228.34 745.5,228.66 746,228.7 746.5,228.32 747,228.48 747.5,227.94 748,228.43 748.5,227.8 749,227.66 749.5,227.79 750,227.74 750.5,227.39 751,227.88 751.5,227.49 752,227.67 752.5,226.86 753,226.85 753.5,227.14 754,226.81 754.5,227.03 755,227.2 755.5,227.32 756,227.37 756.5,227.06 757,226.53 757.5,227.05 758,226.75 758.5,227.2 759,226.71 759.5,227.63 760,227.38 760.5,227.21 761,226.91 761.5,227.55 762,227.35 762.5,227.69 763,227.43 763.5,227.57 764,228.05 764.5,228.42 765,227.54 765.5,227.99 766,228.46 766.5,228.55 767,228.74 767.5,229.93 768,229.16 768.5,229.87 769,229.85 769.5,230.27 770,229.79 770.5,231.19 771,231.08 771.5,231.1 772,232.31 772.5,231.79 773,231.8 773.5,231.85 774,232.64 774.5,232.4 775,232.41 775.5,232.18 776,232.45 776.5,233.01 777,233.01 777.5,232.44 778,232.96 778.5,233.47 779,234.46 779.5,233.38 780,232.99 780.5,234.16 781,233.84 781.5,233.62 782,234.34 782.5,234.14 783,233.95 783.5,233.9 784,234.38 784.5,234.53 785,233.95 785.5,234.98 786,234.26 786.5,235.27 787,234.96 787.5,234.85 788,235.11 788.5,234.85 789,235.1 789.5,235.77 790,235.07 790.5,235.62 791,235.09 791.5,235.47 792,235.89 792.5,235.23 793,235.87 793.5,235.1 794,235.55 794.5,235.91 795,236.46 795.5,236.5 796,236.03 796.5,236.41 797,236.62 797.5,236.11 798,236.9 798.5,237.33 799,237.39 799.5,236.85 800,237.01 800.5,236.93 801,237.18 801.5,237.37 802,237.79 802.5,237.68 803,237.42 803.5,238.12 804,238.22 804.5,237.78 805,237.98 805.5,238.11 806,237.65 806.5,238.36 807,238.62 807.5,239.15 808,238.62 808.5,238.53 809,238.66 809.5,239 810,239.15 810.5,238.65 811,239.1 811.5,239.34 812,238.49 812.5,239.75 813,239.28 813.5,239.74 814,239.49 814.5,239.5 815,239.64 815.5,239.85 816,240.13 816.5,239.82 817,239.6 817.5,239.83 818,239.81 818.5,240.5 819,239.98 819.5,240.92 820,240.52 820.5,240.52 821,241.09 821.5,240.58 822,240.69 822.5,241.15 823,241.21 823.5,240.68 824,241.97 824.5,241.39 825,240.81 825.5,241.19 826,241.58 826.5,241.33 827,241.55 827.5,242.08 828,241.58 828.5,241.96 829,241.49 829.5,241.02 830,241.78 830.5,241.01 831,241.59 831.5,241.48 832,240.96 832.5,241.01 833,241.2 833.5,241.4 834,241.78 834.5,241.43 835,242.16 835.5,241.89 836,241.45 836.5,241.54 837,241.88 837.5,241.75 838,241.99 838.5,242.38 839,242.29 839.5,242.63 840,242.14 840.5,242.16 841,242.06 841.5,242.02 842,242.57 842.5,242.83 843,242.69 843.5,242.73 844,243.41 844.5,242.27 845,242.52 845.5,242.41 846,242.22 846.5,242.98 847,242.46 847.5,242.87 848,242 848.5,243.01 849,243.11 849.5,241.98 850,242.24 850.5,242.16 851,242.36 851.5,241.7 852,242.32 852.5,242.41 853,241.94 853.5,241.36 854,241.91 854.5,242.01 855,242.42 855.5,241.94 856,241.75 856.5,242.37 857,242.28 857.5,242.41 858,242.17 858.5,242.52 859,242.33 859.5,241.53 860,242.22 860.5,242.58 861,242.48 861.5,243.15 862,242.64 862.5,243.2 863,242.69 863.5,243.29 864,243.26 864.5,243.26 865,243.32 865.5,244.01 866,244.25 866.5,244.04 867,243.99 867.5,244.28 868,245.01 868.5,244.49 869,245.97 869.5,246.49 870,248.67 870.5,250.57 871,252.48 871.5,252.75 872,254 872.5,253.39 873,254.58 873.5,253.24 874,252.43 874.5,251.9 875,251.85 875.5,251.12 876,251.42 876.5,248.36 877,250.05 877.5,248.46 878,249.04 878.5,249.32 879,249.94 879.5,251.02 880,251.07 880.5,250.27 881,251.75 881.5,252.18 882,252.98 882.5,252.73 883,252.64 883.5,253.47 884,251.89 884.5,254.34 885,252.28 885.5,251.93 886,253.29 886.5,253.51 887,253.64 887.5,253.8 888,253.06 888.5,252.75 889,252.99 889.5,252.7 890,252.3 890.5,253.91 891,253.96 891.5,252.35 892,251.93 892.5,251.48 893,250.34 893.5,250.84 894,250.71 894.5,250.84 895,249.85 895.5,249.19 896,251.27 896.5,252.23 897,244.09 897.5,242.54 898,247.03 898.5,249.27 899,250.15 899.5,250.63 900,245.66 900.5,239.86 901,243.25 901.5,248.64 902,250.89 902.5,250.1 903,249.66 903.5,250.32 904,249.23 904.5,250.36 905,250.01 905.5,248.46 906,249.32 906.5,249.76 907,248.91 907.5,246.68 908,245.19 908.5,244.23 909,246.57 909.5,248.21 910,245.92 910.5,244.83 911,243.64 911.5,240.71 912,242.06 912.5,247.15 913,248.79 913.5,249.1 914,248.27 914.5,249.01 915,248.1 915.5,249.51 916,249.87 916.5,247.82 917,246.49 917.5,247.98 918,247.87 918.5,248.32 919,248.11 919.5,248.37 920,249.95 920.5,247.41 921,247.46 921.5,247.98 922,246.18 922.5,248.07 923,246.93 923.5,246.23 924,246.58 924.5,247.49 925,247.65 925.5,247.85 926,247.15 926.5,246.18 927,247.04 927.5,246.46 928,248.18 928.5,244.78 929,247.43 929.5,246.7 930,246.33 930.5,245.86 931,245.41 931.5,245.01 932,244.46 932.5,247.06 933,246.13 933.5,245.84 934,245.51 934.5,243.7" fill="none" stroke="#ff0000" stroke-width="0.75" stroke-linejoin="round" />
<polyline points="89,182.76 89.5,182.73 90,182.91 90.5,181.98 91,182.26 91.5,181.9 92,181.82 92.5,181.52 93,181.97 93.5,181.93 94,181.29 94.5,182.42 95,182.82 95.5,181.79 96,182.55 96.5,181.94 97,182.35 97.5,183.4 98,183.11 98.5,183.82 99,183.64 99.5,184.14 100,183.98 100.5,184.79 101,185.17 101.5,185.03 102,184.84 102.5,185.16 103,184.99 103.5,185.57 104,185.57 104.5,185.18 105,185.78 105.5,185.29 106,186.16 106.5,185.85 107,186.15 107.5,185.38 108,185.31 108.5,185.05 109,186.01 109.5,185.53 110,186.52 110.5,186.24 111,186.59 111.5,186 112,186.38 112.5,186.78 113,187.11 113.5,186.54 114,187.24 114.5,186.97 115,187.69 115.5,187.58 116,187.8 116.5,188.31 117,188.81 117.5,188.57 118,189.34 118.5,188.81 119,189.51 119.5,189.27 120,189.98 120.5,189.84 121,190.42 121.5,190.71 122,190.18 122.5,189.93 123,190.5 123.5,190.77 124,190.7 124.5,190.32 125,190.96 125.5,190.59 126,190.98 126.5,190.43 127,190.92 127.5,191.2 128,190.58 128.5,190.74 129,191.08 129.5,191.09 130,191.16 130.5,191.11 131,190.74 131.5,191.4 132,191.08 132.5,191.68 133,190.96 133.5,192.4 134,192.69 134.5,192.31 135,191.98 135.5,192.3 136,192.84 136.5,192.88 137,192.54 137.5,193.32 138,193.11 138.5,192.89 139,192.43 139.5,192.41 140,192.01 140.5,192.17 141,191.73 141.5,192.21 142,191.75 142.5,191.91 143,192.06 143.5,192.15 144,191.65 144.5,192.69 145,192.37 145.5,192.25 146,192.2 146.5,192.4 147,192.53 147.5,192.84 148,192.64 148.5,193.19 149,193.43 149.5,193.36 150,194.6 150.5,194.01 151,194.4 151.5,194.54 152,194.67 152.5,195.19 153,195.66 153.5,195.38 154,195.33 154.5,196.04 155,195.33 155.5,196.36 156,196.46 156.5,196.78 157,196.15 157.5,196.52 158,196.31 158.5,196.48 159,196.87 159.5,196.6 160,196.46 160.5,197.08 161,196.67 161.5,195.96 162,196.3 162.5,196.81 163,196.93 163.5,196.98 164,197.12 164.5,196.84 165,197.24 165.5,196.99 166,197.23 166.5,197.33 167,197.48 167.5,197.78 168,197.94 168.5,197.87 169,198.64 169.5,198.24 170,199.05 170.5,198.99 171,198.29 171.5,198.98 172,198.16 172.5,199.1 173,198.68 173.5,198.19 174,197.75 174.5,198.33 175,197.97 175.5,198.78 176,197.94 176.5,198.25 177,198.47 177.5,198.43 178,198.66 178.5,198.62 179,199.09 179.5,198.66 180,199.32 180.5,198.85 181,199.47 181.5,199.15 182,199.61 182.5,200.03 183,200.39 183.5,199.48 184,199.98 184.5,200.05 185,200.94 185.5,200.36 186,201.04 186.5,200.76 187,200.58 187.5,201.24 188,200.87 188.5,201.58 189,201.67 189.5,201.91 190,201.16 190.5,202.12 191,201.97 191.5,201.08 192,202.53 192.5,202.41 193,201.53 193.5,202.06 194,201.55 194.5,202.03 195,202.2 195.5,202.41 196,201.94 196.5,202.23 197,201.93 197.5,202.4 198,202.51 198.5,202.32 199,202.7 199.5,202.58 200,202.46 200.5,202.74 201,201.92 201.5,202.35 202,201.77 202.5,202.38 203,202.24 203.5,202.7 204,202.26 204.5,202.07 205,202.13 205.5,201.99 206,202.09 206.5,201.48 207,201.14 207.5,200.99 208,201.81 208.5,200.85 209,201 209.5,200.65 210,201.22 210.5,200.59 211,201.09 211.5,200.29 212,200.51 212.5,200.69 213,200.89 213.5,200.26 214,200.67 214.5,200.9 215,200.42 215.5,201.42 216,201.44 216.5,201.6 217,201.07 217.5,201.74 218,201.95 218.5,202.28 219,201.87 219.5,202.41 220,202.98 220.5,202.28 221,202.26 221.5,202.26 222,201.82 222.5,202.18 223,202.84 223.5,201.93 224,202.15 224.5,202.6 225,202.36 225.5,202.21 226,201.98 226.5,202.03 227,202.04 227.5,202.25 228,202.01 228.5,202.28 229,201.27 229.5,202.17 230,201.68 230.5,201.83 231,201.63 231.5,201.88 232,201.5 232.5,201.64 233,201.03 233.5,201.26 234,201.5 234.5,201.34 235,200.72 235.5,200.78 236,200.48 236.5,200.45 237,200.38 237.5,200.74 238,200.47 238.5,200.72 239,200.7 239.5,199.68 240,200.17 240.5,199.86 241,199.41 241.5,199.54 242,199.69 242.5,200.4 243,199.8 243.5,199.63 244,199.57 244.5,199.21 245,199.41 245.5,199.21 246,198.57 246.5,198.83 247,200.06 247.5,199.01 248,198.65 248.5,198.8 249,198.12 249.5,198.37 250,198.53 250.5,197.56 251,197.75 251.5,197.75 252,197.91 252.5,197.98 253,198.4 253.5,198.81 254,198.73 254.5,199.11 255,199.27 255.5,198.85 256,199.3 256.5,199.23 257,199.74 257.5,199.54 258,199.73 258.5,200.49 259,199.97 259.5,199.61 260,200.3 260.5,200.48 261,200.32 261.5,200.64 262,201.08 262.5,200.67 263,200.9 263.5,200.84 264,201.3 264.5,201.02 265,200.62 265.5,200.76 266,201.31 266.5,199.98 267,199.96 267.5,200.43 268,199.71 268.5,200.73 269,199.43 269.5,199.37 270,199.51 270.5,199.93 271,199.71 271.5,199.51 272,199.29 272.5,199.52 273,198.35 273.5,198.97 274,199.26 274.5,198.31 275,198.69 275.5,198.89 276,198.8 276.5,198.23 277,198.81 277.5,198.25 278,198.34 278.5,197.52 279,197.83 279.5,198.03 280,199.09 280.5,197.89 281,198.26 281.5,199.36 282,199.34 282.5,198.48 283,199.56 283.5,199.79 284,200.5 284.5,199.64 285,200.17 285.5,200.7 286,200.59 286.5,200 287,200.2 287.5,199.78 288,200.73 288.5,200.1 289,200.67 289.5,200.49 290,199.9 290.5,200.14 291,200.39 291.5,200.31 292,200.66 292.5,200.51 293,200.22 293.5,200.33 294,199.84 294.5,199.86 295,200.26 295.5,199.82 296,199.28 296.5,199.59 297,199.3 297.5,199.34 298,199.92 298.5,199.12 299,199.17 299.5,199.54 300,199.33 300.5,199.32 301,198.73 301.5,199.16 302,199 302.5,198.81 303,198.85 303.5,198.84 304,198.93 304.5,198.98 305,198.08 305.5,198.25 306,197.48 306.5,196.64 307,196.86 307.5,196.98 308,196.72 308.5,195.65 309,196.4 309.5,195.1 310,194.85 310.5,194.71 311,195.17 311.5,194.6 312,194.56 312.5,193.28 313,193.81 313.5,193.57 314,193.64 314.5,193.03 315,193.38 315.5,192.53 316,192.08 316.5,191.78 317,192.55 317.5,192.17 318,191.44 318.5,192.08 319,191.69 319.5,191.76 320,191.36 320.5,191.72 321,191.99 321.5,192.07 322,191.86 322.5,192.44 323,192.64 323.5,191.93 324,192.39 324.5,191.81 325,192.63 325.5,192.33 326,192.78 326.5,193.05 327,193.08 327.5,193.68 328,193.23 328.5,193.5 329,193.94 329.5,193.98 330,194.25 330.5,194.26 331,194.06 331.5,194.46 332,194.16 332.5,194.34 333,194.38 333.5,193.71 334,193.48 334.5,193.48 335,193.31 335.5,192.76 336,193.89 336.5,193.37 337,193.92 337.5,192.97 338,193.38 338.5,193.29 339,193.19 339.5,193.57 340,193.26 340.5,193.25 341,193.35 341.5,192.56 342,193.09 342.5,193.11 343,193.93 343.5,193.59 344,193.68 344.5,193.65 345,193.39 345.5,194.03 346,193.43 346.5,193.04 347,193.75 347.5,193.95 348,193.48 348.5,193.45 349,193.54 349.5,193.62 350,193.19 350.5,193.45 351,192.86 351.5,193.36 352,192.08 352.5,192.75 353,192.41 353.5,192.25 354,191.66 354.5,192.34 355,191.8 355.5,191.42 356,191.4 356.5,191.28 357,191.15 357.5,190.56 358,190.3 358.5,190.5 359,190.09 359.5,190.52 360,189.47 360.5,189.61 361,189.7 361.5,188.79 362,188.94 362.5,188.61 363,188.5 363.5,189.01 364,188.11 364.5,188.22 365,187.81 365.5,188.35 366,188.7 366.5,188.26 367,188.6 367.5,188.05 368,188.67 368.5,188.23 369,188.09 369.5,188.78 370,188.2 370.5,188.38 371,188.21 371.5,188.38 372,188.17 372.5,187.7 373,188.27 373.5,188.45 374,188.54 374.5,188.45 375,189.25 375.5,188.51 376,188.91 376.5,189.06 377,188.74 377.5,188.82 378,189.56 378.5,189.68 379,189.61 379.5,188.99 380,189.39 380.5,189.53 381,189.63 381.5,189.78 382,189.49 382.5,189.63 383,189.82 383.5,188.44 384,189.52 384.5,189.01 385,189.28 385.5,189.15 386,188.7 386.5,188.7 387,189.11 387.5,188.9 388,189.28 388.5,188.98 389,189.9 389.5,189.17 390,190.03 390.5,189.15 391,189.67 391.5,189.93 392,189.37 392.5,189.76 393,190.51 393.5,191.04 394,191.4 394.5,191.41 395,191.86 395.5,191.4 396,191.93 396.5,192.84 397,192.45 397.5,192.84 398,192.6 398.5,193.32 399,193.05 399.5,193.91 400,194.48 400.5,194.29 401,194.44 401.5,194.45 402,194.97 402.5,194.36 403,194.47 403.5,195.25 404,193.99 404.5,194.14 405,193.76 405.5,194.54 406,193.95 406.5,193.5 407,193.41 407.5,194.1 408,193.85 408.5,193.79 409,193.41 409.5,193.63 410,193.67 410.5,193.35 411,192.59 411.5,192.47 412,192.64 412.5,193.22 413,192.63 413.5,192.77 414,193.14 414.5,192.83 415,192.7 415.5,193.45 416,193.29 416.5,193.39 417,193.44 417.5,193.61 418,193.11 418.5,193.06 419,192.53 419.5,193.04 420,192.92 420.5,193.47 421,193.36 421.5,193.85 422,193.93 422.5,194.18 423,194.18 423.5,194.26 424,194.3 424.5,194.64 425,194.55 425.5,195.21 426,195.27 426.5,194.83 427,194.82 427.5,195.63 428,195.76 428.5,195.87 429,196.45 429.5,195.86 430,195.69 430.5,196.3 431,196.56 431.5,196.82 432,195.98 432.5,196.28 433,196.28 433.5,196.98 434,196.75 434.5,196.58 435,196.86 435.5,196.55 436,196.65 436.5,196.76 437,196.65 437.5,196.78 438,197.05 438.5,197.09 439,197.59 439.5,197.46 440,197.23 440.5,196.59 441,196.91 441.5,197.32 442,197.44 442.5,197.21 443,197.6 443.5,197.85 444,197.68 444.5,197.92 445,198.02 445.5,197.89 446,197.92 446.5,198.24 447,198.46 447.5,198.1 448,197.84 448.5,198.19 449,198.55 449.5,197.72 450,198.44 450.5,197.81 451,197.92 451.5,197.5 452,197.83 452.5,197.52 453,197.51 453.5,196.61 454,197.37 454.5,196.44 455,196.77 455.5,196.93 456,196.57 456.5,196.67 457,196.45 457.5,196.33 458,195.93 458.5,196.43 459,196.37 459.5,195.72 460,195.5 460.5,195.76 461,195.35 461.5,195.54 462,195.67 462.5,195.52 463,195.69 463.5,195.25 464,194.65 464.5,194.61 465,194.97 465.5,195.33 466,194.48 466.5,194.19 467,194.86 467.5,194.35 468,194.66 468.5,194.83 469,194.19 469.5,194.43 470,194.41 470.5,194.81 471,194.89 471.5,194.55 472,194.94 472.5,194.2 473,194.95 473.5,194.98 474,194.91 474.5,194.47 475,194.96 475.5,194.68 476,195.55 476.5,195.01 477,195.08 477.5,195.15 478,195.4 478.5,195.28 479,195.46 479.5,195.01 480,195.71 480.5,195.21 481,195.65 481.5,195.51 482,195.82 482.5,195.47 483,195.04 483.5,195.17 484,195.51 484.5,196.07 485,195.51 485.5,195.69 486,196.12 486.5,195.55 487,195.86 487.5,195.89 488,195.63 488.5,195.94 489,196.26 489.5,196.31 490,195.91 490.5,197.02 491,196.23 491.5,196.08 492,195.98 492.5,195.94 493,196.59 493.5,195.42 494,196.37 494.5,196.02 495,196.46 495.5,196.56 496,196.19 496.5,196.34 497,197.13 497.5,196.59 498,196.81 498.5,196.76 499,197.18 499.5,197.34 500,197.27 500.5,197.19 501,197.22 501.5,196.68 502,197.53 502.5,196.95 503,196.88 503.5,197.08 504,196.97 504.5,197.4 505,197.54 505.5,197.8 506,197.43 506.5,197.35 507,197.53 507.5,197.32 508,197.54 508.5,198.52 509,197.69 509.5,197.87 510,198.31 510.5,198.27 511,198.51 511.5,198.06 512,198.07 512.5,198.94 513,198.36 513.5,198.63 514,198.81 514.5,198.21 515,198.84 515.5,198.77 516,199.3 516.5,199.18 517,198.69 517.5,199.84 518,198.89 518.5,199.75 519,199.8 519.5,199.98 520,200.33 520.5,200.79 521,200.35 521.5,200.58 522,201.18 522.5,201.25 523,201.47 523.5,201.49 524,201.45 524.5,201.52 525,201.68 525.5,202.28 526,202.62 526.5,202.93 527,202.09 527.5,202.5 528,202.73 528.5,202.57 529,202.1 529.5,203.02 530,202.64 530.5,201.93 531,201.67 531.5,201.65 532,201.09 532.5,201.22 533,201.42 533.5,201.55 534,201.14 534.5,201.11 535,200.17 535.5,199.29 536,200.65 536.5,200.09 537,200.03 537.5,200.63 538,199.78 538.5,199.8 539,199.89 539.5,200.7 540,200.5 540.5,199.61 541,200.77 541.5,200.25 542,200.41 542.5,200.03 543,200.93 543.5,200.48 544,200.79 544.5,200.05 545,200.63 545.5,200.45 546,200.36 546.5,200.19 547,200.25 547.5,200.12 548,200.31 548.5,200.54 549,200.76 549.5,200.07 550,200.27 550.5,200.43 551,200.11 551.5,200.53 552,200.49 552.5,200.47 553,200.62 553.5,200.74 554,200.65 554.5,200.42 555,200.48 555.5,199.97 556,199.87 556.5,200.35 557,200.27 557.5,200.76 558,199.91 558.5,199.6 559,199.98 559.5,199.68 560,199.48 560.5,200.18 561,200.32 561.5,199.75 562,199.36 562.5,199.62 563,199.46 563.5,198.97 564,199.66 564.5,199.45 565,199.7 565.5,199.05 566,199.18 566.5,199.09 567,198.51 567.5,199.87 568,198.28 568.5,198.55 569,198.76 569.5,198.31 570,198.92 570.5,198.58 571,198.71 571.5,198.71 572,198.61 572.5,198.57 573,198.43 573.5,198.58 574,198.65 574.5,198.25 575,198.14 575.5,198.1 576,198.29 576.5,198.01 577,197.96 577.5,197.53 578,198.63 578.5,197.52 579,198.4 579.5,198 580,197.98 580.5,197.62 581,197.6 581.5,197.43 582,197.44 582.5,197.42 583,197.55 583.5,196.61 584,197 584.5,197.28 585,197.11 585.5,196.19 586,196.54 586.5,196.43 587,196.32 587.5,195.38 588,196.33 588.5,195.4 589,196.59 589.5,196.19 590,196.05 590.5,196.41 591,196.37 591.5,196.26 592,196.52 592.5,196.79 593,196.51 593.5,197.14 594,197.4 594.5,197.5 595,197.65 595.5,197.71 596,197.41 596.5,197.52 597,197 597.5,197.01 598,197.26 598.5,197.33 599,196.46 599.5,195.99 600,197.1 600.5,196.67 601,196.8 601.5,196.38 602,196.06 602.5,195.66 603,195.45 603.5,196.17 604,195.91 604.5,195.59 605,195 605.5,195.1 606,194.97 606.5,194.98 607,194 607.5,194.96 608,195.31 608.5,194.49 609,194.59 609.5,194.57 610,194.04 610.5,194.42 611,193.9 611.5,193.93 612,194.06 612.5,193.86 613,193.81 613.5,193.37 614,193.83 614.5,193.11 615,193.67 615.5,193.11 616,192.77 616.5,193.04 617,192.59 617.5,192.65 618,192.66 618.5,192.86 619,192.74 619.5,192.51 620,192.13 620.5,191.59 621,191.91 621.5,191.76 622,191.71 622.5,191.45 623,191.33 623.5,191.66 624,190.81 624.5,191.15 625,191.46 625.5,190.65 626,190.45 626.5,190.59 627,190.53 627.5,190.82 628,191.27 628.5,190.85 629,191.17 629.5,190.86 630,190.98 630.5,191.33 631,191.08 631.5,191.8 632,191.34 632.5,191.5 633,191.29 633.5,191.38 634,191.05 634.5,191.08 635,190.5 635.5,190.96 636,191.41 636.5,190.03 637,191.13 637.5,190.35 638,190.55 638.5,189.76 639,190.65 639.5,189.45 640,189.65 640.5,190.12 641,189.33 641.5,189.15 642,190.12 642.5,190.06 643,190.18 643.5,190.38 644,190.38 644.5,191.55 645,191.67 645.5,190.97 646,191.59 646.5,191.65 647,192.38 647.5,191.89 648,192.89 648.5,192.43 649,192.26 649.5,192.6 650,192.53 650.5,193.61 651,192.98 651.5,192.86 652,193.16 652.5,193.74 653,192.99 653.5,192.84 654,193.98 654.5,193.84 655,193.57 655.5,193.8 656,194.31 656.5,193.08 657,194.57 657.5,194.17 658,194.56 658.5,194.44 659,195.71 659.5,194.6 660,195.37 660.5,194.26 661,195.35 661.5,195.79 662,195.15 662.5,195.16 663,196.07 663.5,196.56 664,196.8 664.5,196.32 665,196.86 665.5,196.42 666,197.69 666.5,197.06 667,197.82 667.5,197.36 668,197.42 668.5,198.18 669,197.39 669.5,198.22 670,197.73 670.5,197.62 671,197.72 671.5,198.48 672,198.14 672.5,198.13 673,197.8 673.5,198.82 674,198.86 674.5,198.68 675,198.92 675.5,197.6 676,198.62 676.5,198.95 677,199.01 677.5,198.82 678,199.15 678.5,198.85 679,198.91 679.5,198.75 680,199.27 680.5,199.01 681,199.13 681.5,199.83 682,199.37 682.5,199.41 683,198.93 683.5,199.32 684,199.89 684.5,199.78 685,199.64 685.5,199.6 686,199.73 686.5,199.88 687,199.67 687.5,198.95 688,200.56 688.5,200.32 689,199.92 689.5,200.51 690,199.61 690.5,200.57 691,200.24 691.5,200.53 692,200.15 692.5,200.37 693,200.57 693.5,200.79 694,200.65 694.5,200.67 695,200.36 695.5,201.22 696,200.74 696.5,200.48 697,200.31 697.5,199.87 698,199.9 698.5,199.49 699,199.96 699.5,199.73 700,199.7 700.5,199.05 701,199.21 701.5,199 702,199.44 702.5,198.52 703,198.68 703.5,199.83 704,199.67 704.5,199.16 705,200.35 705.5,200.57 706,200.61 706.5,199.65 707,200.59 707.5,200.41 708,200.78 708.5,200.49 709,201.64 709.5,200.7 710,200.95 710.5,201.05 711,200.89 711.5,200.74 712,200.37 712.5,200.49 713,200.25 713.5,199.44 714,200.5 714.5,199.84 715,199.79 715.5,200.01 716,199.85 716.5,200.09 717,200.06 717.5,201.04 718,201.47 718.5,201.26 719,201.01 719.5,202.05 720,201.66 720.5,201.39 721,201.47 721.5,202.38 722,203 722.5,202.54 723,202.63 723.5,202.94 724,202.91 724.5,203.2 725,203.66 725.5,203.5 726,204.25 726.5,203.63 727,204.26 727.5,204.17 728,203.95 728.5,204.02 729,204.05 729.5,204.79 730,203.96 730.5,204.7 731,204.68 731.5,204.25 732,204.97 732.5,203.61 733,204.57 733.5,204.57 734,204.57 734.5,204.9 735,204.51 735.5,204.62 736,205.13 736.5,204.73 737,204.45 737.5,205.09 738,204.94 738.5,204.85 739,205.32 739.5,204.94 740,204.95 740.5,205.28 741,205.38 741.5,205.55 742,205.19 742.5,206.29 743,206.01 743.5,205.9 744,206.01 744.5,205.13 745,206.41 745.5,205.81 746,206.43 746.5,205.91 747,206.75 747.5,206.3 748,206.49 748.5,207.15 749,207.01 749.5,206.24 750,206.52 750.5,206.88 751,206.78 751.5,207.2 752,206.73 752.5,206.36 753,206.75 753.5,207.05 754,207.36 754.5,207.48 755,207.7 755.5,207.4 756,207.3 756.5,207.67 757,207.43 757.5,207.35 758,207.4 758.5,207.94 759,208.19 759.5,208.19 760,207.23 760.5,208.24 761,207.53 761.5,207.86 762,208.25 762.5,207.64 763,207.74 763.5,207.97 764,208.88 764.5,208.73 765,208.1 765.5,208.53 766,208.59 766.5,208.72 767,208.42 767.5,209.24 768,208.75 768.5,209.39 769,208.74 769.5,209.69 770,209.83 770.5,210.48 771,209.32 771.5,210.65 772,210.96 772.5,210.81 773,211.59 773.5,212.09 774,211.89 774.5,212.09 775,212.5 775.5,212.41 776,212.91 776.5,212.91 777,212.47 777.5,212.33 778,213.1 778.5,212.89 779,212.43 779.5,212.67 780,213.16 780.5,212.04 781,212.31 781.5,212.86 782,212.9 782.5,212.19 783,212.24 783.5,212.63 784,213.06 784.5,212.56 785,211.73 785.5,212.9 786,212.52 786.5,212.36 787,212.1 787.5,212.92 788,212.64 788.5,212.74 789,212.77 789.5,212.85 790,213.04 790.5,213.4 791,212.47 791.5,212.87 792,212.79 792.5,213.58 793,212.94 793.5,212.53 794,213.14 794.5,212.94 795,212.99 795.5,213.14 796,212.89 796.5,212.72 797,214.13 797.5,213.45 798,213.22 798.5,213.81 799,214.14 799.5,213.14 800,213.68 800.5,214.01 801,213.7 801.5,214.23 802,213.72 802.5,214 803,214.27 803.5,214.55 804,214.49 804.5,214.32 805,214.51 805.5,213.97 806,215.54 806.5,214.73 807,214.85 807.5,215.13 808,215.31 808.5,215.32 809,215.04 809.5,214.77 810,215.34 810.5,215.17 811,215.31 811.5,215.55 812,215.69 812.5,216.11 813,215.65 813.5,215.15 814,216.01 814.5,216.18 815,215.33 815.5,216.17 816,216.07 816.5,215.86 817,216.16 817.5,216.29 818,216.41 818.5,216.66 819,216.3 819.5,216.35 820,217.25 820.5,216.07 821,216.3 821.5,216.22 822,216.57 822.5,216.64 823,215.73 823.5,216.58 824,215.68 824.5,216.96 825,215.76 825.5,216.33 826,215.8 826.5,216.1 827,215.53 827.5,215.88 828,215.89 828.5,215.97 829,216.26 829.5,215.88 830,215.97 830.5,215.67 831,216.14 831.5,216.06 832,216.59 832.5,216.57 833,216.13 833.5,216.59 834,216.65 834.5,215.74 835,215.03 835.5,215.93 836,214.89 836.5,214.56 837,214.82 837.5,213.29 838,213.3 838.5,212.15 839,212.61 839.5,212.21 840,211.42 840.5,210.67 841,210.81 841.5,210.39 842,211.38 842.5,209.7 843,210.02 843.5,210.25 844,209.43 844.5,210.52 845,210.12 845.5,211.48 846,209.99 846.5,211.04 847,212.12 847.5,209.97 848,209.99 848.5,211.53 849,209.4 849.5,210.01 850,209.86 850.5,208.45 851,207.59 851.5,209.63 852,207.68 852.5,208.1 853,206.76 853.5,207.26 854,205.91 854.5,205.78 855,205.94 855.5,206.16 856,206.08 856.5,206.21 857,206.7 857.5,205.88 858,206.9 858.5,205.61 859,206.52 859.5,206.92 860,207.16 860.5,204.27 861,206.97 861.5,204.26 862,206.56 862.5,205.37 863,205.49 863.5,204.37 864,205.63 864.5,205.29 865,204.21 865.5,204.01 866,204.97 866.5,204.95 867,204.6 867.5,203.59 868,203.73 868.5,204.28 869,204.06 869.5,204.12 870,203.23 870.5,202.45 871,203.04 871.5,203.02 872,202.13 872.5,202.71 873,201.6 873.5,202.23 874,201.36 874.5,203.17 875,202.25 875.5,201.33 876,199.92 876.5,199.76 877,200.98 877.5,200.12 878,200.24 878.5,198.6 879,198.43 879.5,199.42 880,198.95 880.5,197.88 881,198.06 881.5,199.02 882,197.88 882.5,198.47 883,199.1 883.5,197.94 884,197.61 884.5,196.89 885,198.07 885.5,195.9 886,195.99 886.5,196.62 887,195.35 887.5,197.02 888,195.64 888.5,196.33 889,195.53 889.5,195.39 890,195.42 890.5,193.76 891,194.19 891.5,194.35 892,196.07 892.5,194.72 893,194.35 893.5,192.73 894,193.87 894.5,193.84 895,193.17 895.5,194.27 896,190.99 896.5,190.9 897,191.21 897.5,190.48 898,191.38 898.5,191.87 899,191.6 899.5,191.82 900,192.18 900.5,192.59 901,191.65 901.5,191.78 902,193.31 902.5,192.29 903,192.05 903.5,193.02 904,192.65 904.5,192.68 905,192.22 905.5,192.41 906,192.3 906.5,190.67 907,190.05 907.5,191.84 908,189.8 908.5,188.83 909,188.24 909.5,189.31 910,188.53 910.5,187.31 911,187.65 911.5,187.24 912,188.46 912.5,187.56 913,187.27 913.5,186.46 914,187.41 914.5,188.18 915,187.94 915.5,188.74 916,188.14 916.5,188.73 917,188.69 917.5,188.06 918,189.62 918.5,189.02 919,189.5 919.5,188.06 920,187.67 920.5,187.98 921,187.13 921.5,187.83 922,187.29 922.5,187.53 923,186.68 923.5,185.02 924,186.45 924.5,185.37 925,185.42 925.5,186.13 926,186.2 926.5,187.1 927,188.56 927.5,186.87 928,187.76 928.5,186.63 929,187.16 929.5,186.63 930,186.82 930.5,188.21 931,187.49 931.5,187.43 932,186.45 932.5,188.28 933,186.82 933.5,186.41 934,186.84 934.5,187.31" fill="none" stroke="#000" stroke-width="0.75" stroke-linejoin="round" />
<polyline points="89,297.58 89.5,297.66 90,297.15 90.5,297.2 91,297.51 91.5,297.58 92,297 92.5,297.04 93,296.85 93.5,297.26 94,297.53 94.5,297.95 95,298.04 95.5,298.7 96,298.8 96.5,299.05 97,299.54 97.5,299.6 98,299.71 98.5,300.22 99,300.54 99.5,299.92 100,299.75 100.5,299.38 101,299.14 101.5,299.02 102,298.21 102.5,298.22 103,298.1 103.5,297.91 104,297.98 104.5,297.92 105,297.35 105.5,297.06 106,296.87 106.5,296.77 107,296.03 107.5,295.69 108,295.37 108.5,294.96 109,294.14 109.5,294.12 110,293.33 110.5,293.46 111,293.67 111.5,293.32 112,294.01 112.5,294.16 113,294.21 113.5,294.69 114,295 114.5,294.51 115,294.01 115.5,293.73 116,293.56 116.5,293.37 117,293.54 117.5,293.17 118,292.9 118.5,292.85 119,292.48 119.5,292.26 120,291.89 120.5,291.71 121,291.6 121.5,291.11 122,291.35 122.5,290.8 123,290.4 123.5,290.4 124,289.76 124.5,289.86 125,289.41 125.5,289.46 126,288.84 126.5,288.72 127,288.49 127.5,288.27 128,288.39 128.5,288 129,288.1 129.5,287.78 130,287.93 130.5,287.1 131,287.38 131.5,287.06 132,286.8 132.5,286.44 133,286.62 133.5,285.98 134,285.88 134.5,285.51 135,285.24 135.5,285.07 136,284.93 136.5,284.35 137,284.22 137.5,283.84 138,284.04 138.5,283.69 139,283.59 139.5,283.71 140,283.47 140.5,283.42 141,283.19 141.5,283.17 142,282.99 142.5,282.62 143,282.71 143.5,282.46 144,282.33 144.5,282.27 145,281.97 145.5,281.73 146,281.98 146.5,281.95 147,281.73 147.5,282.39 148,282.66 148.5,282.87 149,283.24 149.5,282.98 150,282.5 150.5,282.07 151,281.66 151.5,281.03 152,280.94 152.5,280.13 153,279.69 153.5,279.6 154,279 154.5,278.45 155,277.54 155.5,276.73 156,276.37 156.5,275.47 157,274.79 157.5,273.99 158,273.54 158.5,272.51 159,273.35 159.5,273.22 160,274.06 160.5,273.95 161,274.68 161.5,275.33 162,275.16 162.5,275.32 163,276.21 163.5,275.6 164,275.16 164.5,275.26 165,274.2 165.5,274.12 166,273.82 166.5,273.61 167,273.04 167.5,273.23 168,273.05 168.5,272.79 169,272.66 169.5,272.39 170,272.7 170.5,272.42 171,272.6 171.5,272.61 172,272.37 172.5,271.92 173,272.07 173.5,272.42 174,272.16 174.5,272.3 175,271.58 175.5,271.9 176,271.83 176.5,271.51 177,271.62 177.5,272.02 178,272.14 178.5,272.15 179,272.5 179.5,272.86 180,272.65 180.5,273.1 181,273.43 181.5,273.32 182,273.77 182.5,273.32 183,273.34 183.5,273.1 184,272.78 184.5,272.48 185,272.22 185.5,272.17 186,271.97 186.5,271.99 187,271.52 187.5,271.4 188,271.44 188.5,270.99 189,270.82 189.5,270.83 190,270.35 190.5,270.21 191,270.07 191.5,269.78 192,269.53 192.5,269.4 193,269.56 193.5,269.73 194,269.63 194.5,269.68 195,269.48 195.5,269.13 196,268.91 196.5,269.01 197,268.99 197.5,268.83 198,269.06 198.5,268.68 199,268.86 199.5,268.82 200,268.3 200.5,268.47 201,268.7 201.5,268.56 202,268.36 202.5,268.06 203,268.09 203.5,268.45 204,268.87 204.5,268.94 205,269.05 205.5,269.32 206,269.63 206.5,269.39 207,269.74 207.5,270.14 208,270.56 208.5,270.75 209,270.63 209.5,270.98 210,271.06 210.5,271.33 211,271.64 211.5,271.76 212,271.94 212.5,272.04 213,272.17 213.5,272.62 214,272.89 214.5,273.16 215,273.1 215.5,273.32 216,273.88 216.5,273.93 217,274.21 217.5,274.15 218,274.32 218.5,274.44 219,275.03 219.5,274.85 220,274.94 220.5,275.32 221,275.88 221.5,275.86 222,276.27 222.5,276.75 223,277.22 223.5,277.7 224,277.97 224.5,279.03 225,279.2 225.5,279.94 226,279.95 226.5,280.82 227,281.01 227.5,281.49 228,282.27 228.5,282.91 229,283.45 229.5,283.89 230,284.05 230.5,284.69 231,284.89 231.5,285.35 232,285.94 232.5,286.33 233,286.95 233.5,286.92 234,287.9 234.5,288.05 235,288.87 235.5,289.26 236,289.05 236.5,289.17 237,289.23 237.5,288.89 238,288.82 238.5,288.83 239,288.94 239.5,288.89 240,288.58 240.5,288.7 241,288.39 241.5,287.86 242,287.14 242.5,286.7 243,286.48 243.5,286.15 244,285.65 244.5,285.08 245,284.56 245.5,284.6 246,284.02 246.5,284.06 247,283.19 247.5,283.01 248,282.63 248.5,282.75 249,282.32 249.5,281.68 250,281.13 250.5,281.45 251,281.04 251.5,280.58 252,280.28 252.5,280.38 253,280.04 253.5,279.87 254,279.68 254.5,279.31 255,279.1 255.5,279.03 256,278.66 256.5,278.4 257,278.29 257.5,277.43 258,277.63 258.5,277.1 259,276.5 259.5,276.22 260,276.09 260.5,275.59 261,274.79 261.5,274.54 262,274.37 262.5,274.27 263,273.71 263.5,273.15 264,273.09 264.5,273.41 265,273.78 265.5,274.33 266,274.3 266.5,275.29 267,275.63 267.5,275.88 268,276.23 268.5,276.59 269,276.84 269.5,276.72 270,276.62 270.5,276.79 271,276 271.5,276.16 272,276.05 272.5,276.26 273,275.94 273.5,276.18 274,277.27 274.5,278.18 275,279.28 275.5,279.92 276,280.67 276.5,281.54 277,282.37 277.5,283.48 278,284.42 278.5,285.11 279,286.01 279.5,285.57 280,284.1 280.5,282.94 281,281.43 281.5,280.28 282,278.77 282.5,277.68 283,277.16 283.5,276.64 284,275.69 284.5,274.85 285,274.41 285.5,273.92 286,273.01 286.5,272.53 287,271.68 287.5,271 288,270.99 288.5,271.03 289,271.41 289.5,271.03 290,270.81 290.5,270.83 291,270.74 291.5,270.54 292,270.53 292.5,270.88 293,271.45 293.5,271.99 294,272.34 294.5,272.44 295,272.99 295.5,272.97 296,273.12 296.5,273.55 297,273.86 297.5,273.95 298,274.32 298.5,274.54 299,274.74 299.5,274.79 300,274.79 300.5,275.57 301,275.38 301.5,275.81 302,275.98 302.5,276.04 303,276.64 303.5,277.12 304,278 304.5,278.93 305,279.83 305.5,280.77 306,282.1 306.5,282.92 307,283.92 307.5,285.09 308,285.94 308.5,287.12 309,287.89 309.5,288.69 310,289.69 310.5,290.16 311,291.14 311.5,291.87 312,292.53 312.5,292.99 313,293.8 313.5,294.59 314,295.3 314.5,296.43 315,296.88 315.5,297.56 316,298.44 316.5,298.51 317,298.05 317.5,298.28 318,298.13 318.5,297.72 319,297.79 319.5,297.2 320,297.2 320.5,297.1 321,297.04 321.5,297.23 322,296.97 322.5,296.85 323,297.07 323.5,297.06 324,297.11 324.5,296.45 325,295.27 325.5,293.87 326,292.81 326.5,291.32 327,290.06 327.5,289.11 328,287.89 328.5,287.76 329,287.59 329.5,287.16 330,287.11 330.5,286.58 331,286.6 331.5,286.06 332,286.37 332.5,286.89 333,287.39 333.5,287.69 334,287.52 334.5,287.94 335,288 335.5,287.59 336,287.98 336.5,287.67 337,287.86 337.5,287.55 338,287.29 338.5,287.15 339,287.12 339.5,287.12 340,286.83 340.5,287.3 341,286.72 341.5,286.37 342,286.49 342.5,286.64 343,286.47 343.5,286.3 344,286.2 344.5,286.14 345,286.04 345.5,286.12 346,286.22 346.5,286.03 347,286.39 347.5,286.13 348,285.94 348.5,285.98 349,286.21 349.5,285.61 350,285.91 350.5,286.31 351,285.97 351.5,285.56 352,285.61 352.5,285.42 353,285.83 353.5,285.1 354,285.04 354.5,284.91 355,284.59 355.5,284.13 356,284.55 356.5,284.56 357,284.26 357.5,284.3 358,284.22 358.5,284.09 359,283.54 359.5,283.98 360,283.74 360.5,283.61 361,283.25 361.5,282.99 362,282.65 362.5,282.57 363,282.41 363.5,281.89 364,281.89 364.5,281.41 365,281.35 365.5,281.01 366,281.04 366.5,281.08 367,280.62 367.5,280.35 368,280.21 368.5,280.24 369,279.9 369.5,280.01 370,279.74 370.5,279.69 371,279.29 371.5,279.06 372,278.95 372.5,279 373,278.64 373.5,278.76 374,278.12 374.5,278.22 375,278.16 375.5,277.71 376,277.78 376.5,277.47 377,277.57 377.5,277.25 378,277.12 378.5,276.54 379,276.1 379.5,276 380,275.81 380.5,275.51 381,275.22 381.5,275.11 382,274.53 382.5,274.25 383,273.9 383.5,273.9 384,274.14 384.5,273.96 385,273.39 385.5,274.01 386,273.4 386.5,273.63 387,273.82 387.5,273.62 388,273.13 388.5,272.52 389,271.76 389.5,270.82 390,270.45 390.5,269.6 391,268.64 391.5,268.36 392,267.84 392.5,267.11 393,266.43 393.5,266.16 394,265.81 394.5,265.83 395,265.64 395.5,265.79 396,265.35 396.5,265.53 397,265.56 397.5,265.08 398,265.25 398.5,264.73 399,264.94 399.5,264.93 400,264.56 400.5,264.31 401,264.55 401.5,264.39 402,264.39 402.5,264.33 403,264.38 403.5,264.54 404,264.38 404.5,264.06 405,264.49 405.5,264.47 406,264.46 406.5,264.75 407,264.55 407.5,264.47 408,264.65 408.5,264.32 409,264.81 409.5,264.68 410,265.06 410.5,265.08 411,265.22 411.5,265.39 412,265.35 412.5,265.74 413,266.01 413.5,266.33 414,266.43 414.5,266.68 415,266.88 415.5,266.87 416,267.21 416.5,267.32 417,267.34 417.5,267.53 418,268.17 418.5,268.51 419,268.73 419.5,268.56 420,269.2 420.5,269.44 421,269.26 421.5,269.71 422,270.16 422.5,270.1 423,270.52 423.5,270.43 424,270.71 424.5,271.15 425,271.2 425.5,271.3 426,271.31 426.5,271.14 427,271.61 427.5,271.34 428,271.33 428.5,271.33 429,271.44 429.5,271.29 430,271.63 430.5,271.44 431,271.66 431.5,271.39 432,271.38 432.5,271.42 433,271.65 433.5,271.4 434,271.8 434.5,271.62 435,271.86 435.5,271.65 436,272.35 436.5,272.65 437,273.26 437.5,274.19 438,274.61 438.5,275.52 439,275.83 439.5,276.67 440,277.06 440.5,277.3 441,277.94 441.5,277.73 442,278.01 442.5,277.94 443,277.68 443.5,278.13 444,278.33 444.5,278.44 445,278.59 445.5,278.79 446,279.13 446.5,279.58 447,279.79 447.5,280.55 448,280.97 448.5,281.33 449,281.56 449.5,282.23 450,282.14 450.5,282.41 451,282.03 451.5,281.99 452,281.98 452.5,281.8 453,281.78 453.5,281.84 454,281.4 454.5,282.14 455,281.8 455.5,281.74 456,281.48 456.5,281.62 457,281.62 457.5,281.74 458,281.56 458.5,281.9 459,281.69 459.5,282.09 460,282.06 460.5,282.21 461,282.36 461.5,282.67 462,282.84 462.5,282.73 463,282.63 463.5,283.19 464,283.69 464.5,285.7 465,287.6 465.5,289.36 466,291.58 466.5,293.26 467,295.23 467.5,296.84 468,298.9 468.5,300.32 469,300.59 469.5,300.94 470,301.22 470.5,301.52 471,301.65 471.5,301.68 472,302.16 472.5,302.01 473,302.7 473.5,302.87 474,303.43 474.5,303.07 475,304.17 475.5,304.01 476,303.97 476.5,304.5 477,304.69 477.5,304.85 478,305.34 478.5,304.98 479,305.35 479.5,305.5 480,305.53 480.5,305.8 481,306.03 481.5,305.72 482,306.01 482.5,306.17 483,306.17 483.5,305.83 484,306.23 484.5,306.18 485,306.53 485.5,306.35 486,306.78 486.5,306.27 487,306.65 487.5,306.46 488,307 488.5,307.02 489,306.64 489.5,307 490,306.82 490.5,306.48 491,306.54 491.5,306.69 492,306.72 492.5,306.51 493,306.58 493.5,306.53 494,306.47 494.5,306.26 495,306.62 495.5,306.81 496,306.57 496.5,307.23 497,307.33 497.5,307.22 498,307.69 498.5,307.29 499,307.39 499.5,307.56 500,307.67 500.5,308.24 501,308.04 501.5,308.14 502,308.34 502.5,308.68 503,308.54 503.5,308.57 504,308.8 504.5,309.1 505,308.96 505.5,309.37 506,309.17 506.5,308.46 507,307.95 507.5,307.59 508,306.57 508.5,306.24 509,305.47 509.5,304.77 510,304.13 510.5,303.64 511,303.32 511.5,303.09 512,302.95 512.5,302.49 513,302.34 513.5,302.09 514,302.02 514.5,301.86 515,301.64 515.5,301.62 516,301.17 516.5,301.1 517,301.11 517.5,301.07 518,300.59 518.5,300.61 519,300.45 519.5,299.84 520,299.88 520.5,299.4 521,299.26 521.5,299.16 522,298.61 522.5,298.68 523,298.31 523.5,298.04 524,297.93 524.5,297.44 525,297.03 525.5,297.09 526,296.7 526.5,296.55 527,296.14 527.5,295.92 528,295.65 528.5,295.36 529,295.19 529.5,295.06 530,295.38 530.5,296.12 531,295.62 531.5,295.63 532,296.19 532.5,296.04 533,296.28 533.5,296.55 534,296.79 534.5,296.97 535,297.4 535.5,297.87 536,298.61 536.5,299.09 537,299.38 537.5,299.96 538,300.29 538.5,301.17 539,301.55 539.5,302.45 540,302.52 540.5,303.44 541,303.54 541.5,303.93 542,304.61 542.5,305.35 543,305.83 543.5,305.3 544,305.42 544.5,304.96 545,304.76 545.5,304.6 546,304.74 546.5,304.28 547,304.11 547.5,303.59 548,303.68 548.5,303.5 549,303.62 549.5,303.14 550,303.13 550.5,303.06 551,303.07 551.5,303.26 552,302.97 552.5,303.3 553,303.04 553.5,302.84 554,302.84 554.5,302.68 555,302.63 555.5,303.05 556,302.96 556.5,302.6 557,302.65 557.5,302.98 558,302.53 558.5,302.74 559,302.87 559.5,302.82 560,302.9 560.5,302.95 561,303.1 561.5,302.88 562,303.24 562.5,303.34 563,303.15 563.5,303.53 564,303.36 564.5,303.14 565,303.34 565.5,303.77 566,303.93 566.5,303.83 567,303.72 567.5,304.03 568,304.43 568.5,304.47 569,304.43 569.5,304.99 570,305.08 570.5,305.3 571,305.55 571.5,305.85 572,305.95 572.5,306.01 573,306.37 573.5,306.63 574,307.02 574.5,306.81 575,307.22 575.5,307.3 576,307.71 576.5,307.78 577,307.54 577.5,308.41 578,308.3 578.5,308.39 579,308.48 579.5,308.72 580,308.85 580.5,309.22 581,309.44 581.5,309.56 582,309.81 582.5,309.77 583,310.18 583.5,310.23 584,310.59 584.5,311.29 585,311.8 585.5,312.75 586,313.35 586.5,313.81 587,314.87 587.5,315.53 588,315.64 588.5,316.19 589,316.56 589.5,316.7 590,316.73 590.5,316.63 591,316.46 591.5,316.59 592,316.49 592.5,316.24 593,316.3 593.5,316.4 594,316.05 594.5,316.01 595,315.92 595.5,316.27 596,316.09 596.5,316.07 597,315.8 597.5,315.81 598,315.98 598.5,315.67 599,315.88 599.5,315.61 600,315.56 600.5,315.77 601,316.19 601.5,316.7 602,316.7 602.5,317.41 603,317.34 603.5,317.69 604,317.8 604.5,318.7 605,319.18 605.5,319.07 606,319.58 606.5,319.62 607,319.25 607.5,319.4 608,319.3 608.5,319.02 609,318.78 609.5,318.85 610,318.79 610.5,318.3 611,318.39 611.5,318.36 612,317.63 612.5,318.33 613,318.75 613.5,318.39 614,319.02 614.5,318.91 615,319.23 615.5,319.27 616,319.27 616.5,319.34 617,320.23 617.5,319.74 618,320.1 618.5,320.57 619,320.54 619.5,320.69 620,320.48 620.5,320.89 621,320.94 621.5,321.02 622,321.57 622.5,321.83 623,321.71 623.5,321.9 624,322.2 624.5,322.31 625,322.01 625.5,322.44 626,322.44 626.5,322.31 627,322.15 627.5,322.48 628,322.54 628.5,322.77 629,322.39 629.5,322.81 630,322.51 630.5,322.7 631,322.63 631.5,322.7 632,322.98 632.5,322.64 633,322.94 633.5,322.7 634,322.67 634.5,322.47 635,322.56 635.5,322.1 636,322.33 636.5,322.48 637,322.37 637.5,321.86 638,321.86 638.5,321.86 639,322.13 639.5,321.6 640,321.55 640.5,321.39 641,321.36 641.5,321.02 642,321.1 642.5,321.01 643,320.99 643.5,320.52 644,320.71 644.5,320.77 645,320.44 645.5,320.3 646,319.62 646.5,320.17 647,320.14 647.5,319.85 648,319.52 648.5,319.38 649,319.56 649.5,318.7 650,318.56 650.5,318.63 651,318.28 651.5,317.65 652,317.87 652.5,317.69 653,317.27 653.5,317.3 654,317.08 654.5,316.48 655,316.64 655.5,316.68 656,316.36 656.5,315.6 657,315.32 657.5,315.31 658,315.1 658.5,314.56 659,314.42 659.5,314.54 660,314.1 660.5,313.99 661,313.55 661.5,313.49 662,312.96 662.5,312.71 663,312.38 663.5,311.96 664,311.98 664.5,311.56 665,311.47 665.5,311.33 666,311.11 666.5,311.07 667,310.86 667.5,310.84 668,310.98 668.5,310.67 669,310.63 669.5,310.11 670,310.28 670.5,310.6 671,310.17 671.5,310.06 672,310.35 672.5,309.88 673,310.2 673.5,309.93 674,309.76 674.5,309.43 675,309.96 675.5,309.35 676,309.43 676.5,309.76 677,309.37 677.5,309.66 678,309.54 678.5,309.47 679,309.31 679.5,309.35 680,309.49 680.5,309.24 681,309.51 681.5,309.41 682,309.44 682.5,309.36 683,309.4 683.5,309.34 684,309.39 684.5,309.29 685,309.09 685.5,308.59 686,308.17 686.5,308.22 687,308.1 687.5,307.49 688,307.1 688.5,307.01 689,306.9 689.5,306.71 690,306.22 690.5,305.8 691,305.72 691.5,305.58 692,305.17 692.5,305.09 693,304.54 693.5,304.51 694,304.38 694.5,304.18 695,304.54 695.5,305.15 696,305.93 696.5,305.8 697,306.04 697.5,306.62 698,306.7 698.5,306.77 699,307.23 699.5,307.98 700,307.77 700.5,308.15 701,308.89 701.5,309.11 702,309.64 702.5,309.57 703,309.97 703.5,310.27 704,309.79 704.5,309.64 705,309.33 705.5,309.19 706,308.69 706.5,308.31 707,308.15 707.5,307.93 708,307.59 708.5,307.49 709,307.51 709.5,307.62 710,307.61 710.5,307.99 711,308.1 711.5,308.54 712,308.41 712.5,308.64 713,308.87 713.5,308.44 714,308.79 714.5,309 715,309.19 715.5,308.79 716,308.85 716.5,308.56 717,308.19 717.5,307.92 718,307.3 718.5,307.4 719,306.79 719.5,306.26 720,306.32 720.5,306.07 721,305.57 721.5,305.1 722,304.89 722.5,304.77 723,304.04 723.5,304.38 724,304.08 724.5,303.56 725,303.49 725.5,302.97 726,302.49 726.5,302.51 727,302.28 727.5,302.01 728,301.93 728.5,302 729,302.39 729.5,302.13 730,302.68 730.5,302.06 731,302.29 731.5,302.24 732,302.14 732.5,302.33 733,302.03 733.5,302.17 734,301.93 734.5,301.56 735,301.78 735.5,301.37 736,301.16 736.5,301.31 737,300.98 737.5,300.9 738,300.95 738.5,300.48 739,300.35 739.5,299.86 740,300.04 740.5,299.85 741,299.33 741.5,299.44 742,299.2 742.5,298.91 743,298.78 743.5,298.97 744,298.13 744.5,297.91 745,297.7 745.5,297.37 746,296.79 746.5,296.95 747,296.71 747.5,296.58 748,295.88 748.5,295.47 749,295.53 749.5,294.95 750,294.85 750.5,294.54 751,294.49 751.5,294.21 752,294.25 752.5,293.8 753,294.23 753.5,293.78 754,293.36 754.5,293.14 755,293.12 755.5,292.91 756,292.68 756.5,292.92 757,292.68 757.5,292.15 758,292.28 758.5,292.02 759,291.99 759.5,291.57 760,291.97 760.5,291.52 761,291.79 761.5,291.28 762,291.53 762.5,291.19 763,291.44 763.5,291.03 764,290.79 764.5,291.03 765,292.11 765.5,292.83 766,293.29 766.5,293.75 767,294.42 767.5,295.02 768,295.04 768.5,295.91 769,296.5 769.5,295.72 770,295.48 770.5,295.41 771,295.13 771.5,294.74 772,294.57 772.5,294.62 773,294.25 773.5,293.69 774,293.28 774.5,293.14 775,293.35 775.5,293.43 776,293.67 776.5,294.2 777,294.27 777.5,294.5 778,294.86 778.5,295.33 779,295.37 779.5,295.69 780,295.83 780.5,296.35 781,295.66 781.5,295.35 782,295.12 782.5,295.25 783,294.83 783.5,294.02 784,294.22 784.5,294.55 785,294.6 785.5,294.89 786,294.79 786.5,294.72 787,295.27 787.5,295.53 788,295.17 788.5,295.25 789,295.65 789.5,295.54 790,296.1 790.5,295.98 791,296.57 791.5,296.63 792,296.96 792.5,297.31 793,297.4 793.5,297.5 794,298.1 794.5,297.92 795,298.69 795.5,298.58 796,298.84 796.5,299.18 797,299.29 797.5,299.4 798,299.15 798.5,299.35 799,299.67 799.5,299.78 800,299.8 800.5,300.15 801,299.98 801.5,299.96 802,299.66 802.5,299.19 803,298.76 803.5,298.59 804,298.21 804.5,298.25 805,298.05 805.5,298.35 806,298.62 806.5,298.34 807,298.48 807.5,298.47 808,298.74 808.5,298.27 809,298.99 809.5,298.86 810,298.79 810.5,298.94 811,299.16 811.5,299.08 812,299.2 812.5,299.36 813,299.24 813.5,299.4 814,299.59 814.5,299.49 815,299.34 815.5,299.66 816,299.95 816.5,299.59 817,299.79 817.5,299.84 818,299.99 818.5,299.82 819,299.95 819.5,300.37 820,300.24 820.5,300.13 821,300.51 821.5,300.51 822,300.9 822.5,300.46 823,300.89 823.5,301.17 824,300.89 824.5,301.11 825,301.46 825.5,301.5 826,301.57 826.5,301.8 827,301.62 827.5,301.85 828,301.8 828.5,300.88 829,300.57 829.5,300.03 830,300.2 830.5,300.1 831,300.11 831.5,300.25 832,300.1 832.5,299.74 833,299.92 833.5,300.3 834,300.23 834.5,300.26 835,300.82 835.5,301.78 836,303.08 836.5,303.72 837,304.52 837.5,304.82 838,305.66 838.5,306.6 839,307.26 839.5,307.97 840,307.93 840.5,308.39 841,308.44 841.5,308.55 842,308.94 842.5,309.08 843,309.2 843.5,308.97 844,308.78 844.5,308.19 845,307.94 845.5,307.91 846,307.81 846.5,307.85 847,307.35 847.5,307.33 848,307.67 848.5,307.78 849,308.24 849.5,308.49 850,308.75 850.5,309.05 851,309.49 851.5,310.13 852,310.5 852.5,311.56 853,311.93 853.5,312.88 854,313.53 854.5,314.51 855,314.59 855.5,314.34 856,314.06 856.5,314.01 857,313.67 857.5,313.31 858,313.26 858.5,313.24 859,313.09 859.5,313.19 860,312.96 860.5,313.16 861,313.33 861.5,313.12 862,313.86 862.5,313.42 863,314.3 863.5,314.76 864,315.75 864.5,316.63 865,317.32 865.5,317.83 866,318.62 866.5,319.65 867,319.91 867.5,320.35 868,320.89 868.5,320.68 869,321.57 869.5,322.15 870,322.64 870.5,322.85 871,322.99 871.5,324.06 872,327.92 872.5,330.56 873,330.3 873.5,330.16 874,329.88 874.5,329.35 875,329.05 875.5,329 876,328.88 876.5,328.83 877,328.42 877.5,328.61 878,329.38 878.5,330.23 879,330.42 879.5,330.65 880,331.56 880.5,331.94 881,332.56 881.5,333.23 882,333.76 882.5,333.67 883,333.82 883.5,334.19 884,334.38 884.5,334.74 885,334.59 885.5,334.54 886,334.64 886.5,334.71 887,334.73 887.5,334.84 888,335.09 888.5,335.11 889,334.84 889.5,334.86 890,334.69 890.5,334.59 891,334.43 891.5,334.44 892,334.28 892.5,333.69 893,334.09 893.5,333.94 894,333.83 894.5,334.53 895,334.95 895.5,335.66 896,336.05 896.5,336.89 897,336.72 897.5,334.9 898,332.79 898.5,329.53 899,329.57 899.5,334.52 900,334.7 900.5,329.96 901,325.3 901.5,323.69 902,328.06 902.5,332.34 903,334.22 903.5,334.25 904,334.2 904.5,334.28 905,334.41 905.5,334.36 906,334.78 906.5,334.9 907,334.99 907.5,334.77 908,334.85 908.5,335.09 909,335.04 909.5,335.14 910,332.8 910.5,330.07 911,333 911.5,334.86 912,332.13 912.5,330.22 913,331.89 913.5,334.27 914,336.14 914.5,337.78 915,337.57 915.5,337.3 916,337.25 916.5,337.4 917,337.27 917.5,336.99 918,336.92 918.5,336.88 919,336.94 919.5,336.94 920,336.94 920.5,336.63 921,336.86 921.5,336.59 922,336.52 922.5,335.91 923,335.96 923.5,335.85 924,335.15 924.5,335.42 925,335.14 925.5,335.02 926,334.69 926.5,334.66 927,334.19 927.5,334.23 928,334.58 928.5,334.72 929,334.49 929.5,335.07 930,335.2 930.5,335.3 931,335.13 931.5,335.61 932,335.61 932.5,335.82 933,335.72 933.5,334.86 934,334.01 934.5,333.22" fill="none" stroke="#000" stroke-width="0.75" stroke-linejoin="round" />
<polyline points="89,367.06 89.5,366.78 90,366.81 90.5,366.98 91,366.88 91.5,366.57 92,366.81 92.5,366.87 93,367.22 93.5,367.06 94,366.77 94.5,366.76 95,366.87 95.5,366.99 96,366.82 96.5,367.04 97,366.72 97.5,367.03 98,367.18 98.5,366.51 99,366.97 99.5,367.03 100,367.07 100.5,367.01 101,366.98 101.5,367.05 102,367.02 102.5,367.02 103,367.28 103.5,367.19 104,367.18 104.5,366.91 105,366.94 105.5,367.21 106,366.85 106.5,367.21 107,366.8 107.5,367.41 108,367.26 108.5,366.95 109,366.97 109.5,366.7 110,367.05 110.5,367.27 111,367.17 111.5,367.03 112,367.43 112.5,367.17 113,367.15 113.5,367.03 114,367.19 114.5,367.55 115,367.17 115.5,366.81 116,367.14 116.5,367.44 117,367.32 117.5,367.02 118,367.18 118.5,366.86 119,367.24 119.5,366.98 120,367.04 120.5,367.04 121,367.03 121.5,367.53 122,367.58 122.5,367.36 123,367.52 123.5,367.88 124,367.63 124.5,367.69 125,367.7 125.5,368.21 126,368.05 126.5,368.11 127,368.13 127.5,368.13 128,368.54 128.5,368.33 129,368.46 129.5,368.35 130,368.53 130.5,368.69 131,368.71 131.5,368.54 132,368.71 132.5,368.8 133,368.38 133.5,368.94 134,368.8 134.5,368.63 135,368.82 135.5,368.96 136,368.89 136.5,368.91 137,368.91 137.5,369.03 138,368.69 138.5,368.84 139,369.02 139.5,368.97 140,368.79 140.5,368.93 141,368.87 141.5,369 142,368.72 142.5,368.77 143,368.84 143.5,369.11 144,369.6 144.5,369.38 145,369.46 145.5,369.29 146,369.61 146.5,369.43 147,369.42 147.5,369.64 148,369.28 148.5,369.15 149,369.36 149.5,369.85 150,369.8 150.5,369.72 151,369.69 151.5,369.74 152,369.88 152.5,369.7 153,370.02 153.5,369.76 154,370.2 154.5,369.95 155,369.88 155.5,370.03 156,369.95 156.5,370.13 157,369.88 157.5,370.14 158,370.28 158.5,370.37 159,370.27 159.5,370.59 160,370.12 160.5,370.42 161,370.41 161.5,370.53 162,370.52 162.5,370.84 163,370.64 163.5,370.58 164,371.29 164.5,370.98 165,371.06 165.5,371.36 166,371.22 166.5,371.4 167,371.71 167.5,371.47 168,371.71 168.5,372.07 169,372.34 169.5,372.12 170,372.24 170.5,372.46 171,371.99 171.5,372.1 172,372.06 172.5,371.81 173,371.64 173.5,372.05 174,372.26 174.5,372.19 175,372.27 175.5,371.54 176,371.97 176.5,372.21 177,371.8 177.5,371.69 178,371.96 178.5,371.87 179,371.96 179.5,371.82 180,372.18 180.5,372.24 181,372.31 181.5,372.35 182,372.69 182.5,372.6 183,373.03 183.5,373.22 184,373.33 184.5,373.09 185,373.54 185.5,373.68 186,373.92 186.5,373.64 187,373.96 187.5,374.2 188,374.61 188.5,374.41 189,374.82 189.5,374.84 190,375.31 190.5,375.17 191,374.98 191.5,375.37 192,375.61 192.5,375.94 193,375.98 193.5,375.97 194,375.94 194.5,376.32 195,376.44 195.5,376.85 196,376.93 196.5,376.67 197,376.66 197.5,377.14 198,377.41 198.5,377.35 199,377.58 199.5,378.03 200,378.1 200.5,377.81 201,378.28 201.5,378.33 202,378.36 202.5,378.58 203,378.67 203.5,379.09 204,378.78 204.5,378.7 205,378.83 205.5,379.13 206,379.43 206.5,379.29 207,379.36 207.5,379.4 208,379.37 208.5,379.54 209,379.41 209.5,379.84 210,379.88 210.5,380.02 211,380.03 211.5,380.33 212,380.46 212.5,380.81 213,380.9 213.5,381.2 214,381.49 214.5,381.75 215,381.53 215.5,381.85 216,381.9 216.5,382.51 217,382.33 217.5,382.91 218,382.78 218.5,383.24 219,383.15 219.5,383.4 220,383.65 220.5,383.84 221,383.99 221.5,384.32 222,384.61 222.5,384.74 223,384.7 223.5,384.65 224,385.18 224.5,384.85 225,385.64 225.5,385.82 226,385.67 226.5,386.17 227,386.13 227.5,386.65 228,386.47 228.5,386.64 229,386.85 229.5,387.19 230,387.14 230.5,387.9 231,387.62 231.5,388.17 232,388 232.5,388.17 233,388.28 233.5,388.45 234,388.84 234.5,389.16 235,389.14 235.5,389.15 236,389.49 236.5,389.41 237,389.18 237.5,389.77 238,389.54 238.5,389.84 239,390.06 239.5,390.08 240,390.2 240.5,390.62 241,390.62 241.5,390.82 242,390.69 242.5,390.79 243,391.04 243.5,390.42 244,390.39 244.5,390.15 245,389.98 245.5,389.83 246,389.55 246.5,389.61 247,389.49 247.5,389.9 248,389.8 248.5,390.34 249,390.5 249.5,390.46 250,390.58 250.5,390.83 251,391.11 251.5,390.91 252,391.17 252.5,391.69 253,391.66 253.5,391.64 254,391.65 254.5,392.13 255,392.07 255.5,392.56 256,392.69 256.5,393.2 257,392.82 257.5,393.32 258,393.16 258.5,393.36 259,393.67 259.5,393.72 260,394.36 260.5,394.2 261,394.24 261.5,394.94 262,394.46 262.5,394.58 263,394.66 263.5,394.61 264,394.9 264.5,395.06 265,394.67 265.5,394.86 266,394.93 266.5,394.8 267,394.87 267.5,395.08 268,395.04 268.5,395.3 269,395.44 269.5,395.38 270,395.45 270.5,395.28 271,395.39 271.5,395.64 272,395.75 272.5,395.71 273,395.89 273.5,395.83 274,395.75 274.5,396.08 275,396.02 275.5,395.88 276,396.39 276.5,396.39 277,396.53 277.5,396.39 278,396.81 278.5,396.71 279,396.87 279.5,396.66 280,396.79 280.5,397.19 281,397.15 281.5,397.35 282,397.79 282.5,397.92 283,397.95 283.5,398.43 284,398.02 284.5,398.46 285,398.56 285.5,399.1 286,399.31 286.5,399.14 287,399.43 287.5,399.76 288,399.87 288.5,400.02 289,400.33 289.5,400.68 290,400.53 290.5,400.47 291,400.8 291.5,400.97 292,401.06 292.5,401.4 293,401.56 293.5,401.75 294,401.83 294.5,401.94 295,401.87 295.5,402.19 296,402.3 296.5,402.71 297,402.83 297.5,403.04 298,403.34 298.5,403.4 299,403.83 299.5,404.03 300,403.89 300.5,404.48 301,404.39 301.5,404.53 302,404.8 302.5,404.83 303,405.31 303.5,405.66 304,405.39 304.5,405.91 305,406.09 305.5,406.25 306,406.4 306.5,406.51 307,406.51 307.5,406.89 308,406.95 308.5,407.18 309,407.24 309.5,407.29 310,407.48 310.5,407.74 311,407.97 311.5,407.61 312,407.87 312.5,407.96 313,408.3 313.5,408.42 314,408.71 314.5,408.74 315,409.14 315.5,408.93 316,409.03 316.5,409.13 317,409.34 317.5,409.54 318,409.55 318.5,409.59 319,409.64 319.5,410.02 320,410.02 320.5,410.06 321,410.31 321.5,410.53 322,410.94 322.5,410.99 323,410.68 323.5,410.88 324,410.74 324.5,410.86 325,411 325.5,411.6 326,411.66 326.5,411.69 327,412.08 327.5,412.35 328,412.58 328.5,413.19 329,412.86 329.5,413.36 330,413.73 330.5,413.92 331,413.56 331.5,414.07 332,413.92 332.5,414.14 333,414.06 333.5,414.57 334,415.07 334.5,414.81 335,414.68 335.5,414.54 336,415.09 336.5,415.24 337,414.95 337.5,415.4 338,415.03 338.5,415.22 339,415.56 339.5,415.4 340,415.87 340.5,416.08 341,415.95 341.5,416.12 342,416.43 342.5,416.4 343,416.7 343.5,416.88 344,416.61 344.5,417.33 345,417.32 345.5,417.3 346,417.58 346.5,417.65 347,417.8 347.5,417.75 348,418.01 348.5,418.18 349,418.58 349.5,418.64 350,418.79 350.5,418.86 351,419.25 351.5,418.78 352,419.2 352.5,419.68 353,419.61 353.5,419.95 354,420.14 354.5,420 355,419.62 355.5,419.83 356,419.67 356.5,419.95 357,420.04 357.5,419.83 358,419.96 358.5,419.83 359,420.2 359.5,419.89 360,419.91 360.5,419.96 361,420.05 361.5,419.99 362,419.86 362.5,419.88 363,419.96 363.5,419.97 364,419.8 364.5,419.77 365,419.83 365.5,419.93 366,419.74 366.5,419.59 367,419.68 367.5,419.62 368,419.77 368.5,419.54 369,419.52 369.5,419.87 370,419.59 370.5,419.32 371,419.65 371.5,419.34 372,419.23 372.5,419.44 373,419.05 373.5,419.24 374,419.31 374.5,419.31 375,419.13 375.5,419.21 376,419.36 376.5,419.66 377,419.22 377.5,419.74 378,419.73 378.5,419.99 379,419.65 379.5,420.11 380,419.85 380.5,420.12 381,420.08 381.5,419.81 382,420.3 382.5,420.45 383,420.61 383.5,420.43 384,420.42 384.5,420.82 385,420.71 385.5,420.91 386,420.84 386.5,420.43 387,420.31 387.5,420.08 388,419.72 388.5,419.93 389,419.93 389.5,419.85 390,419.53 390.5,419.72 391,419.18 391.5,419.13 392,418.91 392.5,418.79 393,418.69 393.5,418.48 394,418.4 394.5,418.38 395,418.22 395.5,417.89 396,418.03 396.5,417.7 397,417.81 397.5,417.64 398,417.19 398.5,417.24 399,417.47 399.5,417.09 400,416.98 400.5,416.91 401,416.9 401.5,416.87 402,416.61 402.5,416.84 403,416.35 403.5,416.26 404,416.2 404.5,416.16 405,416.27 405.5,416.31 406,415.75 406.5,415.67 407,415.7 407.5,415.46 408,415.52 408.5,415.09 409,415.31 409.5,414.68 410,415.04 410.5,414.96 411,415.16 411.5,414.47 412,414.64 412.5,414.54 413,414.18 413.5,414.31 414,414.03 414.5,413.89 415,413.75 415.5,413.89 416,413.66 416.5,413.4 417,413.73 417.5,413.3 418,413.63 418.5,413.47 419,413.2 419.5,412.99 420,413.02 420.5,412.86 421,412.94 421.5,412.86 422,413.27 422.5,412.4 423,412.57 423.5,412.69 424,412.69 424.5,412.66 425,412.17 425.5,412.4 426,411.68 426.5,412.03 427,412.09 427.5,411.94 428,411.45 428.5,411.43 429,411.07 429.5,411.19 430,410.96 430.5,411.12 431,410.81 431.5,410.92 432,410.68 432.5,410.51 433,410.75 433.5,410.52 434,409.96 434.5,410.31 435,410.08 435.5,410.05 436,409.77 436.5,409.26 437,409.38 437.5,408.89 438,408.95 438.5,408.95 439,409.17 439.5,408.83 440,408.73 440.5,408.72 441,408.34 441.5,408.61 442,408.37 442.5,408.08 443,408.07 443.5,408.04 444,408.11 444.5,408.17 445,407.78 445.5,407.71 446,407.98 446.5,408.15 447,407.82 447.5,407.45 448,407.27 448.5,407.37 449,407.22 449.5,406.95 450,407.24 450.5,407.36 451,406.69 451.5,406.61 452,406.58 452.5,406.36 453,406.65 453.5,406.17 454,406.45 454.5,406.34 455,406.37 455.5,405.95 456,406.2 456.5,406.2 457,406.27 457.5,406.15 458,405.95 458.5,406.23 459,406.24 459.5,406.21 460,405.81 460.5,406 461,405.72 461.5,405.82 462,405.95 462.5,405.53 463,406.25 463.5,405.94 464,405.56 464.5,405.57 465,405.62 465.5,405.58 466,405.36 466.5,405.45 467,405.08 467.5,405.12 468,405.43 468.5,404.98 469,404.8 469.5,405.03 470,404.69 470.5,404.62 471,404.29 471.5,404.47 472,404.09 472.5,404.19 473,404.03 473.5,404.1 474,403.85 474.5,403.55 475,403.24 475.5,403.26 476,403.07 476.5,403.34 477,402.87 477.5,402.42 478,402.79 478.5,402.79 479,402.4 479.5,402.6 480,402.16 480.5,402.35 481,402.2 481.5,402.2 482,402.14 482.5,401.86 483,402.04 483.5,401.72 484,401.75 484.5,401.9 485,401.4 485.5,401.49 486,401.68 486.5,401.53 487,401.11 487.5,401.03 488,401.16 488.5,400.86 489,400.91 489.5,400.57 490,400.84 490.5,400.36 491,400.58 491.5,400.6 492,400.25 492.5,399.94 493,399.85 493.5,399.58 494,400.09 494.5,399.28 495,399.24 495.5,399.38 496,399.18 496.5,399.21 497,399.11 497.5,398.8 498,398.56 498.5,398.32 499,398.24 499.5,398.29 500,398.08 500.5,397.94 501,397.37 501.5,397.39 502,397.25 502.5,397.13 503,396.88 503.5,397.05 504,397.13 504.5,397.32 505,396.95 505.5,397.08 506,397.16 506.5,397.19 507,397.09 507.5,397.44 508,396.98 508.5,397.2 509,396.77 509.5,397.05 510,396.51 510.5,396.38 511,396.41 511.5,396.05 512,396.11 512.5,395.82 513,396.07 513.5,395.32 514,395.22 514.5,395.29 515,395.03 515.5,394.92 516,394.61 516.5,394.66 517,394.38 517.5,394.38 518,393.74 518.5,393.88 519,393.64 519.5,393.6 520,393.21 520.5,393.38 521,392.84 521.5,393.09 522,392.88 522.5,392.31 523,392.55 523.5,391.98 524,392.28 524.5,391.74 525,391.87 525.5,391.68 526,391.29 526.5,391.1 527,391.37 527.5,391.04 528,391.18 528.5,390.82 529,391.18 529.5,390.57 530,390.75 530.5,390.39 531,390.23 531.5,390.2 532,389.86 532.5,389.77 533,390.07 533.5,389.63 534,389.35 534.5,389.54 535,389.21 535.5,389.3 536,389.41 536.5,389.37 537,389.39 537.5,389.2 538,389.03 538.5,388.93 539,388.81 539.5,388.68 540,389.02 540.5,388.52 541,388.76 541.5,388.36 542,388.53 542.5,387.72 543,388.19 543.5,387.97 544,388.3 544.5,388.15 545,387.62 545.5,387.58 546,387.62 546.5,387.37 547,387.19 547.5,387.21 548,386.65 548.5,387.04 549,386.69 549.5,385.95 550,386.16 550.5,386.17 551,386.45 551.5,385.9 552,385.49 552.5,385.87 553,385.55 553.5,385.34 554,385.39 554.5,384.98 555,384.89 555.5,384.95 556,384.71 556.5,384.67 557,384.28 557.5,384.51 558,383.81 558.5,383.68 559,383.88 559.5,383.6 560,383.56 560.5,383.39 561,383.22 561.5,382.92 562,383.03 562.5,383.08 563,382.55 563.5,382.91 564,382.71 564.5,382.14 565,382.3 565.5,381.83 566,381.86 566.5,381.55 567,381.52 567.5,381.14 568,381.31 568.5,381.02 569,380.91 569.5,380.58 570,380.8 570.5,381 571,380.46 571.5,380.52 572,380.37 572.5,380.52 573,380.48 573.5,380.38 574,380.53 574.5,380.63 575,380.8 575.5,380.71 576,380.85 576.5,381.06 577,381.03 577.5,380.81 578,380.6 578.5,380.91 579,380.99 579.5,381.13 580,380.91 580.5,381.32 581,380.69 581.5,380.8 582,380.45 582.5,380.37 583,380.43 583.5,380.45 584,380.47 584.5,379.71 585,380.41 585.5,380.42 586,380.32 586.5,380.16 587,379.92 587.5,379.98 588,380.04 588.5,379.57 589,379.8 589.5,379.7 590,379.52 590.5,379.8 591,379.29 591.5,379.17 592,379.27 592.5,379.1 593,379.38 593.5,378.78 594,378.77 594.5,379 595,379.01 595.5,378.6 596,378.98 596.5,378.33 597,378.79 597.5,378.38 598,378.39 598.5,378.73 599,378.33 599.5,378.16 600,378.25 600.5,378.5 601,378.15 601.5,377.99 602,378.15 602.5,377.87 603,377.95 603.5,377.96 604,378.16 604.5,377.94 605,378.09 605.5,378.2 606,378.26 606.5,377.65 607,377.93 607.5,377.72 608,378.02 608.5,377.94 609,377.87 609.5,377.76 610,377.67 610.5,377.52 611,377.98 611.5,377.75 612,377.78 612.5,377.81 613,377.88 613.5,378.06 614,377.67 614.5,377.8 615,377.35 615.5,377.54 616,377.44 616.5,377.42 617,377.7 617.5,377.48 618,377.43 618.5,377.4 619,377.31 619.5,377.27 620,377.16 620.5,377.14 621,377.12 621.5,377.13 622,376.79 622.5,377.1 623,377.04 623.5,377.08 624,376.77 624.5,376.77 625,377.04 625.5,376.73 626,376.91 626.5,376.66 627,376.53 627.5,376.45 628,376.56 628.5,376.55 629,376.38 629.5,376.81 630,376.52 630.5,376.32 631,376.71 631.5,376.56 632,376.24 632.5,376.15 633,376.26 633.5,376.36 634,375.9 634.5,376.29 635,375.94 635.5,376.08 636,375.83 636.5,375.87 637,375.82 637.5,375.86 638,375.43 638.5,375.82 639,375.18 639.5,375.39 640,375.38 640.5,375.19 641,375.26 641.5,374.74 642,374.95 642.5,375.06 643,374.81 643.5,374.54 644,374.69 644.5,374.62 645,374.33 645.5,374.67 646,374.26 646.5,374.1 647,374.23 647.5,374.02 648,374.02 648.5,374.02 649,373.83 649.5,373.94 650,373.81 650.5,373.9 651,373.43 651.5,373.54 652,373.5 652.5,373.44 653,372.94 653.5,373.06 654,373.23 654.5,373.2 655,373.04 655.5,372.99 656,373.11 656.5,372.75 657,372.61 657.5,372.94 658,372.71 658.5,372.5 659,372.33 659.5,372.67 660,372.27 660.5,372.1 661,372.4 661.5,371.84 662,372 662.5,372.07 663,371.84 663.5,371.73 664,371.82 664.5,371.46 665,371.56 665.5,371.66 666,371.27 666.5,371.63 667,371.28 667.5,371.23 668,371.09 668.5,371.24 669,371.05 669.5,371.18 670,371.36 670.5,371.36 671,370.87 671.5,371.37 672,371.05 672.5,371.19 673,371.15 673.5,371.18 674,371.03 674.5,371.24 675,371.31 675.5,371.03 676,371.13 676.5,371.28 677,371.33 677.5,371.19 678,371.18 678.5,371.22 679,371.08 679.5,371.19 680,371.08 680.5,370.93 681,370.43 681.5,370.39 682,370.63 682.5,370.55 683,370.36 683.5,370.16 684,369.94 684.5,369.96 685,369.64 685.5,369.57 686,369.7 686.5,369.04 687,369.04 687.5,368.96 688,368.52 688.5,368.51 689,368.77 689.5,368.53 690,368.27 690.5,368.39 691,367.84 691.5,368.21 692,367.72 692.5,367.48 693,367.64 693.5,367.4 694,367.2 694.5,367.06 695,366.7 695.5,366.58 696,366.88 696.5,366.98 697,366.6 697.5,366.69 698,366.33 698.5,366.27 699,366.46 699.5,366.52 700,366.46 700.5,366.47 701,366.05 701.5,366.09 702,366.19 702.5,365.8 703,365.86 703.5,365.85 704,365.77 704.5,365.86 705,365.71 705.5,365.49 706,365.09 706.5,365.57 707,365.54 707.5,365.39 708,365.29 708.5,365.24 709,365.3 709.5,364.93 710,364.94 710.5,364.71 711,364.77 711.5,364.6 712,364.53 712.5,364.26 713,364.53 713.5,364.66 714,363.89 714.5,364.59 715,364.3 715.5,364.13 716,364.24 716.5,364.09 717,364.06 717.5,364.27 718,363.99 718.5,363.96 719,363.79 719.5,363.75 720,363.56 720.5,363.64 721,363.47 721.5,363.75 722,363.45 722.5,363.56 723,363.6 723.5,363.49 724,363.13 724.5,363.49 725,362.8 725.5,363.33 726,362.57 726.5,362.8 727,362.86 727.5,362.58 728,362.17 728.5,362.11 729,362.25 729.5,361.74 730,361.99 730.5,361.91 731,361.78 731.5,361.42 732,361.2 732.5,360.97 733,361.36 733.5,360.92 734,360.68 734.5,360.61 735,360.72 735.5,360.17 736,360.64 736.5,360.36 737,360.03 737.5,360.62 738,360.27 738.5,360.46 739,360.23 739.5,360.27 740,360.6 740.5,360.35 741,360.34 741.5,359.97 742,360.39 742.5,360.09 743,360.27 743.5,359.99 744,360.21 744.5,360.22 745,359.84 745.5,360.14 746,359.9 746.5,360.26 747,360.08 747.5,360 748,360.51 748.5,360.1 749,359.86 749.5,360.06 750,359.94 750.5,360.08 751,359.59 751.5,360.04 752,359.53 752.5,359.48 753,359.34 753.5,359.34 754,359.66 754.5,359.28 755,358.98 755.5,359.07 756,359.06 756.5,359.12 757,358.81 757.5,358.83 758,359.24 758.5,358.62 759,358.59 759.5,358.28 760,358.59 760.5,358.26 761,358.6 761.5,358.41 762,358.26 762.5,357.96 763,357.91 763.5,357.83 764,357.84 764.5,357.81 765,358.14 765.5,358.15 766,358.03 766.5,357.87 767,358 767.5,357.92 768,357.54 768.5,357.92 769,357.5 769.5,357.55 770,357.57 770.5,356.88 771,357.13 771.5,357.1 772,357.05 772.5,356.88 773,356.82 773.5,356.27 774,356.27 774.5,356.45 775,355.93 775.5,356.13 776,356.14 776.5,356.18 777,356.22 777.5,356.04 778,355.79 778.5,355.71 779,355.89 779.5,355.87 780,355.77 780.5,355.67 781,355.61 781.5,355.28 782,355.47 782.5,355.55 783,355.15 783.5,355.37 784,355.36 784.5,355.6 785,355.11 785.5,355.02 786,354.79 786.5,354.75 787,354.6 787.5,354.51 788,354.9 788.5,354.71 789,354.73 789.5,354.35 790,354.24 790.5,354.24 791,354.8 791.5,354.68 792,354.2 792.5,354.41 793,354.39 793.5,354.14 794,354.16 794.5,354.41 795,354.32 795.5,354.32 796,354.17 796.5,354.1 797,354.13 797.5,353.97 798,354.26 798.5,353.96 799,353.97 799.5,353.82 800,353.68 800.5,353.72 801,353.59 801.5,353.43 802,353.64 802.5,353.77 803,353.39 803.5,353.24 804,353.05 804.5,352.84 805,353.13 805.5,353.05 806,352.73 806.5,352.8 807,352.56 807.5,352.89 808,352.58 808.5,352.55 809,352.7 809.5,351.92 810,352.31 810.5,352.21 811,352.03 811.5,352.01 812,352.15 812.5,351.73 813,351.66 813.5,352 814,351.8 814.5,351.62 815,351.6 815.5,351.4 816,351.25 816.5,351.2 817,351.22 817.5,351.02 818,350.76 818.5,350.96 819,350.98 819.5,350.85 820,350.93 820.5,350.81 821,350.87 821.5,350.66 822,350.55 822.5,350.62 823,350.62 823.5,350.33 824,350.2 824.5,350.53 825,350.14 825.5,350.24 826,350.03 826.5,350.09 827,350.24 827.5,350.24 828,349.65 828.5,349.57 829,349.17 829.5,349.81 830,349.92 830.5,349.63 831,349.48 831.5,349.62 832,349.24 832.5,349.47 833,349.53 833.5,349.45 834,349.29 834.5,349.02 835,348.99 835.5,348.83 836,349.26 836.5,349.09 837,348.8 837.5,348.74 838,348.73 838.5,348.51 839,348.66 839.5,348.6 840,348.52 840.5,348.4 841,347.88 841.5,348.23 842,347.96 842.5,347.85 843,348.47 843.5,347.92 844,347.91 844.5,347.82 845,347.66 845.5,348.03 846,347.35 846.5,347.7 847,347.44 847.5,347.7 848,347.56 848.5,347.36 849,347.01 849.5,347.36 850,347.38 850.5,347.32 851,347.13 851.5,347.29 852,347.02 852.5,347.19 853,347.2 853.5,347.08 854,346.94 854.5,347.06 855,346.93 855.5,346.86 856,347.25 856.5,347.02 857,346.94 857.5,346.93 858,347.09 858.5,346.94 859,346.87 859.5,347.04 860,347.02 860.5,346.83 861,346.8 861.5,347.22 862,346.94 862.5,347.2 863,347.1 863.5,346.98 864,346.95 864.5,347.28 865,346.88 865.5,346.92 866,346.84 866.5,346.96 867,346.82 867.5,347.01 868,346.77 868.5,347.08 869,347.05 869.5,347.03 870,346.88 870.5,347.22 871,347.36 871.5,346.99 872,346.89 872.5,347.15 873,347.02 873.5,347.09 874,347.19 874.5,346.85 875,347.23 875.5,346.93 876,346.91 876.5,347.07 877,347.41 877.5,347.05 878,347.26 878.5,347.02 879,347.31 879.5,347.27 880,347.49 880.5,347.49 881,347.63 881.5,347.47 882,348.04 882.5,348.3 883,348.37 883.5,348.54 884,348.78 884.5,349.01 885,348.68 885.5,348.8 886,348.87 886.5,348.81 887,348.57 887.5,348.36 888,348.75 888.5,348.79 889,348.94 889.5,348.69 890,348.44 890.5,348.64 891,348.52 891.5,348.39 892,348.23 892.5,348.14 893,348.32 893.5,348.34 894,348.43 894.5,348.54 895,348.69 895.5,349.11 896,348.87 896.5,349.24 897,348.98 897.5,349.11 898,349.26 898.5,349.15 899,349.88 899.5,349.75 900,349.95 900.5,350.24 901,350.12 901.5,350.36 902,349.69 902.5,350.36 903,350.23 903.5,350.11 904,350.43 904.5,350.28 905,350.18 905.5,349.99 906,350.69 906.5,349.94 907,350.45 907.5,350.76 908,350.63 908.5,350.54 909,350.73 909.5,350.8 910,351.09 910.5,351.17 911,351.08 911.5,351.18 912,351.78 912.5,351.49 913,351.64 913.5,352.39 914,351.96 914.5,352.01 915,352.2 915.5,352.49 916,352.19 916.5,352.27 917,351.86 917.5,352.14 918,352.23 918.5,352.21 919,352.44 919.5,352.24 920,351.61 920.5,351.81 921,351.91 921.5,351.99 922,352.03 922.5,352.11 923,351.67 923.5,351.55 924,352.06 924.5,351.73 925,351.51 925.5,351.79 926,351.9 926.5,351.79 927,351.82 927.5,352.24 928,351.88 928.5,352.16 929,352.17 929.5,352.09 930,352.61 930.5,351.96 931,352.7 931.5,352.09 932,352.23 932.5,352.36 933,352.53 933.5,352.48 934,352.31 934.5,352.31" fill="none" stroke="#000" stroke-width="0.75" stroke-linejoin="round" />
<text x="106.2" y="435.6" font-size="9.5" fill="#ff0000">Tip increments are approx. 0.00171in. (0.0435mm.)</text>
<text x="106.2" y="445.0" font-size="9.5" fill="#0000ff">Tip increments are 0.01in. (0.254mm.)</text>
<polyline points="89,503.5 262,503.5 262,497.31 264.2,497.31 264.2,491.12 271.2,491.12 271.2,484.92 274.2,484.92 274.2,478.73 285.2,478.73 285.2,472.54 315.2,472.54 315.2,466.35 391.3,466.35 391.3,463.25 392.5,461.39 392.5,455.2 393.5,452.73 393.5,447.77 395.3,445.3 395.3,441.58 423.4,441.58 423.4,435.39 458.6,435.39 458.6,429.2 935,429.2" fill="none" stroke="#ff0000" stroke-width="0.75" stroke-linejoin="round" />
<polyline points="89,503.5 262,503.5 262,497.31 264.2,497.31 264.2,491.12 271.2,491.12 271.2,484.92 274.2,484.92 274.2,478.73 285.2,478.73 285.2,472.54 315.2,472.54 315.2,466.35 383.6,466.35" fill="none" stroke="#0000ff" stroke-width="0.75" stroke-linejoin="round" stroke-opacity="0.8"/>
<path d="M88.6,586.1 L88.6,573.3 L88.85,573.33 L89.1,573.51 L89.35,574 L89.6,574.51 L89.85,573.59 L90.1,574.18 L90.35,573.83 L90.6,573.57 L90.8,573.6 L90.85,573.67 L91.1,574.02 L91.35,575.01 L91.6,574.72 L91.8,575 L91.85,575.04 L92.1,575.23 L92.35,575.6 L92.6,576.3 L92.85,575.97 L93.1,576.19 L93.35,576.19 L93.5,576.3 L93.6,576.37 L93.85,576.59 L94.1,577.4 L94.35,577.41 L94.6,577.09 L94.85,577.65 L95.1,577.65 L95.35,577.5 L95.5,577.6 L95.6,577.71 L95.85,577.99 L96.1,579.01 L96.35,578.92 L96.6,579.26 L96.85,579.19 L97.1,579.39 L97.2,579.5 L97.35,579.81 L97.6,580.36 L97.85,580.97 L98.1,581.39 L98.35,582.22 L98.6,582.39 L98.8,582.8 L98.85,582.84 L99.1,583.06 L99.35,583.29 L99.6,583.62 L99.85,583.75 L100.1,583.98 L100.35,584.17 L100.5,584.3 L100.6,584.33 L100.85,584.49 L101.1,584.6 L101.35,584.67 L101.6,584.7 L101.85,584.85 L102.1,584.85 L102.35,584.93 L102.6,585.03 L102.85,585.12 L103.1,585.2 L103.35,585.25 L103.5,585.3 L103.6,585.32 L103.85,585.41 L104.1,585.48 L104.35,585.48 L104.6,585.52 L104.85,585.6 L105.1,585.62 L105.35,585.68 L105.6,585.76 L105.85,585.77 L106.1,585.83 L106.35,585.87 L106.6,585.93 L106.85,585.98 L107.1,586.02 L107.35,586.07 L107.5,586.1 L107.5,586.1 Z" fill="#000" stroke="#000" stroke-width="0.6"/>
<path d="M259.1,586.1 L259.1,586.2 L259.35,586.16 L259.6,586.13 L259.85,586.09 L260.1,586.05 L260.35,586.02 L260.6,585.98 L260.85,585.95 L261.1,585.93 L261.35,585.87 L261.6,585.83 L261.85,585.81 L262.1,585.79 L262.35,585.76 L262.6,585.69 L262.85,585.66 L263.1,585.64 L263.35,585.62 L263.6,585.59 L263.85,585.51 L264.1,585.5 L264.35,585.46 L264.6,585.4 L264.85,585.41 L265.1,585.32 L265.35,585.33 L265.6,585.26 L265.85,585.28 L266.1,585.25 L266.35,585.14 L266.6,585.14 L266.85,585.16 L267.1,585.08 L267.35,585.02 L267.6,584.96 L267.85,584.92 L268.1,584.93 L268.35,584.94 L268.6,584.91 L268.85,584.88 L269.1,584.8 L269.35,584.86 L269.6,584.72 L269.85,584.68 L270.1,584.75 L270.35,584.67 L270.6,584.64 L270.85,584.51 L271.1,584.44 L271.35,584.41 L271.4,584.4 L271.6,584.38 L271.85,584.44 L272.1,584.33 L272.35,584.33 L272.6,584.29 L272.85,584.29 L273.1,584.32 L273.35,584.27 L273.6,584.19 L273.85,584.22 L274.1,584.14 L274.35,584.16 L274.6,584.24 L274.85,584.14 L275.1,584.07 L275.35,584.01 L275.5,584 L275.6,584 L275.85,584.03 L276.1,584.1 L276.35,584.07 L276.6,584.07 L276.85,583.96 L277.1,584.17 L277.35,584.13 L277.6,583.94 L277.85,584.07 L278.1,583.95 L278.35,584.08 L278.6,583.96 L278.85,583.99 L279.1,583.98 L279.35,583.98 L279.6,583.97 L279.85,583.97 L280.1,583.91 L280.35,583.91 L280.6,583.83 L280.85,583.93 L281.1,583.85 L281.35,583.8 L281.6,583.96 L281.85,583.91 L282.1,583.82 L282.35,583.89 L282.6,584.04 L282.85,583.76 L283.1,583.9 L283.35,584.02 L283.6,583.73 L283.85,583.73 L284.1,583.71 L284.35,583.7 L284.4,583.7 L284.6,583.5 L284.85,583.27 L285.1,583.01 L285.35,582.75 L285.6,582.5 L285.8,582.3 L285.85,582.27 L286.1,582.41 L286.35,582.03 L286.6,581.86 L286.85,581.77 L287.1,581.59 L287.35,581.59 L287.6,581.13 L287.8,581 L287.85,581.01 L288.1,581.62 L288.35,581.37 L288.6,581.56 L288.85,581.23 L289.1,581.78 L289.35,581.76 L289.6,581.53 L289.85,581.46 L290.1,581.64 L290.35,581.83 L290.6,581.73 L290.85,581.8 L291.1,581.68 L291.2,581.7 L291.35,581.6 L291.6,581.82 L291.85,581.29 L292.1,581.53 L292.35,581.19 L292.6,580.84 L292.85,581.09 L293.1,580.43 L293.3,580.3 L293.35,580.28 L293.6,580.87 L293.85,580.17 L294.1,580.19 L294.35,580 L294.6,580.11 L294.85,580.3 L295.1,580.23 L295.35,579.9 L295.6,579.83 L295.85,579.36 L296,579.3 L296.1,579.35 L296.35,579.49 L296.6,579.62 L296.85,580 L297.1,580.12 L297.35,579.94 L297.6,580.11 L297.85,580.18 L298.1,580.3 L298.35,580.3 L298.6,580.5 L298.85,580.3 L299.1,580.46 L299.35,580.99 L299.6,580.32 L299.85,580.3 L300.1,580.3 L300.35,580.13 L300.6,580.45 L300.85,579.94 L301.1,579.63 L301.35,579.96 L301.6,579.99 L301.85,579.38 L302.1,578.97 L302.2,578.9 L302.35,578.83 L302.6,578.97 L302.85,579.15 L303.1,578.51 L303.35,578.6 L303.6,578.29 L303.85,578.46 L304.1,578.31 L304.35,578.18 L304.6,577.91 L304.85,577.76 L305.1,578.42 L305.35,578.43 L305.6,577.72 L305.85,578.26 L306.1,577.19 L306.3,577.1 L306.35,577.13 L306.6,577.26 L306.85,577.51 L307.1,577.7 L307.35,578.15 L307.6,577.87 L307.85,578.05 L308.1,578.59 L308.35,578.4 L308.6,578.64 L308.85,578.42 L309,578.5 L309.1,578.58 L309.35,579.04 L309.6,579.61 L309.85,579.28 L310.1,579.36 L310.35,579.56 L310.4,579.6 L310.6,579.12 L310.85,579.14 L311.1,578.57 L311.35,577.65 L311.6,576.77 L311.85,576.4 L312.1,575.52 L312.35,574.92 L312.4,574.8 L312.6,574.58 L312.85,574.64 L313.1,574.14 L313.35,574.77 L313.6,574.69 L313.85,573.71 L314.1,573.23 L314.35,572.66 L314.5,572.5 L314.6,572.5 L314.85,572.63 L315.1,572.69 L315.35,572.61 L315.6,573.28 L315.85,573.11 L316.1,573.71 L316.35,572.5 L316.5,572.5 L316.6,572.77 L316.85,573.97 L317.1,575.18 L317.35,575.29 L317.6,575.57 L317.85,576.79 L318.1,576.98 L318.35,577.52 L318.6,578.2 L318.85,577.69 L319.1,577.4 L319.35,576.91 L319.6,576.64 L319.85,576.69 L320.1,575.45 L320.35,574.61 L320.6,574.1 L320.85,573.78 L321.1,573.47 L321.35,573.62 L321.6,572.84 L321.85,572.49 L322.1,572.21 L322.35,573.5 L322.6,571.53 L322.7,571.4 L322.85,571.86 L323.1,573.26 L323.35,573.57 L323.6,574.78 L323.85,575.02 L324.1,576.05 L324.35,576.44 L324.5,576.9 L324.6,576.74 L324.85,576.65 L325.1,576.03 L325.35,575.54 L325.6,575.9 L325.85,574.76 L326.1,575.61 L326.35,574.32 L326.6,573.74 L326.85,573.14 L327.1,572.74 L327.35,572.34 L327.5,572.1 L327.6,572.06 L327.85,573.21 L328.1,572.03 L328.35,572.26 L328.6,571.73 L328.85,571.82 L329.1,572.43 L329.35,571.75 L329.6,571.45 L329.85,571.68 L330.1,571.14 L330.2,571.1 L330.35,571.16 L330.6,572.67 L330.85,571.36 L331.1,572.43 L331.35,571.87 L331.6,572.1 L331.85,571.83 L332.1,571.92 L332.35,571.94 L332.6,571.99 L332.85,572.08 L332.9,572.1 L333.1,572.23 L333.35,572.79 L333.6,574.09 L333.85,573.13 L334.1,573.37 L334.35,573.5 L334.6,573.26 L334.85,573.81 L335.1,573.59 L335.35,574.66 L335.6,574.77 L335.85,574.9 L336.1,574.28 L336.35,574.64 L336.6,574.55 L336.85,574.7 L337,574.8 L337.1,574.89 L337.35,575.5 L337.6,575.4 L337.85,575.99 L338.1,575.99 L338.35,576.55 L338.6,577.18 L338.85,576.47 L339.1,576.77 L339.35,577.75 L339.6,577.16 L339.85,577.71 L340.1,578.53 L340.35,577.87 L340.6,578.83 L340.85,578.27 L341.1,578.5 L341.35,578.53 L341.6,578.56 L341.85,579.24 L342.1,579.23 L342.35,578.65 L342.6,578.88 L342.85,579.46 L343.1,578.84 L343.35,578.93 L343.6,578.88 L343.85,578.82 L344.1,578.86 L344.35,579.26 L344.6,578.97 L344.85,579.72 L345.1,579.66 L345.35,579.44 L345.6,579.23 L345.85,579.54 L346.1,579.08 L346.35,579.86 L346.6,579.93 L346.85,579.46 L347.1,579.46 L347.35,579.68 L347.6,579.25 L347.85,579.28 L348,579.3 L348.1,579.32 L348.35,579.54 L348.6,580.13 L348.85,579.78 L349.1,579.62 L349.35,579.82 L349.6,580.22 L349.85,579.77 L350.1,580.51 L350.35,579.89 L350.6,579.95 L350.85,580 L351.1,580.63 L351.35,580.39 L351.6,580.48 L351.85,580.24 L352.1,580.3 L352.35,580.46 L352.6,580.65 L352.85,581 L353.1,581.23 L353.35,581.29 L353.6,581.37 L353.85,581.49 L354.1,581.87 L354.35,581.8 L354.6,582.38 L354.85,582.23 L355.1,582.41 L355.35,582.76 L355.6,582.61 L355.85,583.11 L356.1,582.93 L356.2,583 L356.35,583.04 L356.6,583.33 L356.85,583.17 L357.1,583.43 L357.35,583.48 L357.6,583.37 L357.85,583.43 L358.1,583.5 L358.35,583.71 L358.6,583.68 L358.85,583.96 L359.1,583.76 L359.35,584.07 L359.6,584.13 L359.85,583.97 L360.1,584.01 L360.35,584.24 L360.6,584.24 L360.85,584.32 L361.1,584.28 L361.35,584.34 L361.6,584.4 L361.85,584.42 L362.1,584.44 L362.35,584.58 L362.6,584.48 L362.85,584.51 L363.1,584.57 L363.35,584.68 L363.6,584.6 L363.85,584.62 L364.1,584.69 L364.35,584.69 L364.6,584.75 L364.85,584.65 L365.1,584.81 L365.35,584.83 L365.6,584.78 L365.85,584.71 L366.1,584.75 L366.35,584.85 L366.6,584.77 L366.85,584.78 L367.1,584.8 L367.35,584.82 L367.6,584.88 L367.85,584.87 L368.1,584.96 L368.35,584.88 L368.6,585.01 L368.85,584.93 L369.1,585 L369.35,584.95 L369.6,584.96 L369.85,584.98 L370.1,585 L370.35,585.01 L370.6,585.07 L370.85,585.09 L371.1,585.16 L371.35,585.12 L371.6,585.12 L371.85,585.11 L372.1,585.12 L372.35,585.18 L372.6,585.15 L372.85,585.28 L373.1,585.23 L373.35,585.2 L373.6,585.23 L373.85,585.23 L374.1,585.25 L374.35,585.28 L374.6,585.36 L374.85,585.29 L375.1,585.4 L375.35,585.34 L375.6,585.35 L375.85,585.43 L376.1,585.38 L376.35,585.39 L376.6,585.47 L376.85,585.49 L377.1,585.48 L377.35,585.5 L377.6,585.48 L377.85,585.48 L378.1,585.5 L378.35,585.52 L378.6,585.55 L378.85,585.59 L379.1,585.62 L379.35,585.62 L379.6,585.64 L379.85,585.66 L380.1,585.7 L380.35,585.71 L380.6,585.74 L380.85,585.77 L381.1,585.78 L381.35,585.83 L381.6,585.83 L381.85,585.85 L382.1,585.88 L382.35,585.92 L382.6,585.92 L382.85,585.95 L383.1,585.97 L383.35,585.99 L383.6,586.02 L383.85,586.04 L384.1,586.06 L384.35,586.08 L384.6,586.11 L384.85,586.13 L385.1,586.15 L385.35,586.18 L385.6,586.2 L385.6,586.1 Z" fill="#000" stroke="#000" stroke-width="0.6"/>
<path d="M539.7,586.1 L539.7,586.2 L539.95,586.15 L540.2,586.09 L540.45,586.04 L540.7,586.01 L540.95,585.96 L541.2,585.89 L541.45,585.83 L541.7,585.81 L541.95,585.73 L542.2,585.67 L542.45,585.7 L542.7,585.66 L542.95,585.51 L543.2,585.45 L543.45,585.51 L543.7,585.49 L543.95,585.29 L544.2,585.28 L544.45,585.31 L544.7,585.16 L544.95,585.27 L545.2,585.02 L545.45,585.07 L545.7,584.93 L545.95,585.05 L546.2,584.81 L546.45,584.75 L546.7,584.7 L546.95,584.62 L547.2,584.54 L547.45,584.79 L547.7,584.59 L547.95,584.28 L548.2,584.62 L548.45,584.12 L548.7,584.11 L548.95,584.02 L549.2,584.25 L549.45,584.17 L549.7,583.69 L549.95,584.14 L550.2,583.53 L550.45,583.84 L550.7,583.36 L550.95,583.4 L551.2,583.19 L551.45,583.49 L551.7,583.15 L551.95,583.22 L552.2,583.81 L552.45,582.75 L552.6,582.7 L552.7,582.67 L552.95,582.93 L553.2,582.63 L553.45,582.43 L553.7,582.48 L553.95,582.35 L554.2,582.22 L554.45,582.13 L554.7,582.03 L554.95,582.82 L555.2,582.11 L555.45,582.46 L555.7,582.49 L555.95,582.59 L556.2,581.99 L556.45,582.44 L556.7,581.38 L556.95,581.33 L557.2,581.81 L557.45,581.32 L557.7,581.08 L557.95,581.16 L558.2,580.87 L558.4,580.8 L558.45,580.78 L558.7,581.96 L558.95,580.62 L559.2,581.72 L559.45,581.5 L559.7,580.26 L559.95,581.15 L560.2,581.14 L560.45,581.03 L560.7,579.75 L560.8,579.7 L560.95,579.29 L561.2,578.76 L561.45,578.54 L561.7,579.52 L561.95,576.58 L562.2,575.9 L562.45,576.48 L562.7,578.08 L562.95,578.42 L563.2,578.34 L563.45,578.82 L563.7,579.4 L563.95,579.35 L564.2,579.3 L564.45,581.2 L564.7,579.2 L564.95,580.51 L565.2,579.91 L565.45,580.51 L565.7,579.62 L565.95,579.6 L566.2,578.99 L566.45,578.83 L566.6,578.8 L566.7,578.78 L566.95,580.62 L567.2,578.8 L567.45,579.53 L567.7,580.45 L567.95,580.04 L568.2,578.66 L568.45,579.11 L568.7,579.79 L568.95,580.52 L569.2,579.5 L569.45,580.18 L569.7,578.73 L569.95,578.03 L570.1,578 L570.2,577.86 L570.45,577.84 L570.7,579.67 L570.95,579.41 L571.2,579.02 L571.45,576.66 L571.7,578.63 L571.95,576.78 L572.2,575.11 L572.45,574.77 L572.5,574.7 L572.7,574.4 L572.95,577.3 L573.2,574.28 L573.45,573.81 L573.7,572.9 L573.95,573.47 L574.2,574.05 L574.45,575.42 L574.7,571.35 L574.8,571.2 L574.95,571.2 L575.2,571.25 L575.45,571.79 L575.7,572.27 L575.95,575.21 L576.2,572.82 L576.45,574.62 L576.7,574.83 L576.95,571.2 L577.2,571.2 L577.45,570.12 L577.7,572.45 L577.95,571.45 L578.2,567.49 L578.45,566.08 L578.7,565.2 L578.95,568.49 L579.2,562.59 L579.45,561.52 L579.5,561.3 L579.7,562.28 L579.95,563.5 L580.2,565 L580.45,570.87 L580.7,568.7 L580.95,569.02 L581.2,569.61 L581.3,570.1 L581.45,569.78 L581.7,570.76 L581.95,568.74 L582.2,568.33 L582.45,568.05 L582.7,567.14 L582.95,566.61 L583,566.5 L583.2,565.28 L583.45,563.84 L583.7,567.19 L583.95,563.41 L584.2,560.34 L584.45,557.71 L584.7,556.47 L584.95,554.61 L585.1,553.7 L585.2,554.36 L585.45,558.25 L585.7,559.32 L585.95,563.99 L586.2,561.01 L586.45,562.67 L586.5,563 L586.7,561.68 L586.95,563.35 L587.2,559.74 L587.45,557.3 L587.7,555.18 L587.95,554.36 L588.2,553.17 L588.45,552.24 L588.7,548.52 L588.9,547.2 L588.95,547.97 L589.2,552.12 L589.45,556.93 L589.7,559.56 L589.95,563.43 L590,564.2 L590.2,564.07 L590.45,563.9 L590.7,563.88 L590.95,563.62 L591.2,563.59 L591.45,564.38 L591.7,563.07 L591.8,563 L591.95,563.36 L592.2,564.03 L592.45,568.93 L592.7,567.93 L592.95,569.97 L593.2,566.38 L593.45,566.98 L593.5,567.1 L593.7,566.67 L593.95,566.76 L594.2,569.25 L594.45,566.17 L594.7,564.57 L594.95,566.6 L595.2,570.13 L595.45,565.95 L595.7,562.33 L595.9,561.9 L595.95,561.93 L596.2,562.75 L596.45,568.61 L596.7,562.58 L596.95,562.58 L597.2,564.74 L597.45,562.9 L597.6,563 L597.7,562.52 L597.95,561.94 L598.2,560.54 L598.45,562.63 L598.7,565.74 L598.95,558.04 L599.2,555.27 L599.4,554.3 L599.45,554.54 L599.7,558.39 L599.95,560.63 L600.2,560 L600.45,559.38 L600.7,561.73 L600.95,561.79 L601.2,563 L601.45,563.1 L601.7,564.04 L601.95,567.97 L602.2,567.4 L602.45,566.8 L602.7,565.16 L602.95,563.76 L603.2,568.29 L603.45,563.94 L603.7,565.01 L603.95,564.14 L604.1,564.2 L604.2,564.15 L604.45,566.65 L604.7,569.7 L604.95,567.76 L605.2,565.61 L605.45,564.43 L605.7,563.45 L605.95,567.98 L606.2,563.1 L606.4,563 L606.45,563.04 L606.7,563.23 L606.95,563.48 L607.2,566.03 L607.45,570.46 L607.7,569.76 L607.95,566.87 L608.2,564.43 L608.45,566.5 L608.7,564.73 L608.8,564.8 L608.95,565.09 L609.2,569.29 L609.45,567.66 L609.7,569.88 L609.95,567.76 L610.2,568.74 L610.45,569.56 L610.7,568.51 L610.9,568.9 L610.95,568.7 L611.2,569.98 L611.45,566.97 L611.7,571.74 L611.95,565.39 L612.2,566.06 L612.45,568.7 L612.7,564.99 L612.95,560.52 L613.2,559.5 L613.45,558.91 L613.7,559.97 L613.95,561.85 L614.2,559.19 L614.45,557.22 L614.7,558.52 L614.95,555.39 L615.2,554.8 L615.45,551.97 L615.7,549.13 L615.8,548 L615.95,529.25 L616.1,510.5 L616.2,523 L616.4,548 L616.45,548.13 L616.7,548.75 L616.8,549 L616.95,549.72 L617.2,559.17 L617.45,554.65 L617.7,558.08 L617.95,558.24 L618.2,555.75 L618.45,556.96 L618.5,557.2 L618.7,556.65 L618.95,561.3 L619.2,555.47 L619.45,554.62 L619.7,560.87 L619.95,553.19 L620.2,552.5 L620.45,548.48 L620.7,544.66 L620.95,546.55 L621.2,536.78 L621.45,532.41 L621.6,530 L621.7,526.85 L621.95,518.97 L622,517.4 L622.2,517.72 L622.45,518.13 L622.7,522.07 L622.95,534.01 L623.2,524.29 L623.45,520.43 L623.7,525.42 L623.95,537.7 L624.2,525.12 L624.45,525.82 L624.7,521.68 L624.9,522 L624.95,521.87 L625.2,524.27 L625.45,522.46 L625.7,525.9 L625.95,531.51 L626.2,522.06 L626.45,518.04 L626.7,517.4 L626.95,534.95 L627.2,552.5 L627.45,550.54 L627.7,553.87 L627.95,546.63 L628.2,544.67 L628.4,543.1 L628.45,542.25 L628.7,538.23 L628.95,533.96 L629.2,529.58 L629.4,526.2 L629.45,527.31 L629.7,546.11 L629.95,552.23 L630.2,547.27 L630.45,549.86 L630.7,554.99 L630.8,557.2 L630.95,557.4 L631.2,558.09 L631.45,564.62 L631.7,563.31 L631.95,561.01 L632.2,559.09 L632.45,559.43 L632.5,559.5 L632.7,556.83 L632.95,561.27 L633.2,551.88 L633.45,552.6 L633.7,545.11 L633.95,546.29 L634.2,536.83 L634.3,535.5 L634.45,536.69 L634.7,542.16 L634.95,540.77 L635.2,542.67 L635.45,544.62 L635.7,546.6 L635.95,545.87 L636.2,547.61 L636.45,544.52 L636.7,543.68 L636.9,543.1 L636.95,543.74 L637.2,546.96 L637.45,558.79 L637.7,553.35 L637.95,556.56 L638,557.2 L638.2,555.73 L638.45,562.35 L638.7,559.78 L638.95,550.23 L639.2,548.4 L639.45,549.08 L639.7,550.97 L639.95,551.02 L640.2,560.4 L640.45,551.82 L640.7,552.5 L640.95,554.94 L641.2,559.52 L641.45,561.22 L641.7,562.25 L641.9,564.2 L641.95,563.81 L642.2,562.36 L642.45,562.31 L642.7,559.34 L642.95,555.97 L643.1,554.8 L643.2,555.01 L643.45,560.76 L643.7,564.32 L643.95,563.91 L644.2,563.92 L644.45,557.68 L644.7,558.19 L644.8,558.4 L644.95,559.08 L645.2,560.44 L645.45,561.35 L645.7,568.59 L645.95,565.96 L646.2,565.36 L646.45,565.83 L646.6,566.5 L646.7,566.47 L646.95,568.86 L647.2,567.68 L647.45,566.85 L647.7,567.48 L647.95,566.94 L648.2,566.03 L648.3,566 L648.45,566.34 L648.7,566.91 L648.95,569.15 L649.2,572.14 L649.45,568.95 L649.7,569.77 L649.95,569.76 L650.1,570.1 L650.2,570.44 L650.45,572.99 L650.7,574.77 L650.95,576.13 L651.2,576.45 L651.45,574.82 L651.7,575.56 L651.8,575.9 L651.95,575.9 L652.2,575.91 L652.45,576.97 L652.7,576.46 L652.95,577.4 L653.2,576.96 L653.45,575.96 L653.7,577.42 L653.95,575.9 L654.2,575.9 L654.45,576.28 L654.7,579.01 L654.95,578.44 L655.2,579.73 L655.45,577.86 L655.7,578.2 L655.95,579.08 L656.2,578.94 L656.45,579.32 L656.5,579.4 L656.7,579.6 L656.95,580.87 L657.2,580.4 L657.45,580.78 L657.7,580.64 L657.95,581.48 L658.2,581.82 L658.45,581.52 L658.7,581.6 L658.9,581.8 L658.95,581.85 L659.2,582.13 L659.45,582.35 L659.7,583.45 L659.95,583.74 L660.2,583.12 L660.45,583.9 L660.7,583.85 L660.95,583.85 L661.2,584.1 L661.45,584.16 L661.7,584.3 L661.95,584.37 L662.2,584.76 L662.45,584.46 L662.7,584.5 L662.95,585.01 L663.2,584.65 L663.45,584.68 L663.7,584.77 L663.95,585.05 L664.2,585.09 L664.45,585.21 L664.7,585.26 L664.95,585.37 L665.2,585.15 L665.45,585.2 L665.7,585.25 L665.9,585.3 L665.95,585.31 L666.2,585.37 L666.45,585.39 L666.7,585.62 L666.95,585.54 L667.2,585.57 L667.45,585.55 L667.7,585.58 L667.95,585.64 L668.2,585.76 L668.45,585.78 L668.7,585.74 L668.95,585.77 L669.2,585.84 L669.45,585.89 L669.7,585.94 L669.95,585.95 L670.2,585.97 L670.45,586.01 L670.7,586.05 L670.95,586.08 L671.2,586.12 L671.45,586.16 L671.7,586.2 L671.7,586.1 Z" fill="#000" stroke="#000" stroke-width="0.6"/>
<path d="M821.4,586.1 L821.4,586.2 L821.65,586.15 L821.9,586.11 L822.15,586.06 L822.4,586.02 L822.65,585.98 L822.9,585.96 L823.15,585.94 L823.4,585.87 L823.65,585.79 L823.9,585.82 L824.15,585.77 L824.4,585.71 L824.65,585.7 L824.9,585.55 L825.15,585.59 L825.4,585.51 L825.65,585.62 L825.9,585.57 L826.15,585.37 L826.4,585.45 L826.65,585.37 L826.9,585.34 L827.15,585.17 L827.4,585.25 L827.65,585.05 L827.9,585 L828.15,584.52 L828.4,584.08 L828.65,583.57 L828.9,583.79 L829.15,583.26 L829.4,582.85 L829.65,582.53 L829.9,582.45 L830.15,580.7 L830.2,580.6 L830.4,580.2 L830.65,579.98 L830.9,580.11 L831.15,578.99 L831.4,580.26 L831.65,577.75 L831.9,577.28 L832.15,578.89 L832.4,576.39 L832.65,576.1 L832.9,575.87 L833.15,576.5 L833.4,577.14 L833.65,573.7 L833.7,573.6 L833.9,573.13 L834.15,572.95 L834.4,571.97 L834.65,571.36 L834.9,573.96 L835.15,571.49 L835.4,569.87 L835.65,569.01 L835.9,573.41 L836.15,571.26 L836.4,570.43 L836.65,566.62 L836.7,566.5 L836.9,565.89 L837.15,567.86 L837.4,566.93 L837.65,563.69 L837.9,568.01 L838.15,564.6 L838.4,563.71 L838.65,563.73 L838.9,559.8 L839,559.5 L839.15,559.21 L839.4,562.68 L839.65,561.42 L839.9,565.94 L840.15,561.22 L840.4,557.23 L840.65,556.29 L840.8,556 L840.9,556.34 L841.15,562.31 L841.4,560.24 L841.65,558.86 L841.9,565.11 L842.15,560.53 L842.2,560.7 L842.4,561.34 L842.65,562.87 L842.9,567.9 L843.15,563.72 L843.3,564.2 L843.4,564.78 L843.65,569.89 L843.9,568.24 L844.15,569.13 L844.3,570 L844.4,569.79 L844.65,569.46 L844.9,572.99 L845.15,568.22 L845.4,567.7 L845.65,565.99 L845.9,564.37 L846.15,564.14 L846.4,560.87 L846.6,559.5 L846.65,559.89 L846.9,561.85 L847.15,566.64 L847.4,566.24 L847.65,567.73 L847.8,568.9 L847.9,568.21 L848.15,566.64 L848.4,565.47 L848.65,564.08 L848.9,563.16 L849.15,563.74 L849.4,557.89 L849.5,557.2 L849.65,556.15 L849.9,558.79 L850.15,552.73 L850.4,554.51 L850.65,556.87 L850.9,548.03 L851.15,548.49 L851.4,551.8 L851.65,543.09 L851.9,547.26 L852.15,540.96 L852.4,536.8 L852.5,536.1 L852.65,537.96 L852.9,546.97 L853.15,552.08 L853.4,547.68 L853.65,550.44 L853.9,556.16 L854.15,556.58 L854.2,557.2 L854.4,556.02 L854.65,554.59 L854.9,557.03 L855.15,558.99 L855.4,557.1 L855.65,554.51 L855.9,547.19 L856,546.6 L856.15,546.03 L856.4,552.59 L856.65,544.2 L856.9,543.19 L857.15,542.19 L857.2,542 L857.4,544.33 L857.65,557.34 L857.9,550.24 L858.15,553.05 L858.3,554.8 L858.4,554.28 L858.65,560.92 L858.9,557.01 L859.15,552.04 L859.4,556.43 L859.65,549.94 L859.9,546.53 L860.1,545.5 L860.15,545.64 L860.4,546.33 L860.65,547.51 L860.9,548.02 L861.15,550.23 L861.4,549.99 L861.65,549.79 L861.8,550.2 L861.9,550.88 L862.15,555.52 L862.4,554.62 L862.65,556.07 L862.9,557.72 L863,558.4 L863.15,558.01 L863.4,565.89 L863.65,558.26 L863.9,563.47 L864.15,555.49 L864.4,554.74 L864.65,554.09 L864.8,553.7 L864.9,553.63 L865.15,555.76 L865.4,560.17 L865.65,558.46 L865.9,555.72 L866.15,552.79 L866.4,552.57 L866.5,552.5 L866.65,551.43 L866.9,552.89 L867.15,549.14 L867.4,547.04 L867.65,547.28 L867.9,543.44 L868.15,540.67 L868.3,539.6 L868.4,540.01 L868.65,543.16 L868.9,544.25 L869.15,546.74 L869.4,545.4 L869.65,551.58 L869.9,546.19 L870,546.6 L870.15,545.03 L870.4,546.65 L870.65,547.21 L870.9,537.15 L871,536.1 L871.15,537.11 L871.4,540.97 L871.65,544.15 L871.9,544.57 L872.15,543.82 L872.4,545.5 L872.65,542.82 L872.9,543.94 L873.15,551.27 L873.4,534.81 L873.65,535.71 L873.9,529.44 L874.1,527.3 L874.15,527.64 L874.4,529.35 L874.65,540.38 L874.9,535.63 L875.15,534.83 L875.4,536.91 L875.65,537.89 L875.9,539.6 L876.15,539.93 L876.4,541.06 L876.65,540.6 L876.8,540.8 L876.9,540.39 L877.15,544.7 L877.4,548.52 L877.65,548.21 L877.9,540.75 L878.15,546.42 L878.4,534.21 L878.5,533.8 L878.65,533.7 L878.9,535.23 L879.15,543.22 L879.4,538.61 L879.65,537.43 L879.9,534.68 L880.15,532.7 L880.3,532.6 L880.4,532.92 L880.65,533.71 L880.9,534.69 L881.15,535.3 L881.4,536.1 L881.65,534.14 L881.9,539.05 L882.15,531.43 L882.4,528.27 L882.6,526.7 L882.65,526.49 L882.9,525.42 L883.15,529 L883.4,523.35 L883.65,524.42 L883.9,521.15 L884.1,520.3 L884.15,520.81 L884.4,523.37 L884.65,538.89 L884.9,529.65 L885.15,531.06 L885.3,532.6 L885.4,532.22 L885.65,535.53 L885.9,539.44 L886.15,530.76 L886.4,530.85 L886.65,527.49 L886.7,527.3 L886.9,527.89 L887.15,530.48 L887.4,529.65 L887.65,542.49 L887.9,530.81 L888.1,531.4 L888.15,531.36 L888.4,531.16 L888.65,544.05 L888.9,543.69 L889.15,536.05 L889.4,530.36 L889.6,530.2 L889.65,530.15 L889.9,529.92 L890.15,531.67 L890.4,535.06 L890.65,529.26 L890.9,529.71 L891.15,528.74 L891.4,528.5 L891.65,528.84 L891.9,545.63 L892.15,532.92 L892.4,529.89 L892.65,537.76 L892.9,530.53 L893.1,530.8 L893.15,530.83 L893.4,531 L893.65,539.44 L893.9,547.01 L894.15,531.57 L894.4,540.73 L894.65,531.83 L894.9,532 L895.15,532.08 L895.4,533.49 L895.65,534.67 L895.9,532.64 L896.15,532.47 L896.4,540.4 L896.65,532.58 L896.7,532.6 L896.9,532.74 L897.15,532.92 L897.4,538.8 L897.65,537.61 L897.9,536.49 L898.15,533.62 L898.4,533.8 L898.65,533.95 L898.9,535.89 L899.15,535.39 L899.4,537.17 L899.65,535.78 L899.9,536.93 L900.15,534.87 L900.2,534.9 L900.4,534.35 L900.65,533.89 L900.9,533.83 L901.15,542.88 L901.4,534.09 L901.65,530.94 L901.7,530.8 L901.9,531.56 L902.15,544.62 L902.4,533.5 L902.65,535.41 L902.9,535.34 L903.1,536.1 L903.15,536.07 L903.4,535.9 L903.65,536.04 L903.9,546.41 L904.15,537.76 L904.4,536.92 L904.65,535.07 L904.9,534.9 L905.15,534.05 L905.4,534.06 L905.65,532.94 L905.9,531.71 L906.15,544.32 L906.4,529.78 L906.6,529.1 L906.65,529.64 L906.9,532.32 L907.15,535.7 L907.4,540.16 L907.65,540.39 L907.8,542 L907.9,543.07 L908.15,545.8 L908.4,550.38 L908.65,551.45 L908.9,553.73 L909,554.8 L909.15,553.05 L909.4,550.22 L909.65,548.92 L909.9,544.33 L910.1,542 L910.15,542.05 L910.4,542.28 L910.65,543.03 L910.9,543.02 L911.15,545.29 L911.4,555.39 L911.65,543.46 L911.9,543.7 L912.15,543.96 L912.4,548.59 L912.65,544.91 L912.9,545.54 L913.15,545.41 L913.4,545.29 L913.6,545.5 L913.65,545.52 L913.9,545.6 L914.15,546.16 L914.4,547.08 L914.65,546.43 L914.9,551.71 L915.15,546.02 L915.4,546.1 L915.65,547.39 L915.9,558.4 L916.15,552.29 L916.4,551.51 L916.65,553.5 L916.9,556.46 L917.15,555.14 L917.2,555.4 L917.4,555.54 L917.65,559.2 L917.9,556.94 L918.15,562.55 L918.4,559.53 L918.65,556.42 L918.9,556.6 L919.15,556.85 L919.4,559.89 L919.65,558.67 L919.9,560.42 L920.15,558.01 L920.4,558.65 L920.65,558.35 L920.7,558.4 L920.9,558.47 L921.15,559.86 L921.4,559.93 L921.65,559.9 L921.9,564.19 L922.15,558.91 L922.4,559 L922.65,559.56 L922.9,562.5 L923.15,566.69 L923.4,567.93 L923.65,561.79 L923.9,563.5 L924.15,562.89 L924.2,563 L924.4,563.35 L924.65,564.71 L924.9,566.66 L925.15,568.57 L925.4,567.76 L925.65,565.56 L925.9,566 L926.15,566.4 L926.4,566.88 L926.65,569.39 L926.9,567.62 L927.15,568.94 L927.4,569.06 L927.65,568.82 L927.7,568.9 L927.9,568.42 L928.15,570.13 L928.4,569.63 L928.65,566.6 L928.9,566 L929.15,566 L929.4,568.15 L929.65,567.74 L929.9,569.51 L930.15,566.38 L930.4,566 L930.6,566 L930.65,566.03 L930.9,566.18 L931.15,567.05 L931.4,572.27 L931.65,567.28 L931.9,566.89 L932.15,566.95 L932.4,567.1 L932.65,567.76 L932.9,569.02 L933.15,569.21 L933.4,569.74 L933.5,570 L933.65,571.04 L933.9,572.77 L934.15,575.04 L934.4,578.42 L934.65,577.95 L934.7,578.3 L934.9,581.42 L935.15,585.32 L935.2,586.1 L935.2,586.1 Z" fill="#000" stroke="#000" stroke-width="0.6"/>
<text x="172" y="517.9" text-anchor="middle" font-size="9.5" fill="#a020f0">Sum of previous day</text>
<text x="172" y="528.9" text-anchor="middle" font-size="9.5" fill="#a020f0">&lt;--- 7.36 MJoules/m^2</text>
<text x="454" y="517.9" text-anchor="middle" font-size="9.5" fill="#a020f0">Sum of previous day</text>
<text x="454" y="528.9" text-anchor="middle" font-size="9.5" fill="#a020f0">&lt;--- 1.71 MJoules/m^2</text>
<text x="736" y="517.9" text-anchor="middle" font-size="9.5" fill="#a020f0">Sum of previous day</text>
<text x="736" y="528.9" text-anchor="middle" font-size="9.5" fill="#a020f0">&lt;--- 6.52 MJoules/m^2</text>
<line x1="171.6" y1="509.22" x2="171.6" y2="511.82" stroke="#000" stroke-width="0.75"/>
<line x1="453.6" y1="509.22" x2="453.6" y2="511.82" stroke="#000" stroke-width="0.75"/>
<line x1="735.6" y1="509.22" x2="735.6" y2="511.82" stroke="#000" stroke-width="0.75"/>
<line x1="328.5" y1="509.22" x2="328.5" y2="511.82" stroke="#000" stroke-width="0.75"/>
<text x="328.5" y="517.4" text-anchor="middle" font-size="9.5" fill="#a020f0">1</text>
<line x1="585.5" y1="509.22" x2="585.5" y2="511.82" stroke="#000" stroke-width="0.75"/>
<text x="585.5" y="517.4" text-anchor="middle" font-size="9.5" fill="#a020f0">1</text>
<line x1="600.3" y1="509.22" x2="600.3" y2="511.82" stroke="#000" stroke-width="0.75"/>
<text x="600.3" y="517.4" text-anchor="middle" font-size="9.5" fill="#a020f0">2</text>
<line x1="616.4" y1="509.22" x2="616.4" y2="511.82" stroke="#000" stroke-width="0.75"/>
<text x="616.4" y="517.4" text-anchor="middle" font-size="9.5" fill="#a020f0">3</text>
<line x1="624.2" y1="509.22" x2="624.2" y2="511.82" stroke="#000" stroke-width="0.75"/>
<line x1="632.3" y1="509.22" x2="632.3" y2="511.82" stroke="#000" stroke-width="0.75"/>
<text x="632.3" y="517.4" text-anchor="middle" font-size="9.5" fill="#a020f0">5</text>
<line x1="644.2" y1="509.22" x2="644.2" y2="511.82" stroke="#000" stroke-width="0.75"/>
<line x1="849.5" y1="509.22" x2="849.5" y2="511.82" stroke="#000" stroke-width="0.75"/>
<text x="849.5" y="517.4" text-anchor="middle" font-size="9.5" fill="#a020f0">1</text>
<line x1="860.5" y1="509.22" x2="860.5" y2="511.82" stroke="#000" stroke-width="0.75"/>
<line x1="871.5" y1="509.22" x2="871.5" y2="511.82" stroke="#000" stroke-width="0.75"/>
<text x="871.5" y="517.4" text-anchor="middle" font-size="9.5" fill="#a020f0">3</text>
<line x1="879" y1="509.22" x2="879" y2="511.82" stroke="#000" stroke-width="0.75"/>
<line x1="886.3" y1="509.22" x2="886.3" y2="511.82" stroke="#000" stroke-width="0.75"/>
<text x="886.3" y="517.4" text-anchor="middle" font-size="9.5" fill="#a020f0">5</text>
<line x1="893" y1="509.22" x2="893" y2="511.82" stroke="#000" stroke-width="0.75"/>
<line x1="899.4" y1="509.22" x2="899.4" y2="511.82" stroke="#000" stroke-width="0.75"/>
<text x="899.4" y="517.4" text-anchor="middle" font-size="9.5" fill="#a020f0">7</text>
<line x1="908" y1="509.22" x2="908" y2="511.82" stroke="#000" stroke-width="0.75"/>
<line x1="917.2" y1="509.22" x2="917.2" y2="511.82" stroke="#000" stroke-width="0.75"/>
<text x="917.2" y="517.4" text-anchor="middle" font-size="9.5" fill="#a020f0">9</text>
<line x1="935.4" y1="509.22" x2="935.4" y2="511.82" stroke="#000" stroke-width="0.75"/>
<text x="935.4" y="517.4" text-anchor="middle" font-size="9.5" fill="#a020f0">10</text>
<rect x="88.5" y="13.8" width="847" height="79.86" fill="none" stroke="#000" stroke-width="0.75"/>
<rect x="88.5" y="96.37" width="847" height="79.86" fill="none" stroke="#000" stroke-width="0.75"/>
<rect x="88.5" y="178.94" width="847" height="79.86" fill="none" stroke="#000" stroke-width="0.75"/>
<rect x="88.5" y="261.51" width="847" height="79.86" fill="none" stroke="#000" stroke-width="0.75"/>
<rect x="88.5" y="344.08" width="847" height="79.86" fill="none" stroke="#000" stroke-width="0.75"/>
<rect x="88.5" y="426.65" width="847" height="79.86" fill="none" stroke="#000" stroke-width="0.75"/>
<rect x="88.5" y="509.22" width="847" height="79.86" fill="none" stroke="#000" stroke-width="0.75"/>
<line x1="83" y1="20.5" x2="88.5" y2="20.5" stroke="#000" stroke-width="0.75"/>
<text x="78.0" y="23.85" text-anchor="end" font-size="9.5">30</text>
<line x1="83" y1="32.15" x2="88.5" y2="32.15" stroke="#000" stroke-width="0.75"/>
<text x="78.0" y="35.5" text-anchor="end" font-size="9.5">25</text>
<line x1="83" y1="43.8" x2="88.5" y2="43.8" stroke="#000" stroke-width="0.75"/>
<text x="78.0" y="47.15" text-anchor="end" font-size="9.5">20</text>
<line x1="83" y1="55.45" x2="88.5" y2="55.45" stroke="#000" stroke-width="0.75"/>
<text x="78.0" y="58.8" text-anchor="end" font-size="9.5">15</text>
<line x1="83" y1="67.1" x2="88.5" y2="67.1" stroke="#000" stroke-width="0.75"/>
<text x="78.0" y="70.45" text-anchor="end" font-size="9.5">10</text>
<line x1="83" y1="78.75" x2="88.5" y2="78.75" stroke="#000" stroke-width="0.75"/>
<text x="78.0" y="82.1" text-anchor="end" font-size="9.5">5</text>
<line x1="83" y1="90.4" x2="88.5" y2="90.4" stroke="#000" stroke-width="0.75"/>
<text x="78.0" y="93.75" text-anchor="end" font-size="9.5">0</text>
<line x1="935.5" y1="22.36" x2="941" y2="22.36" stroke="#000" stroke-width="0.75"/>
<text x="952.0" y="25.71" font-size="9.5">15</text>
<line x1="935.5" y1="45.04" x2="941" y2="45.04" stroke="#000" stroke-width="0.75"/>
<text x="952.0" y="48.39" font-size="9.5">10</text>
<line x1="935.5" y1="67.72" x2="941" y2="67.72" stroke="#000" stroke-width="0.75"/>
<text x="952.0" y="71.07" font-size="9.5">5</text>
<line x1="935.5" y1="90.4" x2="941" y2="90.4" stroke="#000" stroke-width="0.75"/>
<text x="952.0" y="93.75" font-size="9.5">0</text>
<text x="31" y="53.73" transform="rotate(-90 31 53.73)" text-anchor="middle" font-size="14.3">wind (kts)</text>
<text x="1001.2" y="53.73" transform="rotate(-90 1001.2 53.73)" text-anchor="middle" font-size="14.3">wind (m/s)</text>
<line x1="83" y1="99.2" x2="88.5" y2="99.2" stroke="#000" stroke-width="0.75"/>
<text x="78.0" y="102.55" text-anchor="end" font-size="9.5">N</text>
<line x1="83" y1="117.75" x2="88.5" y2="117.75" stroke="#000" stroke-width="0.75"/>
<text x="78.0" y="121.1" text-anchor="end" font-size="9.5">W</text>
<line x1="83" y1="136.3" x2="88.5" y2="136.3" stroke="#000" stroke-width="0.75"/>
<text x="78.0" y="139.65" text-anchor="end" font-size="9.5">S</text>
<line x1="83" y1="154.85" x2="88.5" y2="154.85" stroke="#000" stroke-width="0.75"/>
<text x="78.0" y="158.2" text-anchor="end" font-size="9.5">E</text>
<line x1="83" y1="173.4" x2="88.5" y2="173.4" stroke="#000" stroke-width="0.75"/>
<text x="78.0" y="176.75" text-anchor="end" font-size="9.5">N</text>
<line x1="935.5" y1="99.2" x2="941" y2="99.2" stroke="#000" stroke-width="0.75"/>
<text x="946.2" y="102.55" font-size="9.5">N</text>
<line x1="935.5" y1="117.75" x2="941" y2="117.75" stroke="#000" stroke-width="0.75"/>
<text x="946.2" y="121.1" font-size="9.5">W</text>
<line x1="935.5" y1="136.3" x2="941" y2="136.3" stroke="#000" stroke-width="0.75"/>
<text x="946.2" y="139.65" font-size="9.5">S</text>
<line x1="935.5" y1="154.85" x2="941" y2="154.85" stroke="#000" stroke-width="0.75"/>
<text x="946.2" y="158.2" font-size="9.5">E</text>
<line x1="935.5" y1="173.4" x2="941" y2="173.4" stroke="#000" stroke-width="0.75"/>
<text x="946.2" y="176.75" font-size="9.5">N</text>
<text x="31" y="136.3" transform="rotate(-90 31 136.3)" text-anchor="middle" font-size="14.3">dir.</text>
<text x="1001.2" y="136.3" transform="rotate(-90 1001.2 136.3)" text-anchor="middle" font-size="14.3">dir.</text>
<line x1="83" y1="186.4" x2="88.5" y2="186.4" stroke="#000" stroke-width="0.75"/>
<text x="78.0" y="189.75" text-anchor="end" font-size="9.5">50</text>
<line x1="83" y1="198.2" x2="88.5" y2="198.2" stroke="#000" stroke-width="0.75"/>
<text x="78.0" y="201.55" text-anchor="end" font-size="9.5">45</text>
<line x1="83" y1="210" x2="88.5" y2="210" stroke="#000" stroke-width="0.75"/>
<text x="78.0" y="213.35" text-anchor="end" font-size="9.5">40</text>
<line x1="83" y1="221.8" x2="88.5" y2="221.8" stroke="#000" stroke-width="0.75"/>
<text x="78.0" y="225.15" text-anchor="end" font-size="9.5">35</text>
<line x1="83" y1="233.6" x2="88.5" y2="233.6" stroke="#000" stroke-width="0.75"/>
<text x="78.0" y="236.95" text-anchor="end" font-size="9.5">30</text>
<line x1="83" y1="245.4" x2="88.5" y2="245.4" stroke="#000" stroke-width="0.75"/>
<text x="78.0" y="248.75" text-anchor="end" font-size="9.5">25</text>
<line x1="83" y1="257.2" x2="88.5" y2="257.2" stroke="#000" stroke-width="0.75"/>
<text x="78.0" y="260.55" text-anchor="end" font-size="9.5">20</text>
<line x1="935.5" y1="186.4" x2="941" y2="186.4" stroke="#000" stroke-width="0.75"/>
<text x="952.0" y="189.75" font-size="9.5">10</text>
<line x1="935.5" y1="207.64" x2="941" y2="207.64" stroke="#000" stroke-width="0.75"/>
<text x="952.0" y="210.99" font-size="9.5">5</text>
<line x1="935.5" y1="228.88" x2="941" y2="228.88" stroke="#000" stroke-width="0.75"/>
<text x="952.0" y="232.23" font-size="9.5">0</text>
<line x1="935.5" y1="250.12" x2="941" y2="250.12" stroke="#000" stroke-width="0.75"/>
<text x="952.0" y="253.47" font-size="9.5">-5</text>
<text x="31" y="218.87" transform="rotate(-90 31 218.87)" text-anchor="middle" font-size="14.3">Tair/Tdew (F)</text>
<text x="1001.2" y="218.87" transform="rotate(-90 1001.2 218.87)" text-anchor="middle" font-size="14.3">Tair/Tdew (C)</text>
<line x1="83" y1="269.2" x2="88.5" y2="269.2" stroke="#000" stroke-width="0.75"/>
<text x="78.0" y="272.55" text-anchor="end" font-size="9.5">90</text>
<line x1="83" y1="281.85" x2="88.5" y2="281.85" stroke="#000" stroke-width="0.75"/>
<text x="78.0" y="285.2" text-anchor="end" font-size="9.5">80</text>
<line x1="83" y1="294.5" x2="88.5" y2="294.5" stroke="#000" stroke-width="0.75"/>
<text x="78.0" y="297.85" text-anchor="end" font-size="9.5">70</text>
<line x1="83" y1="307.15" x2="88.5" y2="307.15" stroke="#000" stroke-width="0.75"/>
<text x="78.0" y="310.5" text-anchor="end" font-size="9.5">60</text>
<line x1="83" y1="319.8" x2="88.5" y2="319.8" stroke="#000" stroke-width="0.75"/>
<text x="78.0" y="323.15" text-anchor="end" font-size="9.5">50</text>
<line x1="83" y1="332.45" x2="88.5" y2="332.45" stroke="#000" stroke-width="0.75"/>
<text x="78.0" y="335.8" text-anchor="end" font-size="9.5">40</text>
<line x1="935.5" y1="269.2" x2="941" y2="269.2" stroke="#000" stroke-width="0.75"/>
<text x="946.0" y="272.55" font-size="9.5">90</text>
<line x1="935.5" y1="281.85" x2="941" y2="281.85" stroke="#000" stroke-width="0.75"/>
<text x="946.0" y="285.2" font-size="9.5">80</text>
<line x1="935.5" y1="294.5" x2="941" y2="294.5" stroke="#000" stroke-width="0.75"/>
<text x="946.0" y="297.85" font-size="9.5">70</text>
<line x1="935.5" y1="307.15" x2="941" y2="307.15" stroke="#000" stroke-width="0.75"/>
<text x="946.0" y="310.5" font-size="9.5">60</text>
<line x1="935.5" y1="319.8" x2="941" y2="319.8" stroke="#000" stroke-width="0.75"/>
<text x="946.0" y="323.15" font-size="9.5">50</text>
<line x1="935.5" y1="332.45" x2="941" y2="332.45" stroke="#000" stroke-width="0.75"/>
<text x="946.0" y="335.8" font-size="9.5">40</text>
<text x="31" y="301.44" transform="rotate(-90 31 301.44)" text-anchor="middle" font-size="14.3">RH (%)</text>
<text x="1001.2" y="301.44" transform="rotate(-90 1001.2 301.44)" text-anchor="middle" font-size="14.3">RH (%)</text>
<line x1="83" y1="351.4" x2="88.5" y2="351.4" stroke="#000" stroke-width="0.75"/>
<text x="78.0" y="354.75" text-anchor="end" font-size="9.5">30.6</text>
<line x1="83" y1="370.17" x2="88.5" y2="370.17" stroke="#000" stroke-width="0.75"/>
<text x="78.0" y="373.52" text-anchor="end" font-size="9.5">30.4</text>
<line x1="83" y1="388.93" x2="88.5" y2="388.93" stroke="#000" stroke-width="0.75"/>
<text x="78.0" y="392.28" text-anchor="end" font-size="9.5">30.2</text>
<line x1="83" y1="407.7" x2="88.5" y2="407.7" stroke="#000" stroke-width="0.75"/>
<text x="78.0" y="411.05" text-anchor="end" font-size="9.5">30.0</text>
<line x1="935.5" y1="354.2" x2="941" y2="354.2" stroke="#000" stroke-width="0.75"/>
<text x="952.0" y="357.55" font-size="9.5">1035</text>
<line x1="935.5" y1="368.27" x2="941" y2="368.27" stroke="#000" stroke-width="0.75"/>
<text x="952.0" y="371.62" font-size="9.5">1030</text>
<line x1="935.5" y1="382.35" x2="941" y2="382.35" stroke="#000" stroke-width="0.75"/>
<text x="952.0" y="385.7" font-size="9.5">1025</text>
<line x1="935.5" y1="396.43" x2="941" y2="396.43" stroke="#000" stroke-width="0.75"/>
<text x="952.0" y="399.78" font-size="9.5">1020</text>
<line x1="935.5" y1="410.5" x2="941" y2="410.5" stroke="#000" stroke-width="0.75"/>
<text x="952.0" y="413.85" font-size="9.5">1015</text>
<text x="31" y="384.01" transform="rotate(-90 31 384.01)" text-anchor="middle" font-size="14.3">SLP (inHg)</text>
<text x="1001.2" y="384.01" transform="rotate(-90 1001.2 384.01)" text-anchor="middle" font-size="14.3">SLP (hPa)</text>
<line x1="83" y1="429.2" x2="88.5" y2="429.2" stroke="#000" stroke-width="0.75"/>
<text x="78.0" y="432.55" text-anchor="end" font-size="9.5">0.12</text>
<line x1="83" y1="441.58" x2="88.5" y2="441.58" stroke="#000" stroke-width="0.75"/>
<text x="78.0" y="444.93" text-anchor="end" font-size="9.5">0.10</text>
<line x1="83" y1="453.96" x2="88.5" y2="453.96" stroke="#000" stroke-width="0.75"/>
<text x="78.0" y="457.31" text-anchor="end" font-size="9.5">0.08</text>
<line x1="83" y1="466.35" x2="88.5" y2="466.35" stroke="#000" stroke-width="0.75"/>
<text x="78.0" y="469.7" text-anchor="end" font-size="9.5">0.06</text>
<line x1="83" y1="478.73" x2="88.5" y2="478.73" stroke="#000" stroke-width="0.75"/>
<text x="78.0" y="482.08" text-anchor="end" font-size="9.5">0.04</text>
<line x1="83" y1="491.12" x2="88.5" y2="491.12" stroke="#000" stroke-width="0.75"/>
<text x="78.0" y="494.47" text-anchor="end" font-size="9.5">0.02</text>
<line x1="83" y1="503.5" x2="88.5" y2="503.5" stroke="#000" stroke-width="0.75"/>
<text x="78.0" y="506.85" text-anchor="end" font-size="9.5">0.00</text>
<line x1="935.5" y1="430.6" x2="941" y2="430.6" stroke="#000" stroke-width="0.75"/>
<text x="952.0" y="433.95" font-size="9.5">3</text>
<line x1="935.5" y1="442.75" x2="941" y2="442.75" stroke="#000" stroke-width="0.75"/>
<text x="952.0" y="446.1" font-size="9.5">2.5</text>
<line x1="935.5" y1="454.9" x2="941" y2="454.9" stroke="#000" stroke-width="0.75"/>
<text x="952.0" y="458.25" font-size="9.5">2</text>
<line x1="935.5" y1="467.05" x2="941" y2="467.05" stroke="#000" stroke-width="0.75"/>
<text x="952.0" y="470.4" font-size="9.5">1.5</text>
<line x1="935.5" y1="479.2" x2="941" y2="479.2" stroke="#000" stroke-width="0.75"/>
<text x="952.0" y="482.55" font-size="9.5">1</text>
<line x1="935.5" y1="491.35" x2="941" y2="491.35" stroke="#000" stroke-width="0.75"/>
<text x="952.0" y="494.7" font-size="9.5">0.5</text>
<line x1="935.5" y1="503.5" x2="941" y2="503.5" stroke="#000" stroke-width="0.75"/>
<text x="952.0" y="506.85" font-size="9.5">0</text>
<text x="31" y="466.58" transform="rotate(-90 31 466.58)" text-anchor="middle" font-size="14.3">pcp. (in)</text>
<text x="1001.2" y="466.58" transform="rotate(-90 1001.2 466.58)" text-anchor="middle" font-size="14.3">pcp. (mm)</text>
<line x1="83" y1="510.2" x2="88.5" y2="510.2" stroke="#000" stroke-width="0.75"/>
<text x="78.0" y="513.55" text-anchor="end" font-size="9.5">60</text>
<line x1="83" y1="522.85" x2="88.5" y2="522.85" stroke="#000" stroke-width="0.75"/>
<text x="78.0" y="526.2" text-anchor="end" font-size="9.5">50</text>
<line x1="83" y1="535.5" x2="88.5" y2="535.5" stroke="#000" stroke-width="0.75"/>
<text x="78.0" y="538.85" text-anchor="end" font-size="9.5">40</text>
<line x1="83" y1="548.15" x2="88.5" y2="548.15" stroke="#000" stroke-width="0.75"/>
<text x="78.0" y="551.5" text-anchor="end" font-size="9.5">30</text>
<line x1="83" y1="560.8" x2="88.5" y2="560.8" stroke="#000" stroke-width="0.75"/>
<text x="78.0" y="564.15" text-anchor="end" font-size="9.5">20</text>
<line x1="83" y1="573.45" x2="88.5" y2="573.45" stroke="#000" stroke-width="0.75"/>
<text x="78.0" y="576.8" text-anchor="end" font-size="9.5">10</text>
<line x1="83" y1="586.1" x2="88.5" y2="586.1" stroke="#000" stroke-width="0.75"/>
<text x="78.0" y="589.45" text-anchor="end" font-size="9.5">0</text>
<line x1="935.5" y1="521" x2="941" y2="521" stroke="#000" stroke-width="0.75"/>
<text x="952.0" y="524.35" font-size="9.5">600</text>
<line x1="935.5" y1="542.7" x2="941" y2="542.7" stroke="#000" stroke-width="0.75"/>
<text x="952.0" y="546.05" font-size="9.5">400</text>
<line x1="935.5" y1="564.4" x2="941" y2="564.4" stroke="#000" stroke-width="0.75"/>
<text x="952.0" y="567.75" font-size="9.5">200</text>
<line x1="935.5" y1="586.1" x2="941" y2="586.1" stroke="#000" stroke-width="0.75"/>
<text x="952.0" y="589.45" font-size="9.5">0</text>
<text x="31" y="549.15" transform="rotate(-90 31 549.15)" text-anchor="middle" font-size="14.3">rad(Lgly/hr)</text>
<text x="1001.2" y="549.15" transform="rotate(-90 1001.2 549.15)" text-anchor="middle" font-size="14.3">rad (W/m^2)</text>
<line x1="88.5" y1="589.08" x2="935.5" y2="589.08" stroke="#000" stroke-width="1.6"/>
<line x1="89.3" y1="589.08" x2="89.3" y2="596.58" stroke="#000" stroke-width="0.75"/>
<text x="89.3" y="613.8" text-anchor="middle" font-size="14.3" fill="#ff0000">23Oct</text>
<text x="89.3" y="630.5" text-anchor="middle" font-size="14.3" fill="#ff0000">00z</text>
<line x1="124.55" y1="589.08" x2="124.55" y2="592.68" stroke="#000" stroke-width="0.75"/>
<text x="124.55" y="608.6" text-anchor="middle" font-size="9.5">03z</text>
<line x1="159.8" y1="589.08" x2="159.8" y2="592.68" stroke="#000" stroke-width="0.75"/>
<text x="159.8" y="608.6" text-anchor="middle" font-size="9.5">06z</text>
<line x1="195.05" y1="589.08" x2="195.05" y2="592.68" stroke="#000" stroke-width="0.75"/>
<text x="195.05" y="608.6" text-anchor="middle" font-size="9.5">09z</text>
<line x1="230.3" y1="589.08" x2="230.3" y2="596.08" stroke="#000" stroke-width="0.75"/>
<text x="230.3" y="608.6" text-anchor="middle" font-size="9.5">12z</text>
<line x1="265.55" y1="589.08" x2="265.55" y2="592.68" stroke="#000" stroke-width="0.75"/>
<text x="265.55" y="608.6" text-anchor="middle" font-size="9.5">15z</text>
<line x1="300.8" y1="589.08" x2="300.8" y2="592.68" stroke="#000" stroke-width="0.75"/>
<text x="300.8" y="608.6" text-anchor="middle" font-size="9.5">18z</text>
<line x1="336.05" y1="589.08" x2="336.05" y2="592.68" stroke="#000" stroke-width="0.75"/>
<text x="336.05" y="608.6" text-anchor="middle" font-size="9.5">21z</text>
<line x1="371.3" y1="589.08" x2="371.3" y2="596.58" stroke="#000" stroke-width="0.75"/>
<text x="371.3" y="613.8" text-anchor="middle" font-size="14.3" fill="#ff0000">24Oct</text>
<text x="371.3" y="630.5" text-anchor="middle" font-size="14.3" fill="#ff0000">00z</text>
<line x1="406.55" y1="589.08" x2="406.55" y2="592.68" stroke="#000" stroke-width="0.75"/>
<text x="406.55" y="608.6" text-anchor="middle" font-size="9.5">03z</text>
<line x1="441.8" y1="589.08" x2="441.8" y2="592.68" stroke="#000" stroke-width="0.75"/>
<text x="441.8" y="608.6" text-anchor="middle" font-size="9.5">06z</text>
<line x1="477.05" y1="589.08" x2="477.05" y2="592.68" stroke="#000" stroke-width="0.75"/>
<text x="477.05" y="608.6" text-anchor="middle" font-size="9.5">09z</text>
<line x1="512.3" y1="589.08" x2="512.3" y2="596.08" stroke="#000" stroke-width="0.75"/>
<text x="512.3" y="608.6" text-anchor="middle" font-size="9.5">12z</text>
<line x1="547.55" y1="589.08" x2="547.55" y2="592.68" stroke="#000" stroke-width="0.75"/>
<text x="547.55" y="608.6" text-anchor="middle" font-size="9.5">15z</text>
<line x1="582.8" y1="589.08" x2="582.8" y2="592.68" stroke="#000" stroke-width="0.75"/>
<text x="582.8" y="608.6" text-anchor="middle" font-size="9.5">18z</text>
<line x1="618.05" y1="589.08" x2="618.05" y2="592.68" stroke="#000" stroke-width="0.75"/>
<text x="618.05" y="608.6" text-anchor="middle" font-size="9.5">21z</text>
<line x1="653.3" y1="589.08" x2="653.3" y2="596.58" stroke="#000" stroke-width="0.75"/>
<text x="653.3" y="613.8" text-anchor="middle" font-size="14.3" fill="#ff0000">25Oct</text>
<text x="653.3" y="630.5" text-anchor="middle" font-size="14.3" fill="#ff0000">00z</text>
<line x1="688.55" y1="589.08" x2="688.55" y2="592.68" stroke="#000" stroke-width="0.75"/>
<text x="688.55" y="608.6" text-anchor="middle" font-size="9.5">03z</text>
<line x1="723.8" y1="589.08" x2="723.8" y2="592.68" stroke="#000" stroke-width="0.75"/>
<text x="723.8" y="608.6" text-anchor="middle" font-size="9.5">06z</text>
<line x1="759.05" y1="589.08" x2="759.05" y2="592.68" stroke="#000" stroke-width="0.75"/>
<text x="759.05" y="608.6" text-anchor="middle" font-size="9.5">09z</text>
<line x1="794.3" y1="589.08" x2="794.3" y2="596.08" stroke="#000" stroke-width="0.75"/>
<text x="794.3" y="608.6" text-anchor="middle" font-size="9.5">12z</text>
<line x1="829.55" y1="589.08" x2="829.55" y2="592.68" stroke="#000" stroke-width="0.75"/>
<text x="829.55" y="608.6" text-anchor="middle" font-size="9.5">15z</text>
<line x1="864.8" y1="589.08" x2="864.8" y2="592.68" stroke="#000" stroke-width="0.75"/>
<text x="864.8" y="608.6" text-anchor="middle" font-size="9.5">18z</text>
<line x1="900.05" y1="589.08" x2="900.05" y2="592.68" stroke="#000" stroke-width="0.75"/>
<text x="900.05" y="608.6" text-anchor="middle" font-size="9.5">21z</text>
<text x="935.3" y="613.8" text-anchor="middle" font-size="14.3" fill="#ff0000">26Oct</text>
<text x="935.3" y="630.5" text-anchor="middle" font-size="14.3" fill="#ff0000">00z</text>
<text x="512" y="664.6" text-anchor="middle" font-size="16.7" fill="#0000ff">UW Rooftop Data for 20201022  to  20201025 @ 23:57:21  (UTC)</text>
</svg>
</body></html>
